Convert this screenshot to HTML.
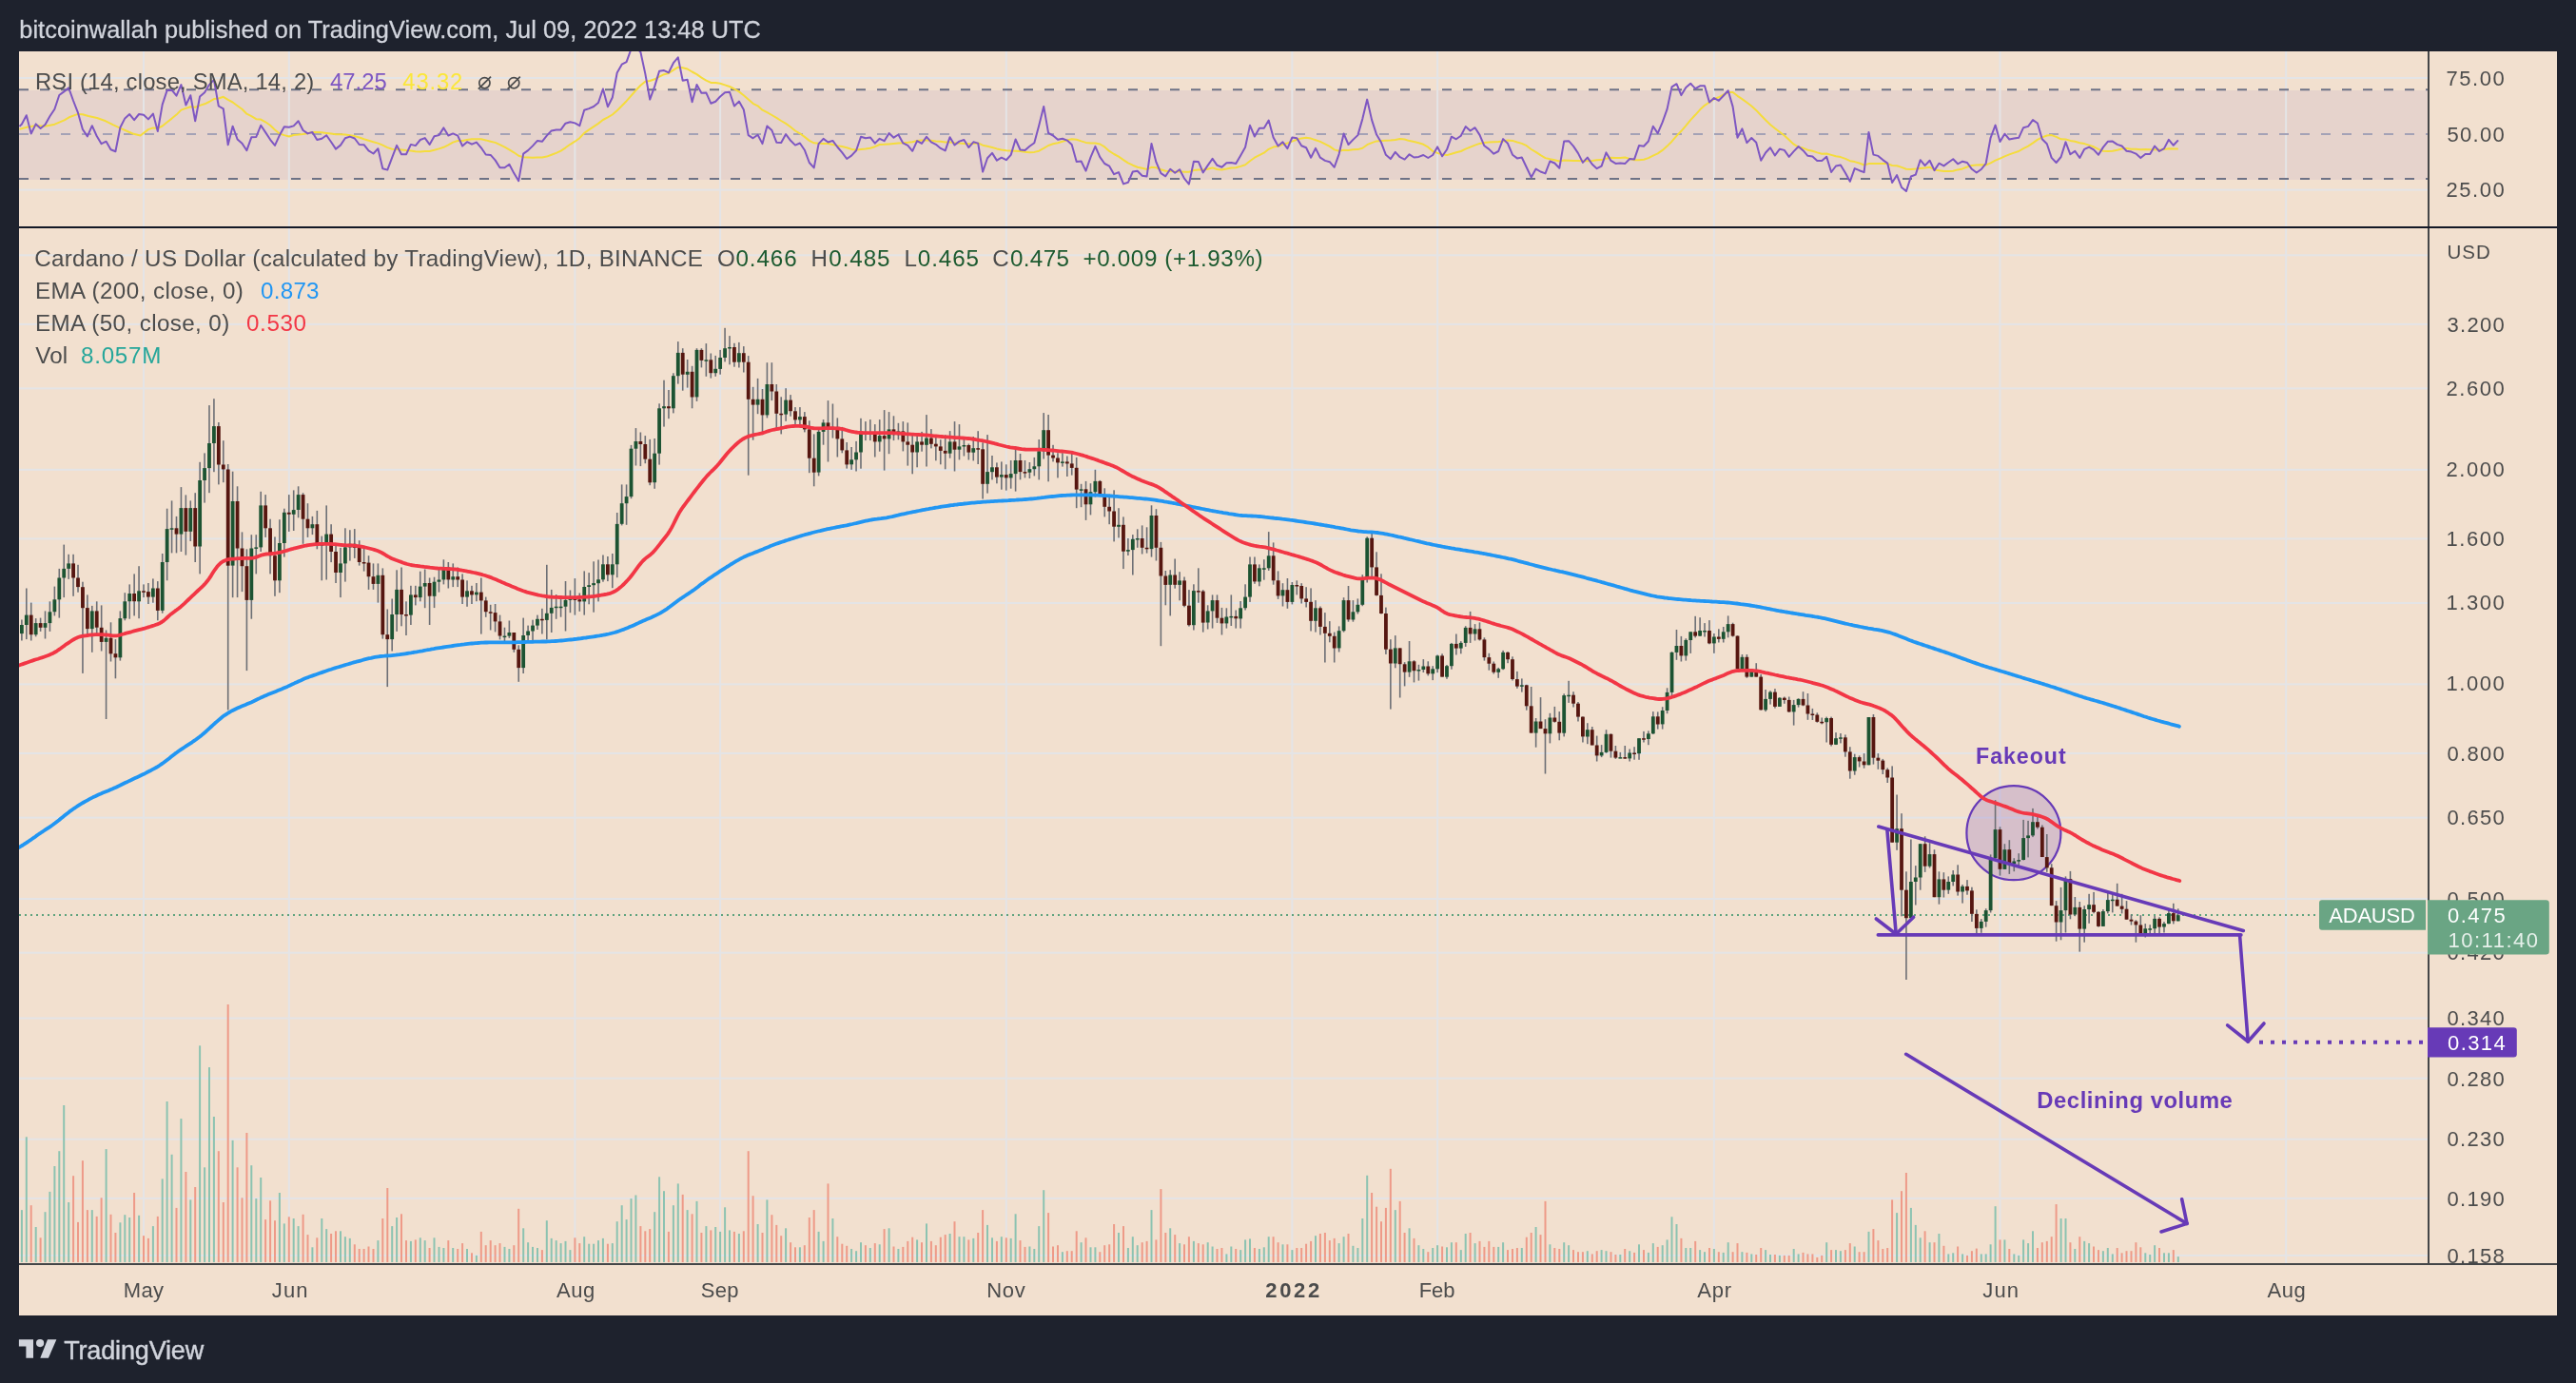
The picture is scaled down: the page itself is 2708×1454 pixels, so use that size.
<!DOCTYPE html>
<html><head><meta charset="utf-8"><style>
html,body{margin:0;padding:0;}
body{width:2708px;height:1454px;background:#1e222d;overflow:hidden;position:relative;}
</style></head><body>
<svg width="2708" height="1454" style="position:absolute;left:0;top:0;will-change:transform"><defs><clipPath id="cm"><rect x="20" y="240" width="2532" height="1087.5"/></clipPath><clipPath id="cr"><rect x="20" y="54" width="2532" height="183.5"/></clipPath></defs><rect x="20" y="54" width="2668" height="1329" fill="#f2e0cf"/><rect x="20" y="95" width="2533" height="94" fill="#e6d3cc"/><rect x="150.0" y="54" width="2" height="1274.5" fill="#e4e4e6"/><rect x="302.8" y="54" width="2" height="1274.5" fill="#e4e4e6"/><rect x="603.4" y="54" width="2" height="1274.5" fill="#e4e4e6"/><rect x="756.1" y="54" width="2" height="1274.5" fill="#e4e4e6"/><rect x="1056.8" y="54" width="2" height="1274.5" fill="#e4e4e6"/><rect x="1357.4" y="54" width="2" height="1274.5" fill="#e4e4e6"/><rect x="1510.1" y="54" width="2" height="1274.5" fill="#e4e4e6"/><rect x="1800.9" y="54" width="2" height="1274.5" fill="#e4e4e6"/><rect x="2101.5" y="54" width="2" height="1274.5" fill="#e4e4e6"/><rect x="2402.1" y="54" width="2" height="1274.5" fill="#e4e4e6"/><rect x="20" y="267.3" width="2533" height="2" fill="#e4e4e6"/><rect x="20" y="339.9" width="2533" height="2" fill="#e4e4e6"/><rect x="20" y="407.4" width="2533" height="2" fill="#e4e4e6"/><rect x="20" y="492.8" width="2533" height="2" fill="#e4e4e6"/><rect x="20" y="565.4" width="2533" height="2" fill="#e4e4e6"/><rect x="20" y="633.0" width="2533" height="2" fill="#e4e4e6"/><rect x="20" y="718.4" width="2533" height="2" fill="#e4e4e6"/><rect x="20" y="791.0" width="2533" height="2" fill="#e4e4e6"/><rect x="20" y="858.6" width="2533" height="2" fill="#e4e4e6"/><rect x="20" y="944.0" width="2533" height="2" fill="#e4e4e6"/><rect x="20" y="1000.7" width="2533" height="2" fill="#e4e4e6"/><rect x="20" y="1069.5" width="2533" height="2" fill="#e4e4e6"/><rect x="20" y="1132.7" width="2533" height="2" fill="#e4e4e6"/><rect x="20" y="1196.7" width="2533" height="2" fill="#e4e4e6"/><rect x="20" y="1258.9" width="2533" height="2" fill="#e4e4e6"/><rect x="20" y="1318.9" width="2533" height="2" fill="#e4e4e6"/><rect x="20" y="81" width="2533" height="2" fill="#e4e4e6"/><rect x="20" y="198.6" width="2533" height="2" fill="#e4e4e6"/><line x1="20" y1="94.2" x2="2553" y2="94.2" stroke="#6e7286" stroke-width="2" stroke-dasharray="10 12"/><line x1="20" y1="141" x2="2553" y2="141" stroke="#a4a2b6" stroke-width="2" stroke-dasharray="10 12"/><line x1="20" y1="188" x2="2553" y2="188" stroke="#6e7286" stroke-width="2" stroke-dasharray="10 12"/><polyline points="20.5,135.9 28.1,133.7 38.2,132.1 47.4,132.7 57.5,130.7 67.6,126.3 72.7,123.3 81.8,119.9 86.8,120.2 92.9,122.0 102.0,124.0 111.1,127.3 119.2,131.4 127.3,135.1 139.5,140.5 147.6,142.5 155.9,136.1 160.9,134.4 165.8,134.9 170.7,132.5 175.6,128.5 180.6,124.6 185.5,120.6 190.4,115.6 195.4,113.9 200.3,112.2 205.2,112.7 210.1,110.9 215.1,109.3 220.0,107.0 224.9,104.1 229.8,103.5 234.8,101.8 239.7,104.8 244.6,107.5 249.6,111.2 254.5,114.8 259.4,119.7 264.3,122.1 269.3,125.2 274.2,125.6 279.1,128.3 284.1,131.8 289.0,136.4 293.9,140.5 298.8,142.1 303.8,143.5 308.7,142.0 313.6,141.6 318.6,141.0 323.5,140.2 328.4,138.9 333.3,139.0 338.3,139.2 343.2,139.9 348.1,140.6 353.0,141.3 358.0,141.3 362.9,141.5 367.8,142.3 372.8,143.1 377.7,144.5 382.6,146.3 387.5,147.8 392.5,149.3 397.4,150.6 402.3,152.7 407.3,155.1 412.2,156.8 417.1,157.0 422.0,157.4 427.0,158.1 431.9,158.6 436.8,159.3 441.8,159.4 446.7,158.9 451.6,158.9 456.5,157.8 461.5,156.4 466.4,154.8 471.3,152.3 476.2,149.6 481.2,148.0 486.1,148.0 491.0,147.1 496.0,146.3 500.9,146.2 505.8,146.3 510.7,147.4 515.7,148.7 520.6,149.9 525.5,152.2 530.5,154.7 535.4,157.4 540.3,160.3 545.2,163.8 550.2,165.2 555.1,165.5 560.0,165.8 565.0,165.5 569.9,165.5 574.8,164.6 579.7,162.8 584.7,160.9 589.6,158.6 594.5,155.3 599.4,151.8 604.4,148.7 609.3,145.2 614.2,139.8 619.2,136.4 624.1,133.1 629.0,129.9 633.9,126.0 638.9,123.4 643.8,120.5 648.7,116.2 653.7,111.3 658.6,106.2 663.5,100.6 668.4,95.0 673.4,89.7 678.3,85.8 683.2,85.0 688.2,83.3 693.1,80.7 698.0,78.2 702.9,77.0 707.9,73.7 712.8,70.7 717.7,71.3 722.6,72.5 727.6,75.5 732.5,78.1 737.4,81.6 742.4,84.6 747.3,86.9 752.2,87.0 757.1,87.8 762.1,89.4 767.0,91.0 771.9,93.5 776.9,96.4 781.8,100.3 786.7,104.4 791.6,108.8 796.6,111.3 801.5,115.7 806.4,118.2 811.4,121.0 816.3,123.9 821.2,127.0 826.1,129.9 831.1,133.5 836.0,137.5 840.9,140.3 845.8,143.9 850.8,147.9 855.7,150.3 860.6,150.8 865.6,151.0 870.5,150.9 875.4,152.0 880.3,153.3 885.3,154.0 890.2,155.2 895.1,156.9 900.1,157.6 905.0,157.0 909.9,156.6 914.8,155.7 919.8,154.2 924.7,152.0 929.6,151.8 934.6,151.4 939.5,151.0 944.4,150.6 949.3,150.3 954.3,149.8 959.2,149.2 964.1,148.1 969.0,147.5 974.0,147.5 978.9,147.8 983.8,148.4 988.8,148.7 993.7,149.6 998.6,149.4 1003.5,150.2 1008.5,150.5 1013.4,150.9 1018.3,151.2 1023.3,151.0 1028.2,150.4 1033.1,152.7 1038.0,153.8 1043.0,155.0 1047.9,156.4 1052.8,157.4 1057.8,158.3 1062.7,158.6 1067.6,158.7 1072.5,159.1 1077.5,159.8 1082.4,160.3 1087.3,159.9 1092.2,158.7 1097.2,155.9 1102.1,153.0 1107.0,151.3 1112.0,150.3 1116.9,148.7 1121.8,147.4 1126.7,146.2 1131.7,146.7 1136.6,148.4 1141.5,149.9 1146.5,150.5 1151.4,150.5 1156.3,151.5 1161.2,154.4 1166.2,158.9 1171.1,162.0 1176.0,164.7 1181.0,168.1 1185.9,171.4 1190.8,173.7 1195.7,175.7 1200.7,176.8 1205.6,177.9 1210.5,175.8 1215.4,176.2 1220.4,178.2 1225.3,179.7 1230.2,180.1 1235.2,180.6 1240.1,180.2 1245.0,180.7 1249.9,180.7 1254.9,179.1 1259.8,178.4 1264.7,178.5 1269.7,177.7 1274.6,176.4 1279.5,178.0 1284.4,178.4 1289.4,177.6 1294.3,176.6 1299.2,176.2 1304.2,174.9 1309.1,173.2 1314.0,169.2 1318.9,165.7 1323.9,163.2 1328.8,160.7 1333.7,156.8 1338.6,154.6 1343.6,153.7 1348.5,151.9 1353.4,150.5 1358.4,148.6 1363.3,146.8 1368.2,145.4 1373.1,144.8 1378.1,145.6 1383.0,147.3 1387.9,148.9 1392.9,151.4 1397.8,153.9 1402.7,157.4 1407.6,158.7 1412.6,157.7 1417.5,157.9 1422.4,157.3 1427.4,157.1 1432.3,155.7 1437.2,152.2 1442.1,150.1 1447.1,148.4 1452.0,147.9 1456.9,147.7 1461.8,147.6 1466.8,146.9 1471.7,146.1 1476.6,146.5 1481.6,148.1 1486.5,149.0 1491.4,150.3 1496.3,151.8 1501.3,154.7 1506.2,158.9 1511.1,160.9 1516.1,162.6 1521.0,163.1 1525.9,161.7 1530.8,160.2 1535.8,159.0 1540.7,156.7 1545.6,154.6 1550.6,152.6 1555.5,150.9 1560.4,150.1 1565.3,149.6 1570.3,149.3 1575.2,149.0 1580.1,148.4 1585.0,147.5 1590.0,147.9 1594.9,149.5 1599.8,150.9 1604.8,153.2 1609.7,157.0 1614.6,159.9 1619.5,163.2 1624.5,166.1 1629.4,167.3 1634.3,168.3 1639.3,169.4 1644.2,168.6 1649.1,168.8 1654.0,169.0 1659.0,168.9 1663.9,169.2 1668.8,169.2 1673.8,169.0 1678.7,168.3 1683.6,168.1 1688.5,166.7 1693.5,165.7 1698.4,165.9 1703.3,165.9 1708.2,165.5 1713.2,166.9 1718.1,168.2 1723.0,168.2 1728.0,167.7 1732.9,166.1 1737.8,163.7 1742.7,161.4 1747.7,157.9 1752.6,153.6 1757.5,148.7 1762.5,142.9 1767.4,137.8 1772.3,132.1 1777.2,126.1 1782.2,120.8 1787.1,115.3 1792.0,110.8 1797.0,107.5 1801.9,104.2 1806.8,102.3 1811.7,99.5 1816.7,97.1 1821.6,97.0 1826.5,100.8 1831.4,104.1 1836.4,107.7 1841.3,111.5 1846.2,115.9 1851.2,121.3 1856.1,126.3 1861.0,131.0 1865.9,135.0 1870.9,138.8 1875.8,142.5 1880.7,147.1 1885.7,151.7 1890.6,154.7 1895.5,155.6 1900.4,157.7 1905.4,158.7 1910.3,160.4 1915.2,161.8 1920.2,161.5 1925.1,162.9 1930.0,164.3 1934.9,165.1 1939.9,166.9 1944.8,169.2 1949.7,170.1 1954.6,171.5 1959.6,173.5 1964.5,172.1 1969.4,172.0 1974.4,172.0 1979.3,171.9 1984.2,172.1 1989.1,174.0 1994.1,174.3 1999.0,175.9 2003.9,177.8 2008.9,178.1 2013.8,177.6 2018.7,176.9 2023.6,176.6 2028.6,175.7 2033.5,178.6 2038.4,179.2 2043.4,179.9 2048.3,180.1 2053.2,179.8 2058.1,178.4 2063.1,177.4 2068.0,175.5 2072.9,173.9 2077.8,173.6 2082.8,173.2 2087.7,173.5 2092.6,171.4 2097.6,168.7 2102.5,166.6 2107.4,164.4 2112.3,162.4 2117.3,160.6 2122.2,159.0 2127.1,156.2 2132.1,153.6 2137.0,150.4 2141.9,146.9 2146.8,144.4 2151.8,142.5 2156.7,142.1 2161.6,143.9 2166.6,146.3 2171.5,146.4 2176.4,147.9 2181.3,148.8 2186.3,150.2 2191.2,151.1 2196.1,152.6 2201.0,154.3 2206.0,156.9 2210.9,158.7 2215.8,158.9 2220.8,158.7 2225.7,157.7 2230.6,156.5 2235.5,156.0 2240.5,156.8 2245.4,156.7 2250.3,157.2 2255.3,157.0 2260.2,157.3 2265.1,157.2 2270.0,157.4 2275.0,156.9 2279.9,156.3 2284.8,156.6 2289.8,156.5" fill="none" stroke="#f5dc3c" stroke-width="2" stroke-linejoin="round" clip-path="url(#cr)"/><polyline points="20.5,132.9 22.9,130.5 27.8,121.2 32.7,140.5 37.7,130.4 42.6,134.9 47.5,130.9 52.4,122.3 57.4,114.7 62.3,100.0 67.2,96.4 72.2,92.4 77.1,106.0 82.0,118.7 86.9,136.0 91.9,143.4 96.8,132.2 101.7,143.0 106.6,151.2 111.6,148.7 116.5,157.3 121.4,159.3 126.4,134.0 131.3,124.4 136.2,120.1 141.1,126.2 146.1,120.0 151.0,120.7 155.9,125.4 160.9,119.6 165.8,138.1 170.7,109.9 175.6,95.1 180.6,94.7 185.5,100.7 190.4,89.1 195.4,110.6 200.3,100.2 205.2,127.3 210.1,101.4 215.1,97.2 220.0,89.1 224.9,83.9 229.8,111.5 234.8,114.3 239.7,152.3 244.6,132.7 249.6,146.5 254.5,150.8 259.4,158.2 264.3,144.3 269.3,144.0 274.2,131.8 279.1,139.1 284.1,146.8 289.0,152.9 293.9,142.2 298.8,133.2 303.8,133.8 308.7,132.4 313.6,127.2 318.6,137.0 323.5,140.4 328.4,138.9 333.3,147.0 338.3,145.7 343.2,142.2 348.1,149.2 353.0,156.6 358.0,152.6 362.9,145.2 367.8,143.6 372.8,145.5 377.7,152.0 382.6,152.2 387.5,158.4 392.5,161.5 397.4,156.3 402.3,177.3 407.3,178.6 412.2,165.6 417.1,152.9 422.0,162.2 427.0,162.3 431.9,151.9 436.8,153.1 441.8,147.0 446.7,145.1 451.6,151.9 456.5,143.3 461.5,142.1 466.4,134.4 471.3,142.5 476.2,140.4 481.2,142.6 486.1,153.5 491.0,149.2 496.0,151.7 500.9,149.6 505.8,155.3 510.7,162.5 515.7,162.9 520.6,168.4 525.5,176.3 530.5,176.3 535.4,172.8 540.3,182.1 545.2,190.2 550.2,161.6 555.1,158.1 560.0,153.4 565.0,147.9 569.9,148.8 574.8,142.6 579.7,137.4 584.7,136.4 589.6,136.4 594.5,129.7 599.4,128.2 604.4,129.4 609.3,132.2 614.2,115.8 619.2,114.1 624.1,112.0 629.0,108.0 633.9,93.5 638.9,112.2 643.8,102.5 648.7,76.5 653.7,67.7 658.6,65.1 663.5,51.5 668.4,50.0 673.4,54.7 678.3,77.4 683.2,104.6 688.2,90.9 693.1,74.7 698.0,74.1 702.9,76.4 707.9,66.2 712.8,60.3 717.7,84.8 722.6,83.8 727.6,107.2 732.5,89.0 737.4,97.8 742.4,97.6 747.3,108.7 752.2,106.7 757.1,101.5 762.1,97.3 767.0,96.7 771.9,111.5 776.9,106.6 781.8,115.2 786.7,142.1 791.6,145.3 796.6,141.8 801.5,151.1 806.4,132.4 811.4,137.0 816.3,149.7 821.2,150.1 826.1,141.1 831.1,147.8 836.0,152.6 840.9,150.5 845.8,157.7 850.8,171.0 855.7,176.4 860.6,151.1 865.6,145.9 870.5,149.5 875.4,147.9 880.3,154.5 885.3,160.4 890.2,167.0 895.1,163.6 900.1,158.2 905.0,143.8 909.9,145.3 914.8,144.4 919.8,150.6 924.7,145.8 929.6,148.2 934.6,140.1 939.5,144.7 944.4,141.5 949.3,150.4 954.3,152.9 959.2,158.8 964.1,148.1 969.0,150.9 974.0,143.8 978.9,149.4 983.8,151.8 988.8,155.9 993.7,158.4 998.6,144.2 1003.5,152.4 1008.5,148.6 1013.4,147.0 1018.3,155.0 1023.3,149.3 1028.2,150.6 1033.1,180.6 1038.0,166.3 1043.0,160.9 1047.9,168.6 1052.8,165.7 1057.8,168.2 1062.7,162.9 1067.6,146.5 1072.5,157.5 1077.5,158.1 1082.4,153.8 1087.3,150.2 1092.2,132.0 1097.2,111.9 1102.1,139.9 1107.0,142.5 1112.0,146.7 1116.9,145.7 1121.8,147.6 1126.7,151.9 1131.7,169.9 1136.6,169.5 1141.5,179.6 1146.5,165.4 1151.4,153.9 1156.3,165.1 1161.2,172.0 1166.2,174.7 1171.1,183.2 1176.0,181.1 1181.0,193.4 1185.9,191.8 1190.8,180.5 1195.7,179.7 1200.7,184.7 1205.6,185.4 1210.5,151.0 1215.4,170.4 1220.4,182.2 1225.3,185.3 1230.2,177.8 1235.2,181.7 1240.1,178.2 1245.0,187.6 1249.9,193.6 1254.9,169.8 1259.8,169.9 1264.7,181.4 1269.7,173.9 1274.6,166.9 1279.5,173.8 1284.4,175.8 1289.4,171.3 1294.3,170.9 1299.2,172.0 1304.2,163.5 1309.1,154.8 1314.0,131.8 1318.9,143.5 1323.9,134.8 1328.8,134.8 1333.7,126.6 1338.6,144.4 1343.6,153.4 1348.5,149.3 1353.4,156.2 1358.4,144.5 1363.3,145.2 1368.2,153.2 1373.1,155.2 1378.1,165.7 1383.0,155.9 1387.9,165.7 1392.9,168.9 1397.8,170.2 1402.7,175.8 1407.6,162.1 1412.6,140.5 1417.5,152.0 1422.4,146.9 1427.4,142.1 1432.3,125.1 1437.2,104.6 1442.1,126.1 1447.1,141.6 1452.0,149.8 1456.9,162.8 1461.8,167.1 1466.8,159.9 1471.7,165.2 1476.6,167.6 1481.6,162.3 1486.5,165.5 1491.4,164.9 1496.3,163.0 1501.3,166.0 1506.2,163.0 1511.1,154.4 1516.1,164.3 1521.0,157.3 1525.9,143.7 1530.8,146.3 1535.8,142.8 1540.7,133.1 1545.6,137.5 1550.6,134.2 1555.5,141.9 1560.4,153.3 1565.3,156.9 1570.3,161.7 1575.2,159.0 1580.1,146.1 1585.0,150.8 1590.0,162.7 1594.9,166.4 1599.8,165.5 1604.8,176.0 1609.7,186.4 1614.6,177.6 1619.5,180.5 1624.5,182.4 1629.4,169.5 1634.3,171.5 1639.3,176.8 1644.2,148.4 1649.1,148.2 1654.0,153.6 1659.0,161.1 1663.9,170.9 1668.8,165.6 1673.8,172.8 1678.7,177.2 1683.6,174.6 1688.5,160.4 1693.5,168.9 1698.4,171.9 1703.3,171.5 1708.2,172.1 1713.2,167.0 1718.1,167.4 1723.0,153.1 1728.0,153.7 1732.9,148.5 1737.8,132.8 1742.7,140.1 1747.7,128.4 1752.6,114.6 1757.5,91.4 1762.5,88.2 1767.4,100.1 1772.3,91.9 1777.2,87.8 1782.2,93.1 1787.1,90.3 1792.0,90.3 1797.0,107.5 1801.9,103.0 1806.8,105.8 1811.7,100.7 1816.7,95.3 1821.6,112.1 1826.5,144.7 1831.4,135.4 1836.4,150.1 1841.3,145.0 1846.2,149.7 1851.2,168.7 1856.1,160.5 1861.0,155.3 1865.9,163.4 1870.9,156.7 1875.8,157.9 1880.7,164.9 1885.7,159.1 1890.6,154.0 1895.5,158.2 1900.4,163.8 1905.4,164.4 1910.3,168.9 1915.2,169.1 1920.2,164.7 1925.1,181.0 1930.0,174.5 1934.9,173.6 1939.9,181.8 1944.8,190.8 1949.7,177.1 1954.6,179.2 1959.6,181.1 1964.5,138.9 1969.4,162.6 1974.4,163.9 1979.3,168.1 1984.2,171.6 1989.1,192.0 1994.1,184.1 1999.0,196.9 2003.9,201.1 2008.9,185.5 2013.8,183.6 2018.7,168.2 2023.6,174.1 2028.6,168.7 2033.5,179.1 2038.4,171.7 2043.4,174.4 2048.3,170.7 2053.2,167.3 2058.1,172.3 2063.1,169.7 2068.0,171.0 2072.9,177.8 2077.8,181.5 2082.8,178.0 2087.7,171.8 2092.6,144.8 2097.6,131.6 2102.5,149.1 2107.4,140.7 2112.3,146.5 2117.3,145.5 2122.2,144.8 2127.1,134.2 2132.1,132.9 2137.0,126.1 2141.9,129.5 2146.8,146.2 2151.8,151.2 2156.7,165.9 2161.6,171.0 2166.6,165.0 2171.5,149.4 2176.4,162.3 2181.3,158.9 2186.3,166.0 2191.2,156.8 2196.1,154.6 2201.0,157.4 2206.0,162.8 2210.9,154.9 2215.8,148.8 2220.8,148.6 2225.7,151.9 2230.6,153.5 2235.5,158.7 2240.5,159.6 2245.4,161.6 2250.3,166.1 2255.3,162.0 2260.2,161.9 2265.1,153.6 2270.0,159.0 2275.0,156.1 2279.9,146.8 2284.8,152.8 2289.8,147.4" fill="none" stroke="#7e57c2" stroke-width="2" stroke-linejoin="round" clip-path="url(#cr)"/><circle cx="2116.9" cy="875.7" r="49.5" fill="#673ab7" fill-opacity="0.2" stroke="#673ab7" stroke-width="2.2"/><g clip-path="url(#cm)"><rect x="21.9" y="1272.1" width="2" height="54.9" fill="#8cc3b1"/><rect x="26.8" y="1195.3" width="2" height="131.7" fill="#8cc3b1"/><rect x="31.7" y="1267.2" width="2" height="59.8" fill="#ee9a88"/><rect x="36.7" y="1290.0" width="2" height="37.0" fill="#8cc3b1"/><rect x="41.6" y="1301.3" width="2" height="25.7" fill="#ee9a88"/><rect x="46.5" y="1274.2" width="2" height="52.8" fill="#8cc3b1"/><rect x="51.4" y="1252.9" width="2" height="74.1" fill="#8cc3b1"/><rect x="56.4" y="1226.0" width="2" height="101.0" fill="#8cc3b1"/><rect x="61.3" y="1210.2" width="2" height="116.8" fill="#8cc3b1"/><rect x="66.2" y="1162.0" width="2" height="165.0" fill="#8cc3b1"/><rect x="71.2" y="1264.0" width="2" height="63.0" fill="#8cc3b1"/><rect x="76.1" y="1236.2" width="2" height="90.8" fill="#ee9a88"/><rect x="81.0" y="1284.9" width="2" height="42.1" fill="#ee9a88"/><rect x="85.9" y="1220.2" width="2" height="106.8" fill="#ee9a88"/><rect x="90.9" y="1272.1" width="2" height="54.9" fill="#ee9a88"/><rect x="95.8" y="1272.1" width="2" height="54.9" fill="#8cc3b1"/><rect x="100.7" y="1278.9" width="2" height="48.1" fill="#ee9a88"/><rect x="105.6" y="1259.3" width="2" height="67.7" fill="#ee9a88"/><rect x="110.6" y="1208.1" width="2" height="118.9" fill="#8cc3b1"/><rect x="115.5" y="1276.8" width="2" height="50.2" fill="#ee9a88"/><rect x="120.4" y="1296.0" width="2" height="31.0" fill="#ee9a88"/><rect x="125.4" y="1285.3" width="2" height="41.7" fill="#8cc3b1"/><rect x="130.3" y="1277.2" width="2" height="49.8" fill="#8cc3b1"/><rect x="135.2" y="1280.0" width="2" height="47.0" fill="#8cc3b1"/><rect x="140.1" y="1254.0" width="2" height="73.0" fill="#ee9a88"/><rect x="145.1" y="1277.8" width="2" height="49.2" fill="#8cc3b1"/><rect x="150.0" y="1299.2" width="2" height="27.8" fill="#ee9a88"/><rect x="154.9" y="1301.9" width="2" height="25.1" fill="#ee9a88"/><rect x="159.9" y="1289.1" width="2" height="37.9" fill="#8cc3b1"/><rect x="164.8" y="1278.9" width="2" height="48.1" fill="#ee9a88"/><rect x="169.7" y="1239.4" width="2" height="87.6" fill="#8cc3b1"/><rect x="174.6" y="1158.0" width="2" height="169.0" fill="#8cc3b1"/><rect x="179.6" y="1213.8" width="2" height="113.2" fill="#8cc3b1"/><rect x="184.5" y="1269.9" width="2" height="57.1" fill="#ee9a88"/><rect x="189.4" y="1176.1" width="2" height="150.9" fill="#8cc3b1"/><rect x="194.4" y="1232.0" width="2" height="95.0" fill="#ee9a88"/><rect x="199.3" y="1261.4" width="2" height="65.6" fill="#8cc3b1"/><rect x="204.2" y="1248.0" width="2" height="79.0" fill="#ee9a88"/><rect x="209.1" y="1099.3" width="2" height="227.7" fill="#8cc3b1"/><rect x="214.1" y="1227.3" width="2" height="99.7" fill="#8cc3b1"/><rect x="219.0" y="1122.1" width="2" height="204.9" fill="#8cc3b1"/><rect x="223.9" y="1174.0" width="2" height="153.0" fill="#8cc3b1"/><rect x="228.8" y="1210.2" width="2" height="116.8" fill="#ee9a88"/><rect x="233.8" y="1264.0" width="2" height="63.0" fill="#ee9a88"/><rect x="238.7" y="1056.0" width="2" height="271.0" fill="#ee9a88"/><rect x="243.6" y="1198.9" width="2" height="128.1" fill="#8cc3b1"/><rect x="248.6" y="1227.3" width="2" height="99.7" fill="#ee9a88"/><rect x="253.5" y="1259.3" width="2" height="67.7" fill="#ee9a88"/><rect x="258.4" y="1191.0" width="2" height="136.0" fill="#ee9a88"/><rect x="263.3" y="1225.2" width="2" height="101.8" fill="#8cc3b1"/><rect x="268.3" y="1260.1" width="2" height="66.9" fill="#8cc3b1"/><rect x="273.2" y="1238.0" width="2" height="89.0" fill="#8cc3b1"/><rect x="278.1" y="1282.1" width="2" height="44.9" fill="#ee9a88"/><rect x="283.1" y="1262.3" width="2" height="64.7" fill="#ee9a88"/><rect x="288.0" y="1283.2" width="2" height="43.8" fill="#ee9a88"/><rect x="292.9" y="1254.0" width="2" height="73.0" fill="#8cc3b1"/><rect x="297.8" y="1286.4" width="2" height="40.6" fill="#8cc3b1"/><rect x="302.8" y="1279.3" width="2" height="47.7" fill="#ee9a88"/><rect x="307.7" y="1281.0" width="2" height="46.0" fill="#8cc3b1"/><rect x="312.6" y="1289.1" width="2" height="37.9" fill="#8cc3b1"/><rect x="317.6" y="1276.8" width="2" height="50.2" fill="#ee9a88"/><rect x="322.5" y="1298.1" width="2" height="28.9" fill="#ee9a88"/><rect x="327.4" y="1311.3" width="2" height="15.7" fill="#8cc3b1"/><rect x="332.3" y="1301.3" width="2" height="25.7" fill="#ee9a88"/><rect x="337.3" y="1281.0" width="2" height="46.0" fill="#8cc3b1"/><rect x="342.2" y="1292.1" width="2" height="34.9" fill="#8cc3b1"/><rect x="347.1" y="1297.0" width="2" height="30.0" fill="#ee9a88"/><rect x="352.0" y="1294.3" width="2" height="32.7" fill="#ee9a88"/><rect x="357.0" y="1294.3" width="2" height="32.7" fill="#8cc3b1"/><rect x="361.9" y="1300.2" width="2" height="26.8" fill="#8cc3b1"/><rect x="366.8" y="1301.9" width="2" height="25.1" fill="#8cc3b1"/><rect x="371.8" y="1308.3" width="2" height="18.7" fill="#ee9a88"/><rect x="376.7" y="1313.0" width="2" height="14.0" fill="#ee9a88"/><rect x="381.6" y="1313.0" width="2" height="14.0" fill="#ee9a88"/><rect x="386.5" y="1310.5" width="2" height="16.5" fill="#ee9a88"/><rect x="391.5" y="1313.0" width="2" height="14.0" fill="#ee9a88"/><rect x="396.4" y="1304.1" width="2" height="22.9" fill="#8cc3b1"/><rect x="401.3" y="1281.0" width="2" height="46.0" fill="#ee9a88"/><rect x="406.3" y="1249.0" width="2" height="78.0" fill="#ee9a88"/><rect x="411.2" y="1289.1" width="2" height="37.9" fill="#8cc3b1"/><rect x="416.1" y="1280.0" width="2" height="47.0" fill="#8cc3b1"/><rect x="421.0" y="1276.3" width="2" height="50.7" fill="#ee9a88"/><rect x="426.0" y="1304.1" width="2" height="22.9" fill="#ee9a88"/><rect x="430.9" y="1304.9" width="2" height="22.1" fill="#8cc3b1"/><rect x="435.8" y="1303.4" width="2" height="23.6" fill="#ee9a88"/><rect x="440.8" y="1301.3" width="2" height="25.7" fill="#8cc3b1"/><rect x="445.7" y="1304.1" width="2" height="22.9" fill="#8cc3b1"/><rect x="450.6" y="1312.0" width="2" height="15.0" fill="#ee9a88"/><rect x="455.5" y="1301.3" width="2" height="25.7" fill="#8cc3b1"/><rect x="460.5" y="1310.9" width="2" height="16.1" fill="#8cc3b1"/><rect x="465.4" y="1312.0" width="2" height="15.0" fill="#8cc3b1"/><rect x="470.3" y="1304.1" width="2" height="22.9" fill="#ee9a88"/><rect x="475.2" y="1312.0" width="2" height="15.0" fill="#8cc3b1"/><rect x="480.2" y="1313.0" width="2" height="14.0" fill="#ee9a88"/><rect x="485.1" y="1307.1" width="2" height="19.9" fill="#ee9a88"/><rect x="490.0" y="1313.0" width="2" height="14.0" fill="#8cc3b1"/><rect x="495.0" y="1317.3" width="2" height="9.7" fill="#ee9a88"/><rect x="499.9" y="1319.9" width="2" height="7.1" fill="#8cc3b1"/><rect x="504.8" y="1294.9" width="2" height="32.1" fill="#ee9a88"/><rect x="509.7" y="1309.2" width="2" height="17.8" fill="#ee9a88"/><rect x="514.7" y="1304.1" width="2" height="22.9" fill="#ee9a88"/><rect x="519.6" y="1309.2" width="2" height="17.8" fill="#ee9a88"/><rect x="524.5" y="1307.1" width="2" height="19.9" fill="#ee9a88"/><rect x="529.5" y="1310.9" width="2" height="16.1" fill="#8cc3b1"/><rect x="534.4" y="1313.0" width="2" height="14.0" fill="#8cc3b1"/><rect x="539.3" y="1309.2" width="2" height="17.8" fill="#ee9a88"/><rect x="544.2" y="1270.8" width="2" height="56.2" fill="#ee9a88"/><rect x="549.2" y="1291.3" width="2" height="35.7" fill="#8cc3b1"/><rect x="554.1" y="1306.2" width="2" height="20.8" fill="#8cc3b1"/><rect x="559.0" y="1310.9" width="2" height="16.1" fill="#8cc3b1"/><rect x="564.0" y="1312.0" width="2" height="15.0" fill="#8cc3b1"/><rect x="568.9" y="1314.1" width="2" height="12.9" fill="#ee9a88"/><rect x="573.8" y="1283.2" width="2" height="43.8" fill="#8cc3b1"/><rect x="578.7" y="1301.9" width="2" height="25.1" fill="#8cc3b1"/><rect x="583.7" y="1304.1" width="2" height="22.9" fill="#8cc3b1"/><rect x="588.6" y="1307.1" width="2" height="19.9" fill="#8cc3b1"/><rect x="593.5" y="1304.9" width="2" height="22.1" fill="#8cc3b1"/><rect x="598.4" y="1314.1" width="2" height="12.9" fill="#8cc3b1"/><rect x="603.4" y="1301.3" width="2" height="25.7" fill="#ee9a88"/><rect x="608.3" y="1307.1" width="2" height="19.9" fill="#ee9a88"/><rect x="613.2" y="1300.2" width="2" height="26.8" fill="#8cc3b1"/><rect x="618.2" y="1307.7" width="2" height="19.3" fill="#8cc3b1"/><rect x="623.1" y="1307.7" width="2" height="19.3" fill="#8cc3b1"/><rect x="628.0" y="1304.1" width="2" height="22.9" fill="#8cc3b1"/><rect x="632.9" y="1301.9" width="2" height="25.1" fill="#8cc3b1"/><rect x="637.9" y="1307.7" width="2" height="19.3" fill="#ee9a88"/><rect x="642.8" y="1307.1" width="2" height="19.9" fill="#8cc3b1"/><rect x="647.7" y="1284.2" width="2" height="42.8" fill="#8cc3b1"/><rect x="652.7" y="1267.2" width="2" height="59.8" fill="#8cc3b1"/><rect x="657.6" y="1282.1" width="2" height="44.9" fill="#8cc3b1"/><rect x="662.5" y="1260.1" width="2" height="66.9" fill="#8cc3b1"/><rect x="667.4" y="1256.5" width="2" height="70.5" fill="#8cc3b1"/><rect x="672.4" y="1289.1" width="2" height="37.9" fill="#ee9a88"/><rect x="677.3" y="1294.3" width="2" height="32.7" fill="#ee9a88"/><rect x="682.2" y="1292.1" width="2" height="34.9" fill="#ee9a88"/><rect x="687.2" y="1274.2" width="2" height="52.8" fill="#8cc3b1"/><rect x="692.1" y="1237.3" width="2" height="89.7" fill="#8cc3b1"/><rect x="697.0" y="1252.2" width="2" height="74.8" fill="#8cc3b1"/><rect x="701.9" y="1294.9" width="2" height="32.1" fill="#ee9a88"/><rect x="706.9" y="1267.2" width="2" height="59.8" fill="#8cc3b1"/><rect x="711.8" y="1244.4" width="2" height="82.6" fill="#8cc3b1"/><rect x="716.7" y="1255.9" width="2" height="71.1" fill="#ee9a88"/><rect x="721.6" y="1272.1" width="2" height="54.9" fill="#8cc3b1"/><rect x="726.6" y="1276.3" width="2" height="50.7" fill="#ee9a88"/><rect x="731.5" y="1262.9" width="2" height="64.1" fill="#8cc3b1"/><rect x="736.4" y="1296.0" width="2" height="31.0" fill="#ee9a88"/><rect x="741.4" y="1289.1" width="2" height="37.9" fill="#8cc3b1"/><rect x="746.3" y="1293.4" width="2" height="33.6" fill="#ee9a88"/><rect x="751.2" y="1290.0" width="2" height="37.0" fill="#8cc3b1"/><rect x="756.1" y="1294.9" width="2" height="32.1" fill="#8cc3b1"/><rect x="761.1" y="1269.3" width="2" height="57.7" fill="#8cc3b1"/><rect x="766.0" y="1293.4" width="2" height="33.6" fill="#8cc3b1"/><rect x="770.9" y="1294.9" width="2" height="32.1" fill="#ee9a88"/><rect x="775.9" y="1297.0" width="2" height="30.0" fill="#8cc3b1"/><rect x="780.8" y="1294.3" width="2" height="32.7" fill="#ee9a88"/><rect x="785.7" y="1210.2" width="2" height="116.8" fill="#ee9a88"/><rect x="790.6" y="1257.2" width="2" height="69.8" fill="#ee9a88"/><rect x="795.6" y="1287.0" width="2" height="40.0" fill="#8cc3b1"/><rect x="800.5" y="1296.0" width="2" height="31.0" fill="#ee9a88"/><rect x="805.4" y="1261.4" width="2" height="65.6" fill="#8cc3b1"/><rect x="810.4" y="1277.2" width="2" height="49.8" fill="#ee9a88"/><rect x="815.3" y="1287.9" width="2" height="39.1" fill="#ee9a88"/><rect x="820.2" y="1299.2" width="2" height="27.8" fill="#ee9a88"/><rect x="825.1" y="1291.3" width="2" height="35.7" fill="#8cc3b1"/><rect x="830.1" y="1306.2" width="2" height="20.8" fill="#ee9a88"/><rect x="835.0" y="1311.3" width="2" height="15.7" fill="#ee9a88"/><rect x="839.9" y="1311.3" width="2" height="15.7" fill="#8cc3b1"/><rect x="844.8" y="1309.2" width="2" height="17.8" fill="#ee9a88"/><rect x="849.8" y="1280.0" width="2" height="47.0" fill="#ee9a88"/><rect x="854.7" y="1272.1" width="2" height="54.9" fill="#ee9a88"/><rect x="859.6" y="1294.9" width="2" height="32.1" fill="#8cc3b1"/><rect x="864.6" y="1304.9" width="2" height="22.1" fill="#8cc3b1"/><rect x="869.5" y="1244.4" width="2" height="82.6" fill="#ee9a88"/><rect x="874.4" y="1281.0" width="2" height="46.0" fill="#8cc3b1"/><rect x="879.3" y="1300.2" width="2" height="26.8" fill="#ee9a88"/><rect x="884.3" y="1307.7" width="2" height="19.3" fill="#ee9a88"/><rect x="889.2" y="1309.8" width="2" height="17.2" fill="#ee9a88"/><rect x="894.1" y="1313.0" width="2" height="14.0" fill="#8cc3b1"/><rect x="899.1" y="1315.2" width="2" height="11.8" fill="#8cc3b1"/><rect x="904.0" y="1306.2" width="2" height="20.8" fill="#8cc3b1"/><rect x="908.9" y="1309.2" width="2" height="17.8" fill="#ee9a88"/><rect x="913.8" y="1312.0" width="2" height="15.0" fill="#8cc3b1"/><rect x="918.8" y="1307.1" width="2" height="19.9" fill="#ee9a88"/><rect x="923.7" y="1308.3" width="2" height="18.7" fill="#8cc3b1"/><rect x="928.6" y="1292.1" width="2" height="34.9" fill="#ee9a88"/><rect x="933.6" y="1291.3" width="2" height="35.7" fill="#8cc3b1"/><rect x="938.5" y="1310.5" width="2" height="16.5" fill="#ee9a88"/><rect x="943.4" y="1313.0" width="2" height="14.0" fill="#8cc3b1"/><rect x="948.3" y="1310.9" width="2" height="16.1" fill="#ee9a88"/><rect x="953.3" y="1304.9" width="2" height="22.1" fill="#ee9a88"/><rect x="958.2" y="1300.7" width="2" height="26.3" fill="#ee9a88"/><rect x="963.1" y="1303.4" width="2" height="23.6" fill="#8cc3b1"/><rect x="968.0" y="1306.2" width="2" height="20.8" fill="#ee9a88"/><rect x="973.0" y="1286.4" width="2" height="40.6" fill="#8cc3b1"/><rect x="977.9" y="1304.9" width="2" height="22.1" fill="#ee9a88"/><rect x="982.8" y="1309.2" width="2" height="17.8" fill="#ee9a88"/><rect x="987.8" y="1300.7" width="2" height="26.3" fill="#ee9a88"/><rect x="992.7" y="1298.1" width="2" height="28.9" fill="#ee9a88"/><rect x="997.6" y="1297.0" width="2" height="30.0" fill="#8cc3b1"/><rect x="1002.5" y="1284.2" width="2" height="42.8" fill="#ee9a88"/><rect x="1007.5" y="1300.2" width="2" height="26.8" fill="#8cc3b1"/><rect x="1012.4" y="1300.2" width="2" height="26.8" fill="#8cc3b1"/><rect x="1017.3" y="1303.4" width="2" height="23.6" fill="#ee9a88"/><rect x="1022.3" y="1301.9" width="2" height="25.1" fill="#8cc3b1"/><rect x="1027.2" y="1296.0" width="2" height="31.0" fill="#ee9a88"/><rect x="1032.1" y="1272.1" width="2" height="54.9" fill="#ee9a88"/><rect x="1037.0" y="1287.9" width="2" height="39.1" fill="#8cc3b1"/><rect x="1042.0" y="1301.3" width="2" height="25.7" fill="#8cc3b1"/><rect x="1046.9" y="1304.9" width="2" height="22.1" fill="#ee9a88"/><rect x="1051.8" y="1300.2" width="2" height="26.8" fill="#8cc3b1"/><rect x="1056.8" y="1301.3" width="2" height="25.7" fill="#ee9a88"/><rect x="1061.7" y="1301.9" width="2" height="25.1" fill="#8cc3b1"/><rect x="1066.6" y="1276.3" width="2" height="50.7" fill="#8cc3b1"/><rect x="1071.5" y="1304.1" width="2" height="22.9" fill="#ee9a88"/><rect x="1076.5" y="1310.9" width="2" height="16.1" fill="#ee9a88"/><rect x="1081.4" y="1310.5" width="2" height="16.5" fill="#8cc3b1"/><rect x="1086.3" y="1313.0" width="2" height="14.0" fill="#8cc3b1"/><rect x="1091.2" y="1289.1" width="2" height="37.9" fill="#8cc3b1"/><rect x="1096.2" y="1251.2" width="2" height="75.8" fill="#8cc3b1"/><rect x="1101.1" y="1275.1" width="2" height="51.9" fill="#ee9a88"/><rect x="1106.0" y="1310.5" width="2" height="16.5" fill="#ee9a88"/><rect x="1111.0" y="1309.2" width="2" height="17.8" fill="#ee9a88"/><rect x="1115.9" y="1316.2" width="2" height="10.8" fill="#8cc3b1"/><rect x="1120.8" y="1315.2" width="2" height="11.8" fill="#ee9a88"/><rect x="1125.7" y="1315.2" width="2" height="11.8" fill="#ee9a88"/><rect x="1130.7" y="1294.3" width="2" height="32.7" fill="#ee9a88"/><rect x="1135.6" y="1306.2" width="2" height="20.8" fill="#8cc3b1"/><rect x="1140.5" y="1301.3" width="2" height="25.7" fill="#ee9a88"/><rect x="1145.5" y="1311.3" width="2" height="15.7" fill="#8cc3b1"/><rect x="1150.4" y="1311.3" width="2" height="15.7" fill="#8cc3b1"/><rect x="1155.3" y="1316.2" width="2" height="10.8" fill="#ee9a88"/><rect x="1160.2" y="1309.2" width="2" height="17.8" fill="#ee9a88"/><rect x="1165.2" y="1308.3" width="2" height="18.7" fill="#ee9a88"/><rect x="1170.1" y="1287.0" width="2" height="40.0" fill="#ee9a88"/><rect x="1175.0" y="1296.0" width="2" height="31.0" fill="#8cc3b1"/><rect x="1180.0" y="1289.1" width="2" height="37.9" fill="#ee9a88"/><rect x="1184.9" y="1312.0" width="2" height="15.0" fill="#8cc3b1"/><rect x="1189.8" y="1300.2" width="2" height="26.8" fill="#8cc3b1"/><rect x="1194.7" y="1309.2" width="2" height="17.8" fill="#8cc3b1"/><rect x="1199.7" y="1306.2" width="2" height="20.8" fill="#ee9a88"/><rect x="1204.6" y="1304.9" width="2" height="22.1" fill="#ee9a88"/><rect x="1209.5" y="1272.1" width="2" height="54.9" fill="#8cc3b1"/><rect x="1214.4" y="1303.4" width="2" height="23.6" fill="#ee9a88"/><rect x="1219.4" y="1250.1" width="2" height="76.9" fill="#ee9a88"/><rect x="1224.3" y="1296.0" width="2" height="31.0" fill="#ee9a88"/><rect x="1229.2" y="1291.3" width="2" height="35.7" fill="#8cc3b1"/><rect x="1234.2" y="1298.1" width="2" height="28.9" fill="#ee9a88"/><rect x="1239.1" y="1307.1" width="2" height="19.9" fill="#8cc3b1"/><rect x="1244.0" y="1308.3" width="2" height="18.7" fill="#ee9a88"/><rect x="1248.9" y="1300.2" width="2" height="26.8" fill="#ee9a88"/><rect x="1253.9" y="1304.9" width="2" height="22.1" fill="#8cc3b1"/><rect x="1258.8" y="1307.1" width="2" height="19.9" fill="#ee9a88"/><rect x="1263.7" y="1308.3" width="2" height="18.7" fill="#ee9a88"/><rect x="1268.7" y="1306.2" width="2" height="20.8" fill="#8cc3b1"/><rect x="1273.6" y="1310.5" width="2" height="16.5" fill="#8cc3b1"/><rect x="1278.5" y="1313.0" width="2" height="14.0" fill="#ee9a88"/><rect x="1283.4" y="1312.0" width="2" height="15.0" fill="#ee9a88"/><rect x="1288.4" y="1318.4" width="2" height="8.6" fill="#8cc3b1"/><rect x="1293.3" y="1310.5" width="2" height="16.5" fill="#8cc3b1"/><rect x="1298.2" y="1313.0" width="2" height="14.0" fill="#ee9a88"/><rect x="1303.2" y="1314.1" width="2" height="12.9" fill="#8cc3b1"/><rect x="1308.1" y="1303.4" width="2" height="23.6" fill="#8cc3b1"/><rect x="1313.0" y="1302.4" width="2" height="24.6" fill="#8cc3b1"/><rect x="1317.9" y="1312.0" width="2" height="15.0" fill="#ee9a88"/><rect x="1322.9" y="1313.0" width="2" height="14.0" fill="#8cc3b1"/><rect x="1327.8" y="1311.3" width="2" height="15.7" fill="#8cc3b1"/><rect x="1332.7" y="1300.2" width="2" height="26.8" fill="#8cc3b1"/><rect x="1337.6" y="1300.2" width="2" height="26.8" fill="#ee9a88"/><rect x="1342.6" y="1306.2" width="2" height="20.8" fill="#ee9a88"/><rect x="1347.5" y="1308.3" width="2" height="18.7" fill="#8cc3b1"/><rect x="1352.4" y="1308.3" width="2" height="18.7" fill="#ee9a88"/><rect x="1357.4" y="1314.1" width="2" height="12.9" fill="#8cc3b1"/><rect x="1362.3" y="1312.0" width="2" height="15.0" fill="#ee9a88"/><rect x="1367.2" y="1312.0" width="2" height="15.0" fill="#ee9a88"/><rect x="1372.1" y="1307.7" width="2" height="19.3" fill="#ee9a88"/><rect x="1377.1" y="1304.9" width="2" height="22.1" fill="#ee9a88"/><rect x="1382.0" y="1299.2" width="2" height="27.8" fill="#8cc3b1"/><rect x="1386.9" y="1297.0" width="2" height="30.0" fill="#ee9a88"/><rect x="1391.9" y="1296.0" width="2" height="31.0" fill="#ee9a88"/><rect x="1396.8" y="1304.1" width="2" height="22.9" fill="#ee9a88"/><rect x="1401.7" y="1301.9" width="2" height="25.1" fill="#ee9a88"/><rect x="1406.6" y="1307.1" width="2" height="19.9" fill="#8cc3b1"/><rect x="1411.6" y="1300.2" width="2" height="26.8" fill="#8cc3b1"/><rect x="1416.5" y="1297.0" width="2" height="30.0" fill="#ee9a88"/><rect x="1421.4" y="1309.8" width="2" height="17.2" fill="#8cc3b1"/><rect x="1426.4" y="1312.0" width="2" height="15.0" fill="#8cc3b1"/><rect x="1431.3" y="1281.0" width="2" height="46.0" fill="#8cc3b1"/><rect x="1436.2" y="1235.8" width="2" height="91.2" fill="#8cc3b1"/><rect x="1441.1" y="1254.0" width="2" height="73.0" fill="#ee9a88"/><rect x="1446.1" y="1268.7" width="2" height="58.3" fill="#ee9a88"/><rect x="1451.0" y="1284.2" width="2" height="42.8" fill="#ee9a88"/><rect x="1455.9" y="1269.9" width="2" height="57.1" fill="#ee9a88"/><rect x="1460.8" y="1228.8" width="2" height="98.2" fill="#ee9a88"/><rect x="1465.8" y="1272.1" width="2" height="54.9" fill="#8cc3b1"/><rect x="1470.7" y="1262.9" width="2" height="64.1" fill="#ee9a88"/><rect x="1475.6" y="1296.0" width="2" height="31.0" fill="#ee9a88"/><rect x="1480.6" y="1291.3" width="2" height="35.7" fill="#8cc3b1"/><rect x="1485.5" y="1301.9" width="2" height="25.1" fill="#ee9a88"/><rect x="1490.4" y="1309.2" width="2" height="17.8" fill="#8cc3b1"/><rect x="1495.3" y="1313.0" width="2" height="14.0" fill="#8cc3b1"/><rect x="1500.3" y="1316.2" width="2" height="10.8" fill="#ee9a88"/><rect x="1505.2" y="1312.0" width="2" height="15.0" fill="#8cc3b1"/><rect x="1510.1" y="1309.2" width="2" height="17.8" fill="#8cc3b1"/><rect x="1515.1" y="1310.5" width="2" height="16.5" fill="#ee9a88"/><rect x="1520.0" y="1311.3" width="2" height="15.7" fill="#8cc3b1"/><rect x="1524.9" y="1306.2" width="2" height="20.8" fill="#8cc3b1"/><rect x="1529.8" y="1306.2" width="2" height="20.8" fill="#ee9a88"/><rect x="1534.8" y="1314.1" width="2" height="12.9" fill="#8cc3b1"/><rect x="1539.7" y="1297.0" width="2" height="30.0" fill="#8cc3b1"/><rect x="1544.6" y="1296.0" width="2" height="31.0" fill="#ee9a88"/><rect x="1549.6" y="1307.1" width="2" height="19.9" fill="#8cc3b1"/><rect x="1554.5" y="1304.9" width="2" height="22.1" fill="#ee9a88"/><rect x="1559.4" y="1310.9" width="2" height="16.1" fill="#ee9a88"/><rect x="1564.3" y="1304.9" width="2" height="22.1" fill="#ee9a88"/><rect x="1569.3" y="1310.9" width="2" height="16.1" fill="#ee9a88"/><rect x="1574.2" y="1310.9" width="2" height="16.1" fill="#8cc3b1"/><rect x="1579.1" y="1306.2" width="2" height="20.8" fill="#8cc3b1"/><rect x="1584.0" y="1314.1" width="2" height="12.9" fill="#ee9a88"/><rect x="1589.0" y="1313.0" width="2" height="14.0" fill="#ee9a88"/><rect x="1593.9" y="1312.0" width="2" height="15.0" fill="#ee9a88"/><rect x="1598.8" y="1312.0" width="2" height="15.0" fill="#8cc3b1"/><rect x="1603.8" y="1300.7" width="2" height="26.3" fill="#ee9a88"/><rect x="1608.7" y="1296.0" width="2" height="31.0" fill="#ee9a88"/><rect x="1613.6" y="1290.0" width="2" height="37.0" fill="#8cc3b1"/><rect x="1618.5" y="1298.1" width="2" height="28.9" fill="#ee9a88"/><rect x="1623.5" y="1262.9" width="2" height="64.1" fill="#ee9a88"/><rect x="1628.4" y="1308.3" width="2" height="18.7" fill="#8cc3b1"/><rect x="1633.3" y="1312.0" width="2" height="15.0" fill="#ee9a88"/><rect x="1638.3" y="1313.0" width="2" height="14.0" fill="#ee9a88"/><rect x="1643.2" y="1306.2" width="2" height="20.8" fill="#8cc3b1"/><rect x="1648.1" y="1309.2" width="2" height="17.8" fill="#8cc3b1"/><rect x="1653.0" y="1314.1" width="2" height="12.9" fill="#ee9a88"/><rect x="1658.0" y="1316.2" width="2" height="10.8" fill="#ee9a88"/><rect x="1662.9" y="1316.2" width="2" height="10.8" fill="#ee9a88"/><rect x="1667.8" y="1315.2" width="2" height="11.8" fill="#8cc3b1"/><rect x="1672.8" y="1318.4" width="2" height="8.6" fill="#ee9a88"/><rect x="1677.7" y="1315.2" width="2" height="11.8" fill="#ee9a88"/><rect x="1682.6" y="1314.1" width="2" height="12.9" fill="#8cc3b1"/><rect x="1687.5" y="1315.2" width="2" height="11.8" fill="#8cc3b1"/><rect x="1692.5" y="1316.2" width="2" height="10.8" fill="#ee9a88"/><rect x="1697.4" y="1319.0" width="2" height="8.0" fill="#ee9a88"/><rect x="1702.3" y="1319.0" width="2" height="8.0" fill="#8cc3b1"/><rect x="1707.2" y="1313.0" width="2" height="14.0" fill="#ee9a88"/><rect x="1712.2" y="1315.2" width="2" height="11.8" fill="#8cc3b1"/><rect x="1717.1" y="1316.9" width="2" height="10.1" fill="#ee9a88"/><rect x="1722.0" y="1308.3" width="2" height="18.7" fill="#8cc3b1"/><rect x="1727.0" y="1314.1" width="2" height="12.9" fill="#ee9a88"/><rect x="1731.9" y="1316.9" width="2" height="10.1" fill="#8cc3b1"/><rect x="1736.8" y="1307.1" width="2" height="19.9" fill="#8cc3b1"/><rect x="1741.7" y="1310.9" width="2" height="16.1" fill="#ee9a88"/><rect x="1746.7" y="1309.2" width="2" height="17.8" fill="#8cc3b1"/><rect x="1751.6" y="1303.4" width="2" height="23.6" fill="#8cc3b1"/><rect x="1756.5" y="1279.3" width="2" height="47.7" fill="#8cc3b1"/><rect x="1761.5" y="1287.0" width="2" height="40.0" fill="#8cc3b1"/><rect x="1766.4" y="1301.9" width="2" height="25.1" fill="#ee9a88"/><rect x="1771.3" y="1312.0" width="2" height="15.0" fill="#8cc3b1"/><rect x="1776.2" y="1312.0" width="2" height="15.0" fill="#8cc3b1"/><rect x="1781.2" y="1304.9" width="2" height="22.1" fill="#ee9a88"/><rect x="1786.1" y="1314.1" width="2" height="12.9" fill="#8cc3b1"/><rect x="1791.0" y="1316.2" width="2" height="10.8" fill="#8cc3b1"/><rect x="1796.0" y="1312.0" width="2" height="15.0" fill="#ee9a88"/><rect x="1800.9" y="1313.0" width="2" height="14.0" fill="#8cc3b1"/><rect x="1805.8" y="1316.2" width="2" height="10.8" fill="#ee9a88"/><rect x="1810.7" y="1316.9" width="2" height="10.1" fill="#8cc3b1"/><rect x="1815.7" y="1306.2" width="2" height="20.8" fill="#8cc3b1"/><rect x="1820.6" y="1316.2" width="2" height="10.8" fill="#ee9a88"/><rect x="1825.5" y="1307.1" width="2" height="19.9" fill="#ee9a88"/><rect x="1830.4" y="1316.2" width="2" height="10.8" fill="#8cc3b1"/><rect x="1835.4" y="1316.9" width="2" height="10.1" fill="#ee9a88"/><rect x="1840.3" y="1318.4" width="2" height="8.6" fill="#8cc3b1"/><rect x="1845.2" y="1319.0" width="2" height="8.0" fill="#ee9a88"/><rect x="1850.2" y="1312.0" width="2" height="15.0" fill="#ee9a88"/><rect x="1855.1" y="1314.1" width="2" height="12.9" fill="#8cc3b1"/><rect x="1860.0" y="1319.0" width="2" height="8.0" fill="#8cc3b1"/><rect x="1864.9" y="1319.0" width="2" height="8.0" fill="#ee9a88"/><rect x="1869.9" y="1319.9" width="2" height="7.1" fill="#8cc3b1"/><rect x="1874.8" y="1319.9" width="2" height="7.1" fill="#ee9a88"/><rect x="1879.7" y="1319.9" width="2" height="7.1" fill="#ee9a88"/><rect x="1884.7" y="1313.0" width="2" height="14.0" fill="#8cc3b1"/><rect x="1889.6" y="1318.4" width="2" height="8.6" fill="#8cc3b1"/><rect x="1894.5" y="1316.9" width="2" height="10.1" fill="#ee9a88"/><rect x="1899.4" y="1318.4" width="2" height="8.6" fill="#ee9a88"/><rect x="1904.4" y="1318.4" width="2" height="8.6" fill="#ee9a88"/><rect x="1909.3" y="1322.0" width="2" height="5.0" fill="#ee9a88"/><rect x="1914.2" y="1319.9" width="2" height="7.1" fill="#ee9a88"/><rect x="1919.2" y="1306.2" width="2" height="20.8" fill="#8cc3b1"/><rect x="1924.1" y="1314.1" width="2" height="12.9" fill="#ee9a88"/><rect x="1929.0" y="1314.1" width="2" height="12.9" fill="#8cc3b1"/><rect x="1933.9" y="1315.2" width="2" height="11.8" fill="#8cc3b1"/><rect x="1938.9" y="1314.1" width="2" height="12.9" fill="#ee9a88"/><rect x="1943.8" y="1307.1" width="2" height="19.9" fill="#ee9a88"/><rect x="1948.7" y="1310.5" width="2" height="16.5" fill="#8cc3b1"/><rect x="1953.6" y="1316.2" width="2" height="10.8" fill="#ee9a88"/><rect x="1958.6" y="1316.2" width="2" height="10.8" fill="#ee9a88"/><rect x="1963.5" y="1294.9" width="2" height="32.1" fill="#8cc3b1"/><rect x="1968.4" y="1292.1" width="2" height="34.9" fill="#ee9a88"/><rect x="1973.4" y="1304.1" width="2" height="22.9" fill="#ee9a88"/><rect x="1978.3" y="1313.0" width="2" height="14.0" fill="#ee9a88"/><rect x="1983.2" y="1312.0" width="2" height="15.0" fill="#ee9a88"/><rect x="1988.1" y="1261.4" width="2" height="65.6" fill="#ee9a88"/><rect x="1993.1" y="1275.1" width="2" height="51.9" fill="#8cc3b1"/><rect x="1998.0" y="1252.2" width="2" height="74.8" fill="#ee9a88"/><rect x="2002.9" y="1233.0" width="2" height="94.0" fill="#ee9a88"/><rect x="2007.9" y="1269.9" width="2" height="57.1" fill="#8cc3b1"/><rect x="2012.8" y="1287.9" width="2" height="39.1" fill="#8cc3b1"/><rect x="2017.7" y="1301.3" width="2" height="25.7" fill="#8cc3b1"/><rect x="2022.6" y="1294.3" width="2" height="32.7" fill="#ee9a88"/><rect x="2027.6" y="1306.2" width="2" height="20.8" fill="#8cc3b1"/><rect x="2032.5" y="1306.2" width="2" height="20.8" fill="#ee9a88"/><rect x="2037.4" y="1297.0" width="2" height="30.0" fill="#8cc3b1"/><rect x="2042.4" y="1309.8" width="2" height="17.2" fill="#ee9a88"/><rect x="2047.3" y="1318.4" width="2" height="8.6" fill="#8cc3b1"/><rect x="2052.2" y="1317.3" width="2" height="9.7" fill="#8cc3b1"/><rect x="2057.1" y="1310.5" width="2" height="16.5" fill="#ee9a88"/><rect x="2062.1" y="1318.4" width="2" height="8.6" fill="#8cc3b1"/><rect x="2067.0" y="1319.9" width="2" height="7.1" fill="#ee9a88"/><rect x="2071.9" y="1315.2" width="2" height="11.8" fill="#ee9a88"/><rect x="2076.8" y="1312.6" width="2" height="14.4" fill="#ee9a88"/><rect x="2081.8" y="1318.4" width="2" height="8.6" fill="#8cc3b1"/><rect x="2086.7" y="1318.4" width="2" height="8.6" fill="#8cc3b1"/><rect x="2091.6" y="1308.3" width="2" height="18.7" fill="#8cc3b1"/><rect x="2096.6" y="1268.2" width="2" height="58.8" fill="#8cc3b1"/><rect x="2101.5" y="1303.4" width="2" height="23.6" fill="#ee9a88"/><rect x="2106.4" y="1303.4" width="2" height="23.6" fill="#8cc3b1"/><rect x="2111.3" y="1313.0" width="2" height="14.0" fill="#ee9a88"/><rect x="2116.3" y="1318.4" width="2" height="8.6" fill="#8cc3b1"/><rect x="2121.2" y="1319.9" width="2" height="7.1" fill="#8cc3b1"/><rect x="2126.1" y="1303.4" width="2" height="23.6" fill="#8cc3b1"/><rect x="2131.1" y="1307.1" width="2" height="19.9" fill="#8cc3b1"/><rect x="2136.0" y="1294.3" width="2" height="32.7" fill="#8cc3b1"/><rect x="2140.9" y="1312.0" width="2" height="15.0" fill="#ee9a88"/><rect x="2145.8" y="1306.2" width="2" height="20.8" fill="#ee9a88"/><rect x="2150.8" y="1304.9" width="2" height="22.1" fill="#ee9a88"/><rect x="2155.7" y="1300.2" width="2" height="26.8" fill="#ee9a88"/><rect x="2160.6" y="1266.1" width="2" height="60.9" fill="#ee9a88"/><rect x="2165.6" y="1281.0" width="2" height="46.0" fill="#8cc3b1"/><rect x="2170.5" y="1281.0" width="2" height="46.0" fill="#8cc3b1"/><rect x="2175.4" y="1306.2" width="2" height="20.8" fill="#ee9a88"/><rect x="2180.3" y="1313.0" width="2" height="14.0" fill="#8cc3b1"/><rect x="2185.3" y="1300.2" width="2" height="26.8" fill="#ee9a88"/><rect x="2190.2" y="1304.9" width="2" height="22.1" fill="#8cc3b1"/><rect x="2195.1" y="1307.1" width="2" height="19.9" fill="#8cc3b1"/><rect x="2200.0" y="1310.5" width="2" height="16.5" fill="#ee9a88"/><rect x="2205.0" y="1314.1" width="2" height="12.9" fill="#ee9a88"/><rect x="2209.9" y="1315.2" width="2" height="11.8" fill="#8cc3b1"/><rect x="2214.8" y="1312.0" width="2" height="15.0" fill="#8cc3b1"/><rect x="2219.8" y="1318.4" width="2" height="8.6" fill="#8cc3b1"/><rect x="2224.7" y="1312.0" width="2" height="15.0" fill="#ee9a88"/><rect x="2229.6" y="1317.3" width="2" height="9.7" fill="#ee9a88"/><rect x="2234.5" y="1315.2" width="2" height="11.8" fill="#ee9a88"/><rect x="2239.5" y="1315.2" width="2" height="11.8" fill="#ee9a88"/><rect x="2244.4" y="1306.2" width="2" height="20.8" fill="#ee9a88"/><rect x="2249.3" y="1311.3" width="2" height="15.7" fill="#ee9a88"/><rect x="2254.3" y="1317.3" width="2" height="9.7" fill="#8cc3b1"/><rect x="2259.2" y="1319.0" width="2" height="8.0" fill="#8cc3b1"/><rect x="2264.1" y="1309.2" width="2" height="17.8" fill="#8cc3b1"/><rect x="2269.0" y="1312.0" width="2" height="15.0" fill="#ee9a88"/><rect x="2274.0" y="1317.3" width="2" height="9.7" fill="#8cc3b1"/><rect x="2278.9" y="1317.3" width="2" height="9.7" fill="#8cc3b1"/><rect x="2283.8" y="1314.1" width="2" height="12.9" fill="#ee9a88"/><rect x="2288.8" y="1321.1" width="2" height="5.9" fill="#8cc3b1"/></g><line x1="20" y1="961.9" x2="2437" y2="961.9" stroke="#5fa37e" stroke-width="2" stroke-dasharray="2 4"/><g clip-path="url(#cm)"><rect x="22.07" y="651.5" width="1.6" height="22.0" fill="#6d6f75"/><rect x="27.00" y="618.5" width="1.6" height="53.6" fill="#6d6f75"/><rect x="31.93" y="633.6" width="1.6" height="39.9" fill="#6d6f75"/><rect x="36.86" y="650.1" width="1.6" height="19.2" fill="#6d6f75"/><rect x="41.78" y="649.6" width="1.6" height="14.3" fill="#6d6f75"/><rect x="46.71" y="642.4" width="1.6" height="29.1" fill="#6d6f75"/><rect x="51.64" y="632.3" width="1.6" height="31.6" fill="#6d6f75"/><rect x="56.57" y="616.6" width="1.6" height="30.8" fill="#6d6f75"/><rect x="61.50" y="597.9" width="1.6" height="51.7" fill="#6d6f75"/><rect x="66.42" y="572.6" width="1.6" height="55.5" fill="#6d6f75"/><rect x="71.35" y="582.8" width="1.6" height="26.1" fill="#6d6f75"/><rect x="76.28" y="582.8" width="1.6" height="44.0" fill="#6d6f75"/><rect x="81.21" y="593.8" width="1.6" height="28.9" fill="#6d6f75"/><rect x="86.14" y="611.7" width="1.6" height="96.2" fill="#6d6f75"/><rect x="91.06" y="625.4" width="1.6" height="42.6" fill="#6d6f75"/><rect x="95.99" y="636.9" width="1.6" height="48.9" fill="#6d6f75"/><rect x="100.92" y="632.3" width="1.6" height="34.4" fill="#6d6f75"/><rect x="105.85" y="636.4" width="1.6" height="48.1" fill="#6d6f75"/><rect x="110.78" y="662.5" width="1.6" height="93.5" fill="#6d6f75"/><rect x="115.70" y="654.3" width="1.6" height="41.2" fill="#6d6f75"/><rect x="120.63" y="672.1" width="1.6" height="41.2" fill="#6d6f75"/><rect x="125.56" y="642.4" width="1.6" height="52.2" fill="#6d6f75"/><rect x="130.49" y="623.2" width="1.6" height="29.1" fill="#6d6f75"/><rect x="135.42" y="614.4" width="1.6" height="36.3" fill="#6d6f75"/><rect x="140.34" y="603.4" width="1.6" height="44.0" fill="#6d6f75"/><rect x="145.27" y="595.2" width="1.6" height="55.0" fill="#6d6f75"/><rect x="150.20" y="614.4" width="1.6" height="13.7" fill="#6d6f75"/><rect x="155.13" y="613.0" width="1.6" height="22.0" fill="#6d6f75"/><rect x="160.06" y="608.4" width="1.6" height="25.3" fill="#6d6f75"/><rect x="164.98" y="611.1" width="1.6" height="41.2" fill="#6d6f75"/><rect x="169.91" y="582.0" width="1.6" height="62.7" fill="#6d6f75"/><rect x="174.84" y="534.7" width="1.6" height="75.6" fill="#6d6f75"/><rect x="179.77" y="526.4" width="1.6" height="55.0" fill="#6d6f75"/><rect x="184.70" y="542.9" width="1.6" height="38.5" fill="#6d6f75"/><rect x="189.62" y="512.1" width="1.6" height="67.9" fill="#6d6f75"/><rect x="194.55" y="520.4" width="1.6" height="63.2" fill="#6d6f75"/><rect x="199.48" y="526.4" width="1.6" height="42.6" fill="#6d6f75"/><rect x="204.41" y="518.2" width="1.6" height="72.8" fill="#6d6f75"/><rect x="209.34" y="485.8" width="1.6" height="117.6" fill="#6d6f75"/><rect x="214.26" y="476.4" width="1.6" height="52.2" fill="#6d6f75"/><rect x="219.19" y="426.1" width="1.6" height="92.1" fill="#6d6f75"/><rect x="224.12" y="419.2" width="1.6" height="77.0" fill="#6d6f75"/><rect x="229.05" y="444.0" width="1.6" height="65.4" fill="#6d6f75"/><rect x="233.98" y="463.2" width="1.6" height="44.0" fill="#6d6f75"/><rect x="238.90" y="488.0" width="1.6" height="258.4" fill="#6d6f75"/><rect x="243.83" y="495.7" width="1.6" height="132.5" fill="#6d6f75"/><rect x="248.76" y="511.3" width="1.6" height="116.8" fill="#6d6f75"/><rect x="253.69" y="559.4" width="1.6" height="62.7" fill="#6d6f75"/><rect x="258.62" y="577.3" width="1.6" height="127.8" fill="#6d6f75"/><rect x="263.54" y="562.2" width="1.6" height="88.5" fill="#6d6f75"/><rect x="268.47" y="562.2" width="1.6" height="41.2" fill="#6d6f75"/><rect x="273.40" y="516.8" width="1.6" height="63.2" fill="#6d6f75"/><rect x="278.33" y="520.1" width="1.6" height="44.8" fill="#6d6f75"/><rect x="283.26" y="545.7" width="1.6" height="57.7" fill="#6d6f75"/><rect x="288.18" y="564.4" width="1.6" height="62.4" fill="#6d6f75"/><rect x="293.11" y="546.2" width="1.6" height="77.0" fill="#6d6f75"/><rect x="298.04" y="534.7" width="1.6" height="50.9" fill="#6d6f75"/><rect x="302.97" y="520.1" width="1.6" height="38.8" fill="#6d6f75"/><rect x="307.90" y="515.4" width="1.6" height="42.6" fill="#6d6f75"/><rect x="312.82" y="511.3" width="1.6" height="33.0" fill="#6d6f75"/><rect x="317.75" y="518.2" width="1.6" height="53.6" fill="#6d6f75"/><rect x="322.68" y="529.2" width="1.6" height="35.7" fill="#6d6f75"/><rect x="327.61" y="542.9" width="1.6" height="19.2" fill="#6d6f75"/><rect x="332.54" y="536.9" width="1.6" height="40.4" fill="#6d6f75"/><rect x="337.46" y="563.6" width="1.6" height="46.7" fill="#6d6f75"/><rect x="342.39" y="531.4" width="1.6" height="78.1" fill="#6d6f75"/><rect x="347.32" y="551.2" width="1.6" height="39.9" fill="#6d6f75"/><rect x="352.25" y="571.8" width="1.6" height="41.2" fill="#6d6f75"/><rect x="357.18" y="575.9" width="1.6" height="52.2" fill="#6d6f75"/><rect x="362.10" y="555.3" width="1.6" height="56.3" fill="#6d6f75"/><rect x="367.03" y="557.2" width="1.6" height="32.4" fill="#6d6f75"/><rect x="371.96" y="556.1" width="1.6" height="30.8" fill="#6d6f75"/><rect x="376.89" y="568.2" width="1.6" height="26.4" fill="#6d6f75"/><rect x="381.82" y="573.7" width="1.6" height="26.9" fill="#6d6f75"/><rect x="386.74" y="584.2" width="1.6" height="35.7" fill="#6d6f75"/><rect x="391.67" y="592.4" width="1.6" height="27.5" fill="#6d6f75"/><rect x="396.60" y="592.4" width="1.6" height="41.2" fill="#6d6f75"/><rect x="401.53" y="597.4" width="1.6" height="74.2" fill="#6d6f75"/><rect x="406.46" y="640.5" width="1.6" height="81.6" fill="#6d6f75"/><rect x="411.38" y="629.5" width="1.6" height="55.0" fill="#6d6f75"/><rect x="416.31" y="599.3" width="1.6" height="64.6" fill="#6d6f75"/><rect x="421.24" y="596.5" width="1.6" height="61.8" fill="#6d6f75"/><rect x="426.17" y="632.3" width="1.6" height="35.7" fill="#6d6f75"/><rect x="431.10" y="615.8" width="1.6" height="41.2" fill="#6d6f75"/><rect x="436.02" y="615.8" width="1.6" height="20.6" fill="#6d6f75"/><rect x="440.95" y="600.7" width="1.6" height="31.6" fill="#6d6f75"/><rect x="445.88" y="598.5" width="1.6" height="40.7" fill="#6d6f75"/><rect x="450.81" y="607.5" width="1.6" height="49.5" fill="#6d6f75"/><rect x="455.74" y="606.7" width="1.6" height="32.4" fill="#6d6f75"/><rect x="460.66" y="596.5" width="1.6" height="26.1" fill="#6d6f75"/><rect x="465.59" y="588.3" width="1.6" height="26.1" fill="#6d6f75"/><rect x="470.52" y="591.0" width="1.6" height="27.5" fill="#6d6f75"/><rect x="475.45" y="592.4" width="1.6" height="24.7" fill="#6d6f75"/><rect x="480.38" y="596.5" width="1.6" height="20.6" fill="#6d6f75"/><rect x="485.30" y="603.4" width="1.6" height="31.6" fill="#6d6f75"/><rect x="490.23" y="610.3" width="1.6" height="27.5" fill="#6d6f75"/><rect x="495.16" y="615.8" width="1.6" height="19.2" fill="#6d6f75"/><rect x="500.09" y="613.0" width="1.6" height="19.2" fill="#6d6f75"/><rect x="505.02" y="607.5" width="1.6" height="59.1" fill="#6d6f75"/><rect x="509.94" y="627.6" width="1.6" height="21.2" fill="#6d6f75"/><rect x="514.87" y="635.8" width="1.6" height="26.7" fill="#6d6f75"/><rect x="519.80" y="635.0" width="1.6" height="29.4" fill="#6d6f75"/><rect x="524.73" y="646.6" width="1.6" height="25.8" fill="#6d6f75"/><rect x="529.66" y="659.7" width="1.6" height="14.8" fill="#6d6f75"/><rect x="534.58" y="652.5" width="1.6" height="18.4" fill="#6d6f75"/><rect x="539.51" y="665.0" width="1.6" height="20.8" fill="#6d6f75"/><rect x="544.44" y="678.3" width="1.6" height="38.5" fill="#6d6f75"/><rect x="549.37" y="649.6" width="1.6" height="58.4" fill="#6d6f75"/><rect x="554.30" y="657.6" width="1.6" height="17.8" fill="#6d6f75"/><rect x="559.22" y="651.7" width="1.6" height="23.7" fill="#6d6f75"/><rect x="564.15" y="646.6" width="1.6" height="15.4" fill="#6d6f75"/><rect x="569.08" y="639.8" width="1.6" height="26.7" fill="#6d6f75"/><rect x="574.01" y="593.8" width="1.6" height="78.6" fill="#6d6f75"/><rect x="578.94" y="619.9" width="1.6" height="45.1" fill="#6d6f75"/><rect x="583.86" y="625.0" width="1.6" height="25.8" fill="#6d6f75"/><rect x="588.79" y="628.8" width="1.6" height="19.9" fill="#6d6f75"/><rect x="593.72" y="611.0" width="1.6" height="52.5" fill="#6d6f75"/><rect x="598.65" y="620.5" width="1.6" height="23.7" fill="#6d6f75"/><rect x="603.58" y="608.1" width="1.6" height="38.5" fill="#6d6f75"/><rect x="608.50" y="623.5" width="1.6" height="19.3" fill="#6d6f75"/><rect x="613.43" y="600.4" width="1.6" height="46.2" fill="#6d6f75"/><rect x="618.36" y="602.1" width="1.6" height="33.2" fill="#6d6f75"/><rect x="623.29" y="590.3" width="1.6" height="53.4" fill="#6d6f75"/><rect x="628.22" y="588.5" width="1.6" height="43.9" fill="#6d6f75"/><rect x="633.14" y="583.5" width="1.6" height="28.2" fill="#6d6f75"/><rect x="638.07" y="585.0" width="1.6" height="26.1" fill="#6d6f75"/><rect x="643.00" y="582.0" width="1.6" height="36.2" fill="#6d6f75"/><rect x="647.93" y="539.0" width="1.6" height="68.2" fill="#6d6f75"/><rect x="652.86" y="509.4" width="1.6" height="43.0" fill="#6d6f75"/><rect x="657.78" y="509.4" width="1.6" height="42.4" fill="#6d6f75"/><rect x="662.71" y="467.9" width="1.6" height="56.3" fill="#6d6f75"/><rect x="667.64" y="450.1" width="1.6" height="39.4" fill="#6d6f75"/><rect x="672.57" y="454.5" width="1.6" height="35.6" fill="#6d6f75"/><rect x="677.50" y="458.1" width="1.6" height="29.1" fill="#6d6f75"/><rect x="682.42" y="461.9" width="1.6" height="48.3" fill="#6d6f75"/><rect x="687.35" y="461.0" width="1.6" height="52.8" fill="#6d6f75"/><rect x="692.28" y="424.3" width="1.6" height="64.3" fill="#6d6f75"/><rect x="697.21" y="399.7" width="1.6" height="48.9" fill="#6d6f75"/><rect x="702.14" y="410.0" width="1.6" height="30.2" fill="#6d6f75"/><rect x="707.06" y="392.3" width="1.6" height="42.1" fill="#6d6f75"/><rect x="711.99" y="359.1" width="1.6" height="44.5" fill="#6d6f75"/><rect x="716.92" y="366.2" width="1.6" height="44.5" fill="#6d6f75"/><rect x="721.85" y="378.0" width="1.6" height="29.6" fill="#6d6f75"/><rect x="726.78" y="384.8" width="1.6" height="44.5" fill="#6d6f75"/><rect x="731.70" y="366.2" width="1.6" height="55.7" fill="#6d6f75"/><rect x="736.63" y="366.2" width="1.6" height="20.2" fill="#6d6f75"/><rect x="741.56" y="361.1" width="1.6" height="34.7" fill="#6d6f75"/><rect x="746.49" y="371.5" width="1.6" height="26.1" fill="#6d6f75"/><rect x="751.42" y="373.9" width="1.6" height="21.9" fill="#6d6f75"/><rect x="756.34" y="367.9" width="1.6" height="25.8" fill="#6d6f75"/><rect x="761.27" y="344.8" width="1.6" height="35.6" fill="#6d6f75"/><rect x="766.20" y="353.1" width="1.6" height="30.2" fill="#6d6f75"/><rect x="771.13" y="360.8" width="1.6" height="24.9" fill="#6d6f75"/><rect x="776.06" y="359.9" width="1.6" height="26.6" fill="#6d6f75"/><rect x="780.98" y="364.1" width="1.6" height="27.4" fill="#6d6f75"/><rect x="785.91" y="374.1" width="1.6" height="125.6" fill="#6d6f75"/><rect x="790.84" y="406.8" width="1.6" height="55.9" fill="#6d6f75"/><rect x="795.77" y="397.9" width="1.6" height="37.3" fill="#6d6f75"/><rect x="800.70" y="409.0" width="1.6" height="48.2" fill="#6d6f75"/><rect x="805.62" y="381.2" width="1.6" height="58.2" fill="#6d6f75"/><rect x="810.55" y="381.2" width="1.6" height="39.9" fill="#6d6f75"/><rect x="815.48" y="404.0" width="1.6" height="48.7" fill="#6d6f75"/><rect x="820.41" y="417.3" width="1.6" height="39.1" fill="#6d6f75"/><rect x="825.34" y="408.2" width="1.6" height="34.6" fill="#6d6f75"/><rect x="830.26" y="415.1" width="1.6" height="22.6" fill="#6d6f75"/><rect x="835.19" y="428.1" width="1.6" height="19.6" fill="#6d6f75"/><rect x="840.12" y="428.1" width="1.6" height="18.3" fill="#6d6f75"/><rect x="845.05" y="433.1" width="1.6" height="21.3" fill="#6d6f75"/><rect x="849.98" y="442.3" width="1.6" height="54.9" fill="#6d6f75"/><rect x="854.90" y="456.4" width="1.6" height="54.9" fill="#6d6f75"/><rect x="859.83" y="449.7" width="1.6" height="50.7" fill="#6d6f75"/><rect x="864.76" y="441.1" width="1.6" height="26.6" fill="#6d6f75"/><rect x="869.69" y="421.1" width="1.6" height="64.4" fill="#6d6f75"/><rect x="874.62" y="424.5" width="1.6" height="36.1" fill="#6d6f75"/><rect x="879.54" y="439.4" width="1.6" height="41.1" fill="#6d6f75"/><rect x="884.47" y="448.9" width="1.6" height="27.4" fill="#6d6f75"/><rect x="889.40" y="465.0" width="1.6" height="27.6" fill="#6d6f75"/><rect x="894.33" y="470.0" width="1.6" height="23.8" fill="#6d6f75"/><rect x="899.26" y="463.9" width="1.6" height="31.6" fill="#6d6f75"/><rect x="904.18" y="439.8" width="1.6" height="52.9" fill="#6d6f75"/><rect x="909.11" y="443.1" width="1.6" height="20.0" fill="#6d6f75"/><rect x="914.04" y="441.1" width="1.6" height="22.0" fill="#6d6f75"/><rect x="918.97" y="446.1" width="1.6" height="34.4" fill="#6d6f75"/><rect x="923.90" y="441.1" width="1.6" height="33.6" fill="#6d6f75"/><rect x="928.82" y="431.1" width="1.6" height="63.5" fill="#6d6f75"/><rect x="933.75" y="433.1" width="1.6" height="44.1" fill="#6d6f75"/><rect x="938.68" y="437.3" width="1.6" height="25.8" fill="#6d6f75"/><rect x="943.61" y="444.8" width="1.6" height="17.5" fill="#6d6f75"/><rect x="948.54" y="443.1" width="1.6" height="31.3" fill="#6d6f75"/><rect x="953.46" y="444.4" width="1.6" height="45.2" fill="#6d6f75"/><rect x="958.39" y="455.6" width="1.6" height="42.7" fill="#6d6f75"/><rect x="963.32" y="457.2" width="1.6" height="34.1" fill="#6d6f75"/><rect x="968.25" y="453.9" width="1.6" height="20.8" fill="#6d6f75"/><rect x="973.18" y="436.1" width="1.6" height="54.4" fill="#6d6f75"/><rect x="978.10" y="451.1" width="1.6" height="20.3" fill="#6d6f75"/><rect x="983.03" y="458.9" width="1.6" height="25.4" fill="#6d6f75"/><rect x="987.96" y="462.2" width="1.6" height="26.1" fill="#6d6f75"/><rect x="992.89" y="457.2" width="1.6" height="36.1" fill="#6d6f75"/><rect x="997.82" y="453.1" width="1.6" height="28.6" fill="#6d6f75"/><rect x="1002.74" y="443.1" width="1.6" height="52.4" fill="#6d6f75"/><rect x="1007.67" y="446.1" width="1.6" height="37.3" fill="#6d6f75"/><rect x="1012.60" y="460.0" width="1.6" height="19.5" fill="#6d6f75"/><rect x="1017.53" y="466.5" width="1.6" height="17.0" fill="#6d6f75"/><rect x="1022.46" y="459.0" width="1.6" height="25.4" fill="#6d6f75"/><rect x="1027.38" y="453.2" width="1.6" height="34.8" fill="#6d6f75"/><rect x="1032.31" y="465.3" width="1.6" height="59.2" fill="#6d6f75"/><rect x="1037.24" y="457.1" width="1.6" height="61.5" fill="#6d6f75"/><rect x="1042.17" y="479.0" width="1.6" height="25.4" fill="#6d6f75"/><rect x="1047.10" y="486.4" width="1.6" height="21.9" fill="#6d6f75"/><rect x="1052.02" y="485.4" width="1.6" height="29.3" fill="#6d6f75"/><rect x="1056.95" y="488.3" width="1.6" height="27.3" fill="#6d6f75"/><rect x="1061.88" y="484.0" width="1.6" height="29.7" fill="#6d6f75"/><rect x="1066.81" y="469.2" width="1.6" height="47.4" fill="#6d6f75"/><rect x="1071.74" y="477.0" width="1.6" height="27.3" fill="#6d6f75"/><rect x="1076.66" y="484.0" width="1.6" height="18.4" fill="#6d6f75"/><rect x="1081.59" y="486.0" width="1.6" height="17.0" fill="#6d6f75"/><rect x="1086.52" y="480.9" width="1.6" height="19.5" fill="#6d6f75"/><rect x="1091.45" y="462.0" width="1.6" height="42.4" fill="#6d6f75"/><rect x="1096.38" y="434.1" width="1.6" height="48.4" fill="#6d6f75"/><rect x="1101.30" y="436.0" width="1.6" height="70.3" fill="#6d6f75"/><rect x="1106.23" y="467.8" width="1.6" height="17.6" fill="#6d6f75"/><rect x="1111.16" y="476.2" width="1.6" height="26.2" fill="#6d6f75"/><rect x="1116.09" y="476.2" width="1.6" height="14.4" fill="#6d6f75"/><rect x="1121.02" y="479.5" width="1.6" height="21.5" fill="#6d6f75"/><rect x="1125.94" y="476.2" width="1.6" height="23.4" fill="#6d6f75"/><rect x="1130.87" y="480.9" width="1.6" height="53.3" fill="#6d6f75"/><rect x="1135.80" y="508.8" width="1.6" height="24.4" fill="#6d6f75"/><rect x="1140.73" y="505.9" width="1.6" height="41.0" fill="#6d6f75"/><rect x="1145.66" y="508.2" width="1.6" height="33.2" fill="#6d6f75"/><rect x="1150.58" y="493.8" width="1.6" height="28.7" fill="#6d6f75"/><rect x="1155.51" y="504.9" width="1.6" height="16.6" fill="#6d6f75"/><rect x="1160.44" y="513.3" width="1.6" height="30.1" fill="#6d6f75"/><rect x="1165.37" y="519.6" width="1.6" height="31.6" fill="#6d6f75"/><rect x="1170.30" y="515.3" width="1.6" height="54.1" fill="#6d6f75"/><rect x="1175.22" y="534.2" width="1.6" height="31.2" fill="#6d6f75"/><rect x="1180.15" y="543.4" width="1.6" height="54.7" fill="#6d6f75"/><rect x="1185.08" y="566.0" width="1.6" height="18.0" fill="#6d6f75"/><rect x="1190.01" y="562.1" width="1.6" height="42.4" fill="#6d6f75"/><rect x="1194.94" y="556.3" width="1.6" height="19.5" fill="#6d6f75"/><rect x="1199.86" y="552.4" width="1.6" height="30.1" fill="#6d6f75"/><rect x="1204.79" y="554.3" width="1.6" height="27.3" fill="#6d6f75"/><rect x="1209.72" y="531.3" width="1.6" height="54.3" fill="#6d6f75"/><rect x="1214.65" y="535.2" width="1.6" height="54.3" fill="#6d6f75"/><rect x="1219.58" y="569.9" width="1.6" height="109.3" fill="#6d6f75"/><rect x="1224.50" y="600.0" width="1.6" height="36.3" fill="#6d6f75"/><rect x="1229.43" y="599.2" width="1.6" height="48.2" fill="#6d6f75"/><rect x="1234.36" y="587.5" width="1.6" height="31.2" fill="#6d6f75"/><rect x="1239.29" y="601.2" width="1.6" height="30.1" fill="#6d6f75"/><rect x="1244.22" y="606.5" width="1.6" height="31.8" fill="#6d6f75"/><rect x="1249.14" y="620.1" width="1.6" height="38.5" fill="#6d6f75"/><rect x="1254.07" y="614.3" width="1.6" height="48.2" fill="#6d6f75"/><rect x="1259.00" y="597.3" width="1.6" height="36.4" fill="#6d6f75"/><rect x="1263.93" y="620.2" width="1.6" height="44.4" fill="#6d6f75"/><rect x="1268.86" y="636.3" width="1.6" height="25.2" fill="#6d6f75"/><rect x="1273.78" y="625.4" width="1.6" height="35.2" fill="#6d6f75"/><rect x="1278.71" y="625.4" width="1.6" height="29.5" fill="#6d6f75"/><rect x="1283.64" y="638.9" width="1.6" height="28.6" fill="#6d6f75"/><rect x="1288.57" y="639.3" width="1.6" height="21.3" fill="#6d6f75"/><rect x="1293.50" y="625.4" width="1.6" height="32.6" fill="#6d6f75"/><rect x="1298.42" y="641.5" width="1.6" height="19.1" fill="#6d6f75"/><rect x="1303.35" y="632.0" width="1.6" height="28.6" fill="#6d6f75"/><rect x="1308.28" y="614.3" width="1.6" height="27.2" fill="#6d6f75"/><rect x="1313.21" y="585.5" width="1.6" height="47.4" fill="#6d6f75"/><rect x="1318.14" y="585.5" width="1.6" height="28.3" fill="#6d6f75"/><rect x="1323.06" y="593.4" width="1.6" height="22.9" fill="#6d6f75"/><rect x="1327.99" y="588.2" width="1.6" height="21.5" fill="#6d6f75"/><rect x="1332.92" y="559.1" width="1.6" height="40.8" fill="#6d6f75"/><rect x="1337.85" y="570.4" width="1.6" height="44.3" fill="#6d6f75"/><rect x="1342.78" y="600.4" width="1.6" height="29.5" fill="#6d6f75"/><rect x="1347.70" y="613.2" width="1.6" height="24.3" fill="#6d6f75"/><rect x="1352.63" y="608.0" width="1.6" height="31.8" fill="#6d6f75"/><rect x="1357.56" y="612.0" width="1.6" height="23.4" fill="#6d6f75"/><rect x="1362.49" y="610.3" width="1.6" height="15.1" fill="#6d6f75"/><rect x="1367.42" y="613.2" width="1.6" height="21.3" fill="#6d6f75"/><rect x="1372.34" y="617.2" width="1.6" height="21.3" fill="#6d6f75"/><rect x="1377.27" y="618.4" width="1.6" height="45.1" fill="#6d6f75"/><rect x="1382.20" y="631.1" width="1.6" height="33.5" fill="#6d6f75"/><rect x="1387.13" y="637.5" width="1.6" height="30.0" fill="#6d6f75"/><rect x="1392.06" y="644.1" width="1.6" height="52.4" fill="#6d6f75"/><rect x="1396.98" y="653.1" width="1.6" height="22.2" fill="#6d6f75"/><rect x="1401.91" y="664.6" width="1.6" height="31.9" fill="#6d6f75"/><rect x="1406.84" y="658.4" width="1.6" height="27.1" fill="#6d6f75"/><rect x="1411.77" y="628.2" width="1.6" height="36.4" fill="#6d6f75"/><rect x="1416.70" y="616.0" width="1.6" height="37.7" fill="#6d6f75"/><rect x="1421.62" y="631.1" width="1.6" height="22.6" fill="#6d6f75"/><rect x="1426.55" y="629.4" width="1.6" height="16.1" fill="#6d6f75"/><rect x="1431.48" y="604.2" width="1.6" height="33.0" fill="#6d6f75"/><rect x="1436.41" y="564.3" width="1.6" height="48.2" fill="#6d6f75"/><rect x="1441.34" y="558.2" width="1.6" height="48.1" fill="#6d6f75"/><rect x="1446.26" y="580.3" width="1.6" height="46.2" fill="#6d6f75"/><rect x="1451.19" y="603.3" width="1.6" height="42.2" fill="#6d6f75"/><rect x="1456.12" y="638.6" width="1.6" height="49.3" fill="#6d6f75"/><rect x="1461.05" y="672.2" width="1.6" height="73.4" fill="#6d6f75"/><rect x="1465.98" y="668.1" width="1.6" height="34.2" fill="#6d6f75"/><rect x="1470.90" y="681.4" width="1.6" height="52.1" fill="#6d6f75"/><rect x="1475.83" y="696.2" width="1.6" height="25.2" fill="#6d6f75"/><rect x="1480.76" y="674.0" width="1.6" height="37.8" fill="#6d6f75"/><rect x="1485.69" y="694.1" width="1.6" height="23.3" fill="#6d6f75"/><rect x="1490.62" y="698.8" width="1.6" height="16.8" fill="#6d6f75"/><rect x="1495.54" y="693.1" width="1.6" height="13.9" fill="#6d6f75"/><rect x="1500.47" y="695.3" width="1.6" height="15.1" fill="#6d6f75"/><rect x="1505.40" y="700.2" width="1.6" height="14.9" fill="#6d6f75"/><rect x="1510.33" y="688.5" width="1.6" height="18.6" fill="#6d6f75"/><rect x="1515.26" y="687.3" width="1.6" height="24.3" fill="#6d6f75"/><rect x="1520.18" y="699.0" width="1.6" height="14.8" fill="#6d6f75"/><rect x="1525.11" y="675.9" width="1.6" height="27.8" fill="#6d6f75"/><rect x="1530.04" y="666.5" width="1.6" height="22.0" fill="#6d6f75"/><rect x="1534.97" y="674.1" width="1.6" height="13.2" fill="#6d6f75"/><rect x="1539.90" y="658.2" width="1.6" height="21.7" fill="#6d6f75"/><rect x="1544.82" y="642.9" width="1.6" height="33.0" fill="#6d6f75"/><rect x="1549.75" y="656.1" width="1.6" height="17.4" fill="#6d6f75"/><rect x="1554.68" y="654.4" width="1.6" height="19.1" fill="#6d6f75"/><rect x="1559.61" y="670.3" width="1.6" height="24.3" fill="#6d6f75"/><rect x="1564.54" y="686.8" width="1.6" height="17.9" fill="#6d6f75"/><rect x="1569.46" y="695.5" width="1.6" height="13.0" fill="#6d6f75"/><rect x="1574.39" y="701.9" width="1.6" height="10.9" fill="#6d6f75"/><rect x="1579.32" y="683.9" width="1.6" height="20.3" fill="#6d6f75"/><rect x="1584.25" y="685.1" width="1.6" height="12.1" fill="#6d6f75"/><rect x="1589.18" y="690.3" width="1.6" height="25.2" fill="#6d6f75"/><rect x="1594.10" y="705.9" width="1.6" height="17.9" fill="#6d6f75"/><rect x="1599.03" y="713.4" width="1.6" height="14.2" fill="#6d6f75"/><rect x="1603.96" y="719.8" width="1.6" height="26.9" fill="#6d6f75"/><rect x="1608.89" y="722.0" width="1.6" height="48.6" fill="#6d6f75"/><rect x="1613.82" y="755.0" width="1.6" height="30.7" fill="#6d6f75"/><rect x="1618.74" y="733.1" width="1.6" height="33.0" fill="#6d6f75"/><rect x="1623.67" y="756.2" width="1.6" height="57.3" fill="#6d6f75"/><rect x="1628.60" y="749.8" width="1.6" height="31.6" fill="#6d6f75"/><rect x="1633.53" y="742.9" width="1.6" height="16.8" fill="#6d6f75"/><rect x="1638.46" y="748.1" width="1.6" height="30.2" fill="#6d6f75"/><rect x="1643.38" y="729.3" width="1.6" height="45.1" fill="#6d6f75"/><rect x="1648.31" y="715.8" width="1.6" height="23.1" fill="#6d6f75"/><rect x="1653.24" y="727.2" width="1.6" height="16.3" fill="#6d6f75"/><rect x="1658.17" y="738.0" width="1.6" height="20.5" fill="#6d6f75"/><rect x="1663.10" y="753.3" width="1.6" height="27.2" fill="#6d6f75"/><rect x="1668.02" y="760.2" width="1.6" height="22.0" fill="#6d6f75"/><rect x="1672.95" y="764.0" width="1.6" height="19.4" fill="#6d6f75"/><rect x="1677.88" y="773.6" width="1.6" height="26.9" fill="#6d6f75"/><rect x="1682.81" y="783.1" width="1.6" height="13.0" fill="#6d6f75"/><rect x="1687.74" y="767.2" width="1.6" height="24.6" fill="#6d6f75"/><rect x="1692.66" y="771.3" width="1.6" height="25.3" fill="#6d6f75"/><rect x="1697.59" y="784.0" width="1.6" height="13.9" fill="#6d6f75"/><rect x="1702.52" y="790.9" width="1.6" height="6.4" fill="#6d6f75"/><rect x="1707.45" y="784.0" width="1.6" height="13.9" fill="#6d6f75"/><rect x="1712.38" y="787.5" width="1.6" height="13.0" fill="#6d6f75"/><rect x="1717.30" y="785.2" width="1.6" height="13.5" fill="#6d6f75"/><rect x="1722.23" y="776.2" width="1.6" height="22.6" fill="#6d6f75"/><rect x="1727.16" y="768.9" width="1.6" height="11.6" fill="#6d6f75"/><rect x="1732.09" y="768.4" width="1.6" height="14.8" fill="#6d6f75"/><rect x="1737.02" y="748.1" width="1.6" height="23.8" fill="#6d6f75"/><rect x="1741.94" y="748.4" width="1.6" height="18.2" fill="#6d6f75"/><rect x="1746.87" y="743.2" width="1.6" height="23.4" fill="#6d6f75"/><rect x="1751.80" y="723.3" width="1.6" height="26.9" fill="#6d6f75"/><rect x="1756.73" y="685.1" width="1.6" height="47.7" fill="#6d6f75"/><rect x="1761.66" y="662.0" width="1.6" height="31.8" fill="#6d6f75"/><rect x="1766.58" y="668.9" width="1.6" height="26.6" fill="#6d6f75"/><rect x="1771.51" y="671.2" width="1.6" height="23.4" fill="#6d6f75"/><rect x="1776.44" y="664.3" width="1.6" height="22.6" fill="#6d6f75"/><rect x="1781.37" y="647.8" width="1.6" height="22.6" fill="#6d6f75"/><rect x="1786.30" y="649.2" width="1.6" height="19.8" fill="#6d6f75"/><rect x="1791.22" y="655.1" width="1.6" height="14.4" fill="#6d6f75"/><rect x="1796.15" y="652.1" width="1.6" height="25.2" fill="#6d6f75"/><rect x="1801.08" y="666.0" width="1.6" height="20.8" fill="#6d6f75"/><rect x="1806.01" y="661.3" width="1.6" height="14.2" fill="#6d6f75"/><rect x="1810.94" y="659.0" width="1.6" height="16.5" fill="#6d6f75"/><rect x="1815.86" y="647.4" width="1.6" height="22.9" fill="#6d6f75"/><rect x="1820.79" y="654.7" width="1.6" height="14.8" fill="#6d6f75"/><rect x="1825.72" y="668.2" width="1.6" height="35.4" fill="#6d6f75"/><rect x="1830.65" y="688.0" width="1.6" height="17.9" fill="#6d6f75"/><rect x="1835.58" y="688.0" width="1.6" height="24.8" fill="#6d6f75"/><rect x="1840.50" y="704.2" width="1.6" height="7.5" fill="#6d6f75"/><rect x="1845.43" y="697.2" width="1.6" height="14.4" fill="#6d6f75"/><rect x="1850.36" y="708.9" width="1.6" height="37.8" fill="#6d6f75"/><rect x="1855.29" y="725.0" width="1.6" height="23.1" fill="#6d6f75"/><rect x="1860.22" y="726.2" width="1.6" height="14.4" fill="#6d6f75"/><rect x="1865.14" y="724.1" width="1.6" height="20.5" fill="#6d6f75"/><rect x="1870.07" y="733.1" width="1.6" height="9.7" fill="#6d6f75"/><rect x="1875.00" y="732.5" width="1.6" height="7.3" fill="#6d6f75"/><rect x="1879.93" y="732.5" width="1.6" height="16.3" fill="#6d6f75"/><rect x="1884.86" y="735.9" width="1.6" height="26.7" fill="#6d6f75"/><rect x="1889.78" y="734.2" width="1.6" height="9.4" fill="#6d6f75"/><rect x="1894.71" y="727.2" width="1.6" height="15.1" fill="#6d6f75"/><rect x="1899.64" y="729.0" width="1.6" height="27.8" fill="#6d6f75"/><rect x="1904.57" y="744.9" width="1.6" height="12.1" fill="#6d6f75"/><rect x="1909.50" y="749.3" width="1.6" height="10.4" fill="#6d6f75"/><rect x="1914.42" y="754.5" width="1.6" height="6.9" fill="#6d6f75"/><rect x="1919.35" y="753.6" width="1.6" height="26.9" fill="#6d6f75"/><rect x="1924.28" y="753.6" width="1.6" height="30.9" fill="#6d6f75"/><rect x="1929.21" y="770.1" width="1.6" height="13.0" fill="#6d6f75"/><rect x="1934.14" y="771.0" width="1.6" height="10.4" fill="#6d6f75"/><rect x="1939.06" y="772.4" width="1.6" height="23.3" fill="#6d6f75"/><rect x="1943.99" y="785.2" width="1.6" height="33.5" fill="#6d6f75"/><rect x="1948.92" y="792.7" width="1.6" height="22.0" fill="#6d6f75"/><rect x="1953.85" y="794.4" width="1.6" height="12.1" fill="#6d6f75"/><rect x="1958.78" y="792.1" width="1.6" height="15.6" fill="#6d6f75"/><rect x="1963.70" y="754.0" width="1.6" height="50.3" fill="#6d6f75"/><rect x="1968.63" y="751.0" width="1.6" height="52.6" fill="#6d6f75"/><rect x="1973.56" y="792.1" width="1.6" height="16.7" fill="#6d6f75"/><rect x="1978.49" y="797.9" width="1.6" height="16.1" fill="#6d6f75"/><rect x="1983.42" y="807.4" width="1.6" height="15.6" fill="#6d6f75"/><rect x="1988.34" y="805.4" width="1.6" height="80.3" fill="#6d6f75"/><rect x="1993.27" y="835.5" width="1.6" height="58.3" fill="#6d6f75"/><rect x="1998.20" y="855.2" width="1.6" height="108.1" fill="#6d6f75"/><rect x="2003.13" y="916.3" width="1.6" height="113.7" fill="#6d6f75"/><rect x="2008.06" y="882.5" width="1.6" height="82.7" fill="#6d6f75"/><rect x="2012.98" y="910.1" width="1.6" height="41.4" fill="#6d6f75"/><rect x="2017.91" y="887.2" width="1.6" height="48.5" fill="#6d6f75"/><rect x="2022.84" y="879.3" width="1.6" height="37.6" fill="#6d6f75"/><rect x="2027.77" y="886.2" width="1.6" height="26.3" fill="#6d6f75"/><rect x="2032.70" y="893.2" width="1.6" height="50.0" fill="#6d6f75"/><rect x="2037.62" y="916.3" width="1.6" height="34.4" fill="#6d6f75"/><rect x="2042.55" y="917.2" width="1.6" height="26.3" fill="#6d6f75"/><rect x="2047.48" y="921.4" width="1.6" height="18.4" fill="#6d6f75"/><rect x="2052.41" y="915.0" width="1.6" height="16.4" fill="#6d6f75"/><rect x="2057.34" y="909.3" width="1.6" height="32.3" fill="#6d6f75"/><rect x="2062.26" y="930.0" width="1.6" height="19.6" fill="#6d6f75"/><rect x="2067.19" y="925.1" width="1.6" height="15.6" fill="#6d6f75"/><rect x="2072.12" y="932.7" width="1.6" height="36.3" fill="#6d6f75"/><rect x="2077.05" y="956.3" width="1.6" height="26.3" fill="#6d6f75"/><rect x="2081.98" y="966.1" width="1.6" height="14.7" fill="#6d6f75"/><rect x="2086.90" y="955.2" width="1.6" height="19.4" fill="#6d6f75"/><rect x="2091.83" y="898.4" width="1.6" height="61.1" fill="#6d6f75"/><rect x="2096.76" y="841.1" width="1.6" height="62.0" fill="#6d6f75"/><rect x="2101.69" y="869.3" width="1.6" height="51.3" fill="#6d6f75"/><rect x="2106.62" y="887.2" width="1.6" height="26.7" fill="#6d6f75"/><rect x="2111.54" y="883.2" width="1.6" height="35.7" fill="#6d6f75"/><rect x="2116.47" y="902.2" width="1.6" height="14.0" fill="#6d6f75"/><rect x="2121.40" y="897.2" width="1.6" height="14.2" fill="#6d6f75"/><rect x="2126.33" y="861.9" width="1.6" height="42.6" fill="#6d6f75"/><rect x="2131.26" y="862.9" width="1.6" height="38.5" fill="#6d6f75"/><rect x="2136.18" y="849.9" width="1.6" height="30.2" fill="#6d6f75"/><rect x="2141.11" y="856.0" width="1.6" height="15.5" fill="#6d6f75"/><rect x="2146.04" y="867.4" width="1.6" height="33.7" fill="#6d6f75"/><rect x="2150.97" y="877.0" width="1.6" height="39.8" fill="#6d6f75"/><rect x="2155.90" y="908.2" width="1.6" height="44.0" fill="#6d6f75"/><rect x="2160.82" y="947.1" width="1.6" height="42.6" fill="#6d6f75"/><rect x="2165.75" y="932.9" width="1.6" height="55.4" fill="#6d6f75"/><rect x="2170.68" y="921.4" width="1.6" height="59.1" fill="#6d6f75"/><rect x="2175.61" y="915.9" width="1.6" height="50.4" fill="#6d6f75"/><rect x="2180.54" y="943.0" width="1.6" height="20.2" fill="#6d6f75"/><rect x="2185.46" y="948.0" width="1.6" height="52.6" fill="#6d6f75"/><rect x="2190.39" y="952.2" width="1.6" height="38.5" fill="#6d6f75"/><rect x="2195.32" y="939.8" width="1.6" height="31.0" fill="#6d6f75"/><rect x="2200.25" y="937.9" width="1.6" height="22.3" fill="#6d6f75"/><rect x="2205.18" y="958.1" width="1.6" height="16.5" fill="#6d6f75"/><rect x="2210.10" y="956.0" width="1.6" height="17.9" fill="#6d6f75"/><rect x="2215.03" y="938.8" width="1.6" height="21.6" fill="#6d6f75"/><rect x="2219.96" y="939.5" width="1.6" height="19.9" fill="#6d6f75"/><rect x="2224.89" y="928.8" width="1.6" height="23.8" fill="#6d6f75"/><rect x="2229.82" y="939.8" width="1.6" height="20.6" fill="#6d6f75"/><rect x="2234.74" y="947.1" width="1.6" height="19.6" fill="#6d6f75"/><rect x="2239.67" y="961.5" width="1.6" height="11.0" fill="#6d6f75"/><rect x="2244.60" y="967.3" width="1.6" height="23.4" fill="#6d6f75"/><rect x="2249.53" y="962.2" width="1.6" height="21.3" fill="#6d6f75"/><rect x="2254.46" y="971.1" width="1.6" height="14.4" fill="#6d6f75"/><rect x="2259.38" y="972.2" width="1.6" height="11.3" fill="#6d6f75"/><rect x="2264.31" y="962.9" width="1.6" height="20.9" fill="#6d6f75"/><rect x="2269.24" y="964.3" width="1.6" height="19.5" fill="#6d6f75"/><rect x="2274.17" y="969.1" width="1.6" height="11.4" fill="#6d6f75"/><rect x="2279.10" y="956.3" width="1.6" height="15.1" fill="#6d6f75"/><rect x="2284.02" y="949.8" width="1.6" height="21.6" fill="#6d6f75"/><rect x="2288.95" y="955.3" width="1.6" height="13.1" fill="#6d6f75"/><rect x="20.97" y="657.0" width="3.8" height="9.1" fill="#1c5332"/><rect x="25.90" y="646.6" width="3.8" height="10.4" fill="#1c5332"/><rect x="30.83" y="646.6" width="3.8" height="20.6" fill="#561610"/><rect x="35.76" y="655.1" width="3.8" height="12.1" fill="#1c5332"/><rect x="40.68" y="655.1" width="3.8" height="4.7" fill="#561610"/><rect x="45.61" y="655.1" width="3.8" height="4.7" fill="#1c5332"/><rect x="50.54" y="643.3" width="3.8" height="11.8" fill="#1c5332"/><rect x="55.47" y="630.3" width="3.8" height="12.9" fill="#1c5332"/><rect x="60.40" y="607.5" width="3.8" height="22.8" fill="#1c5332"/><rect x="65.32" y="597.9" width="3.8" height="9.6" fill="#1c5332"/><rect x="70.25" y="592.4" width="3.8" height="5.5" fill="#1c5332"/><rect x="75.18" y="592.4" width="3.8" height="15.1" fill="#561610"/><rect x="80.11" y="607.5" width="3.8" height="9.6" fill="#561610"/><rect x="85.04" y="617.2" width="3.8" height="22.0" fill="#561610"/><rect x="89.96" y="639.1" width="3.8" height="22.0" fill="#561610"/><rect x="94.89" y="642.4" width="3.8" height="18.7" fill="#1c5332"/><rect x="99.82" y="642.4" width="3.8" height="17.3" fill="#561610"/><rect x="104.75" y="659.8" width="3.8" height="15.1" fill="#561610"/><rect x="109.68" y="670.8" width="3.8" height="4.1" fill="#1c5332"/><rect x="114.60" y="670.8" width="3.8" height="16.5" fill="#561610"/><rect x="119.53" y="687.2" width="3.8" height="4.1" fill="#561610"/><rect x="124.46" y="650.1" width="3.8" height="41.2" fill="#1c5332"/><rect x="129.39" y="632.3" width="3.8" height="17.9" fill="#1c5332"/><rect x="134.32" y="624.0" width="3.8" height="8.2" fill="#1c5332"/><rect x="139.24" y="624.0" width="3.8" height="8.2" fill="#561610"/><rect x="144.17" y="621.3" width="3.8" height="11.0" fill="#1c5332"/><rect x="149.10" y="621.3" width="3.8" height="1.5" fill="#561610"/><rect x="154.03" y="622.1" width="3.8" height="5.5" fill="#561610"/><rect x="158.96" y="618.5" width="3.8" height="9.1" fill="#1c5332"/><rect x="163.88" y="618.5" width="3.8" height="23.4" fill="#561610"/><rect x="168.81" y="591.0" width="3.8" height="50.9" fill="#1c5332"/><rect x="173.74" y="556.1" width="3.8" height="34.9" fill="#1c5332"/><rect x="178.67" y="555.3" width="3.8" height="1.5" fill="#1c5332"/><rect x="183.60" y="555.3" width="3.8" height="6.3" fill="#561610"/><rect x="188.52" y="534.1" width="3.8" height="27.5" fill="#1c5332"/><rect x="193.45" y="534.1" width="3.8" height="24.7" fill="#561610"/><rect x="198.38" y="534.1" width="3.8" height="24.7" fill="#1c5332"/><rect x="203.31" y="534.1" width="3.8" height="40.4" fill="#561610"/><rect x="208.24" y="505.0" width="3.8" height="69.5" fill="#1c5332"/><rect x="213.16" y="492.1" width="3.8" height="12.9" fill="#1c5332"/><rect x="218.09" y="466.0" width="3.8" height="26.1" fill="#1c5332"/><rect x="223.02" y="448.1" width="3.8" height="17.9" fill="#1c5332"/><rect x="227.95" y="448.1" width="3.8" height="40.4" fill="#561610"/><rect x="232.88" y="488.5" width="3.8" height="4.9" fill="#561610"/><rect x="237.80" y="493.5" width="3.8" height="101.2" fill="#561610"/><rect x="242.73" y="527.0" width="3.8" height="67.6" fill="#1c5332"/><rect x="247.66" y="527.0" width="3.8" height="49.5" fill="#561610"/><rect x="252.59" y="576.5" width="3.8" height="18.7" fill="#561610"/><rect x="257.52" y="595.2" width="3.8" height="35.7" fill="#561610"/><rect x="262.44" y="576.5" width="3.8" height="54.4" fill="#1c5332"/><rect x="267.37" y="575.4" width="3.8" height="1.5" fill="#1c5332"/><rect x="272.30" y="531.4" width="3.8" height="44.0" fill="#1c5332"/><rect x="277.23" y="531.4" width="3.8" height="23.9" fill="#561610"/><rect x="282.16" y="555.3" width="3.8" height="28.9" fill="#561610"/><rect x="287.08" y="584.2" width="3.8" height="26.1" fill="#561610"/><rect x="292.01" y="571.0" width="3.8" height="39.3" fill="#1c5332"/><rect x="296.94" y="538.8" width="3.8" height="32.2" fill="#1c5332"/><rect x="301.87" y="538.8" width="3.8" height="1.9" fill="#561610"/><rect x="306.80" y="536.1" width="3.8" height="4.7" fill="#1c5332"/><rect x="311.72" y="520.1" width="3.8" height="15.9" fill="#1c5332"/><rect x="316.65" y="520.1" width="3.8" height="25.6" fill="#561610"/><rect x="321.58" y="545.7" width="3.8" height="9.6" fill="#561610"/><rect x="326.51" y="551.2" width="3.8" height="4.1" fill="#1c5332"/><rect x="331.44" y="551.2" width="3.8" height="22.5" fill="#561610"/><rect x="336.36" y="570.4" width="3.8" height="3.3" fill="#1c5332"/><rect x="341.29" y="561.6" width="3.8" height="8.8" fill="#1c5332"/><rect x="346.22" y="561.6" width="3.8" height="18.4" fill="#561610"/><rect x="351.15" y="580.0" width="3.8" height="22.0" fill="#561610"/><rect x="356.08" y="592.4" width="3.8" height="9.6" fill="#1c5332"/><rect x="361.00" y="575.4" width="3.8" height="17.0" fill="#1c5332"/><rect x="365.93" y="571.8" width="3.8" height="3.6" fill="#1c5332"/><rect x="370.86" y="571.8" width="3.8" height="4.1" fill="#561610"/><rect x="375.79" y="575.9" width="3.8" height="15.1" fill="#561610"/><rect x="380.72" y="591.0" width="3.8" height="1.5" fill="#561610"/><rect x="385.64" y="591.6" width="3.8" height="14.6" fill="#561610"/><rect x="390.57" y="606.2" width="3.8" height="7.7" fill="#561610"/><rect x="395.50" y="604.8" width="3.8" height="9.1" fill="#1c5332"/><rect x="400.43" y="604.8" width="3.8" height="62.4" fill="#561610"/><rect x="405.36" y="667.2" width="3.8" height="4.9" fill="#561610"/><rect x="410.28" y="646.0" width="3.8" height="26.1" fill="#1c5332"/><rect x="415.21" y="619.9" width="3.8" height="26.1" fill="#1c5332"/><rect x="420.14" y="619.9" width="3.8" height="26.1" fill="#561610"/><rect x="425.07" y="646.0" width="3.8" height="1.5" fill="#561610"/><rect x="430.00" y="625.4" width="3.8" height="21.2" fill="#1c5332"/><rect x="434.92" y="625.4" width="3.8" height="2.7" fill="#561610"/><rect x="439.85" y="616.6" width="3.8" height="11.5" fill="#1c5332"/><rect x="444.78" y="613.0" width="3.8" height="3.6" fill="#1c5332"/><rect x="449.71" y="613.0" width="3.8" height="13.7" fill="#561610"/><rect x="454.64" y="611.7" width="3.8" height="15.1" fill="#1c5332"/><rect x="459.56" y="609.5" width="3.8" height="2.2" fill="#1c5332"/><rect x="464.49" y="596.5" width="3.8" height="12.9" fill="#1c5332"/><rect x="469.42" y="596.5" width="3.8" height="12.9" fill="#561610"/><rect x="474.35" y="606.2" width="3.8" height="3.3" fill="#1c5332"/><rect x="479.28" y="606.2" width="3.8" height="3.3" fill="#561610"/><rect x="484.20" y="609.5" width="3.8" height="18.1" fill="#561610"/><rect x="489.13" y="621.3" width="3.8" height="6.3" fill="#1c5332"/><rect x="494.06" y="621.3" width="3.8" height="4.1" fill="#561610"/><rect x="498.99" y="622.6" width="3.8" height="2.7" fill="#1c5332"/><rect x="503.92" y="622.6" width="3.8" height="8.8" fill="#561610"/><rect x="508.84" y="631.4" width="3.8" height="11.8" fill="#561610"/><rect x="513.77" y="643.3" width="3.8" height="1.5" fill="#561610"/><rect x="518.70" y="644.1" width="3.8" height="9.3" fill="#561610"/><rect x="523.63" y="653.4" width="3.8" height="15.1" fill="#561610"/><rect x="528.56" y="668.6" width="3.8" height="1.5" fill="#1c5332"/><rect x="533.48" y="665.0" width="3.8" height="3.6" fill="#1c5332"/><rect x="538.41" y="665.0" width="3.8" height="17.8" fill="#561610"/><rect x="543.34" y="682.8" width="3.8" height="19.3" fill="#561610"/><rect x="548.27" y="668.0" width="3.8" height="34.1" fill="#1c5332"/><rect x="553.20" y="663.5" width="3.8" height="4.4" fill="#1c5332"/><rect x="558.12" y="657.6" width="3.8" height="5.9" fill="#1c5332"/><rect x="563.05" y="650.8" width="3.8" height="6.8" fill="#1c5332"/><rect x="567.98" y="650.8" width="3.8" height="1.5" fill="#561610"/><rect x="572.91" y="644.8" width="3.8" height="7.1" fill="#1c5332"/><rect x="577.84" y="638.9" width="3.8" height="5.9" fill="#1c5332"/><rect x="582.76" y="637.7" width="3.8" height="1.5" fill="#1c5332"/><rect x="587.69" y="637.7" width="3.8" height="1.5" fill="#1c5332"/><rect x="592.62" y="630.9" width="3.8" height="6.8" fill="#1c5332"/><rect x="597.55" y="629.4" width="3.8" height="1.5" fill="#1c5332"/><rect x="602.48" y="629.4" width="3.8" height="1.5" fill="#561610"/><rect x="607.40" y="630.3" width="3.8" height="2.1" fill="#561610"/><rect x="612.33" y="617.0" width="3.8" height="15.4" fill="#1c5332"/><rect x="617.26" y="615.2" width="3.8" height="1.8" fill="#1c5332"/><rect x="622.19" y="613.1" width="3.8" height="2.1" fill="#1c5332"/><rect x="627.12" y="609.3" width="3.8" height="3.9" fill="#1c5332"/><rect x="632.04" y="593.3" width="3.8" height="16.0" fill="#1c5332"/><rect x="636.97" y="593.3" width="3.8" height="11.0" fill="#561610"/><rect x="641.90" y="593.3" width="3.8" height="11.0" fill="#1c5332"/><rect x="646.83" y="550.9" width="3.8" height="42.4" fill="#1c5332"/><rect x="651.76" y="529.2" width="3.8" height="21.6" fill="#1c5332"/><rect x="656.68" y="522.1" width="3.8" height="7.1" fill="#1c5332"/><rect x="661.61" y="471.7" width="3.8" height="50.4" fill="#1c5332"/><rect x="666.54" y="464.0" width="3.8" height="7.7" fill="#1c5332"/><rect x="671.47" y="464.0" width="3.8" height="3.0" fill="#561610"/><rect x="676.40" y="467.0" width="3.8" height="15.7" fill="#561610"/><rect x="681.32" y="482.7" width="3.8" height="24.6" fill="#561610"/><rect x="686.25" y="476.7" width="3.8" height="30.5" fill="#1c5332"/><rect x="691.18" y="429.3" width="3.8" height="47.4" fill="#1c5332"/><rect x="696.11" y="427.2" width="3.8" height="2.1" fill="#1c5332"/><rect x="701.04" y="427.2" width="3.8" height="2.1" fill="#561610"/><rect x="705.96" y="395.2" width="3.8" height="34.1" fill="#1c5332"/><rect x="710.89" y="370.9" width="3.8" height="24.3" fill="#1c5332"/><rect x="715.82" y="370.9" width="3.8" height="22.8" fill="#561610"/><rect x="720.75" y="390.8" width="3.8" height="3.0" fill="#1c5332"/><rect x="725.68" y="390.8" width="3.8" height="26.7" fill="#561610"/><rect x="730.60" y="367.9" width="3.8" height="49.5" fill="#1c5332"/><rect x="735.53" y="367.9" width="3.8" height="11.0" fill="#561610"/><rect x="740.46" y="378.3" width="3.8" height="1.5" fill="#1c5332"/><rect x="745.39" y="378.3" width="3.8" height="13.9" fill="#561610"/><rect x="750.32" y="387.8" width="3.8" height="4.4" fill="#1c5332"/><rect x="755.24" y="376.0" width="3.8" height="11.9" fill="#1c5332"/><rect x="760.17" y="366.2" width="3.8" height="9.8" fill="#1c5332"/><rect x="765.10" y="365.0" width="3.8" height="1.5" fill="#1c5332"/><rect x="770.03" y="365.0" width="3.8" height="15.7" fill="#561610"/><rect x="774.96" y="371.2" width="3.8" height="9.5" fill="#1c5332"/><rect x="779.88" y="371.2" width="3.8" height="9.5" fill="#561610"/><rect x="784.81" y="380.7" width="3.8" height="39.1" fill="#561610"/><rect x="789.74" y="419.8" width="3.8" height="5.8" fill="#561610"/><rect x="794.67" y="419.8" width="3.8" height="5.8" fill="#1c5332"/><rect x="799.60" y="419.8" width="3.8" height="16.6" fill="#561610"/><rect x="804.52" y="404.0" width="3.8" height="32.4" fill="#1c5332"/><rect x="809.45" y="404.0" width="3.8" height="7.5" fill="#561610"/><rect x="814.38" y="411.5" width="3.8" height="23.3" fill="#561610"/><rect x="819.31" y="434.8" width="3.8" height="1.5" fill="#561610"/><rect x="824.24" y="420.6" width="3.8" height="15.0" fill="#1c5332"/><rect x="829.16" y="420.6" width="3.8" height="11.6" fill="#561610"/><rect x="834.09" y="432.3" width="3.8" height="9.1" fill="#561610"/><rect x="839.02" y="438.1" width="3.8" height="3.3" fill="#1c5332"/><rect x="843.95" y="438.1" width="3.8" height="13.3" fill="#561610"/><rect x="848.88" y="451.4" width="3.8" height="30.3" fill="#561610"/><rect x="853.80" y="481.7" width="3.8" height="15.0" fill="#561610"/><rect x="858.73" y="453.9" width="3.8" height="42.7" fill="#1c5332"/><rect x="863.66" y="444.4" width="3.8" height="9.5" fill="#1c5332"/><rect x="868.59" y="444.4" width="3.8" height="7.0" fill="#561610"/><rect x="873.52" y="448.9" width="3.8" height="2.5" fill="#1c5332"/><rect x="878.44" y="448.9" width="3.8" height="12.5" fill="#561610"/><rect x="883.37" y="461.4" width="3.8" height="12.0" fill="#561610"/><rect x="888.30" y="473.4" width="3.8" height="15.0" fill="#561610"/><rect x="893.23" y="483.3" width="3.8" height="5.0" fill="#1c5332"/><rect x="898.16" y="475.5" width="3.8" height="7.8" fill="#1c5332"/><rect x="903.08" y="453.9" width="3.8" height="21.6" fill="#1c5332"/><rect x="908.01" y="453.9" width="3.8" height="2.5" fill="#561610"/><rect x="912.94" y="455.1" width="3.8" height="1.5" fill="#1c5332"/><rect x="917.87" y="455.1" width="3.8" height="9.3" fill="#561610"/><rect x="922.80" y="458.1" width="3.8" height="6.3" fill="#1c5332"/><rect x="927.72" y="458.1" width="3.8" height="3.3" fill="#561610"/><rect x="932.65" y="451.4" width="3.8" height="10.0" fill="#1c5332"/><rect x="937.58" y="451.4" width="3.8" height="5.8" fill="#561610"/><rect x="942.51" y="453.4" width="3.8" height="3.8" fill="#1c5332"/><rect x="947.44" y="453.4" width="3.8" height="11.0" fill="#561610"/><rect x="952.36" y="464.4" width="3.8" height="3.3" fill="#561610"/><rect x="957.29" y="467.7" width="3.8" height="7.8" fill="#561610"/><rect x="962.22" y="464.4" width="3.8" height="11.1" fill="#1c5332"/><rect x="967.15" y="464.4" width="3.8" height="3.3" fill="#561610"/><rect x="972.08" y="460.6" width="3.8" height="7.2" fill="#1c5332"/><rect x="977.00" y="460.6" width="3.8" height="6.2" fill="#561610"/><rect x="981.93" y="466.7" width="3.8" height="2.7" fill="#561610"/><rect x="986.86" y="469.4" width="3.8" height="4.5" fill="#561610"/><rect x="991.79" y="473.9" width="3.8" height="2.8" fill="#561610"/><rect x="996.72" y="464.4" width="3.8" height="12.3" fill="#1c5332"/><rect x="1001.64" y="464.4" width="3.8" height="8.3" fill="#561610"/><rect x="1006.57" y="469.4" width="3.8" height="3.3" fill="#1c5332"/><rect x="1011.50" y="468.0" width="3.8" height="1.5" fill="#1c5332"/><rect x="1016.43" y="468.0" width="3.8" height="7.6" fill="#561610"/><rect x="1021.36" y="471.2" width="3.8" height="4.5" fill="#1c5332"/><rect x="1026.28" y="471.2" width="3.8" height="1.5" fill="#561610"/><rect x="1031.21" y="472.3" width="3.8" height="36.5" fill="#561610"/><rect x="1036.14" y="496.1" width="3.8" height="12.7" fill="#1c5332"/><rect x="1041.07" y="491.3" width="3.8" height="4.9" fill="#1c5332"/><rect x="1046.00" y="491.3" width="3.8" height="10.3" fill="#561610"/><rect x="1050.92" y="499.1" width="3.8" height="2.5" fill="#1c5332"/><rect x="1055.85" y="499.1" width="3.8" height="3.3" fill="#561610"/><rect x="1060.78" y="498.1" width="3.8" height="4.3" fill="#1c5332"/><rect x="1065.71" y="484.0" width="3.8" height="14.1" fill="#1c5332"/><rect x="1070.64" y="484.0" width="3.8" height="12.1" fill="#561610"/><rect x="1075.56" y="496.1" width="3.8" height="1.5" fill="#561610"/><rect x="1080.49" y="493.2" width="3.8" height="3.5" fill="#1c5332"/><rect x="1085.42" y="490.3" width="3.8" height="2.9" fill="#1c5332"/><rect x="1090.35" y="474.3" width="3.8" height="16.0" fill="#1c5332"/><rect x="1095.28" y="452.2" width="3.8" height="22.1" fill="#1c5332"/><rect x="1100.20" y="452.2" width="3.8" height="26.4" fill="#561610"/><rect x="1105.13" y="478.6" width="3.8" height="2.9" fill="#561610"/><rect x="1110.06" y="481.5" width="3.8" height="4.9" fill="#561610"/><rect x="1114.99" y="485.4" width="3.8" height="1.5" fill="#1c5332"/><rect x="1119.92" y="485.4" width="3.8" height="2.0" fill="#561610"/><rect x="1124.84" y="487.4" width="3.8" height="4.5" fill="#561610"/><rect x="1129.77" y="491.8" width="3.8" height="22.8" fill="#561610"/><rect x="1134.70" y="514.3" width="3.8" height="1.5" fill="#1c5332"/><rect x="1139.63" y="514.3" width="3.8" height="16.0" fill="#561610"/><rect x="1144.56" y="517.2" width="3.8" height="13.1" fill="#1c5332"/><rect x="1149.48" y="505.9" width="3.8" height="11.3" fill="#1c5332"/><rect x="1154.41" y="505.9" width="3.8" height="15.6" fill="#561610"/><rect x="1159.34" y="521.5" width="3.8" height="11.3" fill="#561610"/><rect x="1164.27" y="532.8" width="3.8" height="4.7" fill="#561610"/><rect x="1169.20" y="537.5" width="3.8" height="16.2" fill="#561610"/><rect x="1174.12" y="551.8" width="3.8" height="2.0" fill="#1c5332"/><rect x="1179.05" y="551.8" width="3.8" height="27.9" fill="#561610"/><rect x="1183.98" y="578.1" width="3.8" height="1.6" fill="#1c5332"/><rect x="1188.91" y="566.8" width="3.8" height="11.3" fill="#1c5332"/><rect x="1193.84" y="566.0" width="3.8" height="1.5" fill="#1c5332"/><rect x="1198.76" y="566.0" width="3.8" height="9.8" fill="#561610"/><rect x="1203.69" y="575.8" width="3.8" height="1.5" fill="#561610"/><rect x="1208.62" y="542.0" width="3.8" height="35.1" fill="#1c5332"/><rect x="1213.55" y="542.0" width="3.8" height="33.8" fill="#561610"/><rect x="1218.48" y="575.8" width="3.8" height="29.7" fill="#561610"/><rect x="1223.40" y="605.5" width="3.8" height="9.4" fill="#561610"/><rect x="1228.33" y="604.5" width="3.8" height="10.3" fill="#1c5332"/><rect x="1233.26" y="604.5" width="3.8" height="10.3" fill="#561610"/><rect x="1238.19" y="610.4" width="3.8" height="4.5" fill="#1c5332"/><rect x="1243.12" y="610.4" width="3.8" height="26.4" fill="#561610"/><rect x="1248.04" y="636.7" width="3.8" height="20.5" fill="#561610"/><rect x="1252.97" y="621.1" width="3.8" height="36.1" fill="#1c5332"/><rect x="1257.90" y="621.1" width="3.8" height="1.5" fill="#561610"/><rect x="1262.83" y="621.6" width="3.8" height="33.0" fill="#561610"/><rect x="1267.76" y="642.4" width="3.8" height="12.1" fill="#1c5332"/><rect x="1272.68" y="631.1" width="3.8" height="11.3" fill="#1c5332"/><rect x="1277.61" y="631.1" width="3.8" height="18.6" fill="#561610"/><rect x="1282.54" y="649.7" width="3.8" height="5.7" fill="#561610"/><rect x="1287.47" y="648.5" width="3.8" height="6.9" fill="#1c5332"/><rect x="1292.40" y="647.9" width="3.8" height="1.5" fill="#1c5332"/><rect x="1297.32" y="647.9" width="3.8" height="2.4" fill="#561610"/><rect x="1302.25" y="639.3" width="3.8" height="11.1" fill="#1c5332"/><rect x="1307.18" y="627.6" width="3.8" height="11.6" fill="#1c5332"/><rect x="1312.11" y="593.4" width="3.8" height="34.2" fill="#1c5332"/><rect x="1317.04" y="593.4" width="3.8" height="18.0" fill="#561610"/><rect x="1321.96" y="597.3" width="3.8" height="14.2" fill="#1c5332"/><rect x="1326.89" y="597.3" width="3.8" height="1.5" fill="#1c5332"/><rect x="1331.82" y="584.3" width="3.8" height="13.0" fill="#1c5332"/><rect x="1336.75" y="584.3" width="3.8" height="26.0" fill="#561610"/><rect x="1341.68" y="610.3" width="3.8" height="16.1" fill="#561610"/><rect x="1346.60" y="620.2" width="3.8" height="6.2" fill="#1c5332"/><rect x="1351.53" y="620.2" width="3.8" height="12.7" fill="#561610"/><rect x="1356.46" y="615.0" width="3.8" height="17.9" fill="#1c5332"/><rect x="1361.39" y="615.0" width="3.8" height="1.5" fill="#561610"/><rect x="1366.32" y="616.0" width="3.8" height="13.4" fill="#561610"/><rect x="1371.24" y="629.4" width="3.8" height="3.5" fill="#561610"/><rect x="1376.17" y="632.8" width="3.8" height="20.0" fill="#561610"/><rect x="1381.10" y="639.3" width="3.8" height="13.5" fill="#1c5332"/><rect x="1386.03" y="639.3" width="3.8" height="19.6" fill="#561610"/><rect x="1390.96" y="658.9" width="3.8" height="6.9" fill="#561610"/><rect x="1395.88" y="665.8" width="3.8" height="3.0" fill="#561610"/><rect x="1400.81" y="668.8" width="3.8" height="12.7" fill="#561610"/><rect x="1405.74" y="663.2" width="3.8" height="18.2" fill="#1c5332"/><rect x="1410.67" y="631.1" width="3.8" height="32.1" fill="#1c5332"/><rect x="1415.60" y="631.1" width="3.8" height="20.3" fill="#561610"/><rect x="1420.52" y="643.3" width="3.8" height="8.2" fill="#1c5332"/><rect x="1425.45" y="635.8" width="3.8" height="7.5" fill="#1c5332"/><rect x="1430.38" y="607.3" width="3.8" height="28.5" fill="#1c5332"/><rect x="1435.31" y="565.7" width="3.8" height="41.6" fill="#1c5332"/><rect x="1440.24" y="565.7" width="3.8" height="30.7" fill="#561610"/><rect x="1445.16" y="596.4" width="3.8" height="29.5" fill="#561610"/><rect x="1450.09" y="625.9" width="3.8" height="19.1" fill="#561610"/><rect x="1455.02" y="645.0" width="3.8" height="37.7" fill="#561610"/><rect x="1459.95" y="682.6" width="3.8" height="14.9" fill="#561610"/><rect x="1464.88" y="681.4" width="3.8" height="16.1" fill="#1c5332"/><rect x="1469.80" y="681.4" width="3.8" height="16.8" fill="#561610"/><rect x="1474.73" y="698.3" width="3.8" height="8.3" fill="#561610"/><rect x="1479.66" y="695.3" width="3.8" height="11.3" fill="#1c5332"/><rect x="1484.59" y="695.3" width="3.8" height="9.9" fill="#561610"/><rect x="1489.52" y="704.0" width="3.8" height="1.5" fill="#1c5332"/><rect x="1494.44" y="700.5" width="3.8" height="3.5" fill="#1c5332"/><rect x="1499.37" y="700.5" width="3.8" height="7.8" fill="#561610"/><rect x="1504.30" y="703.3" width="3.8" height="5.0" fill="#1c5332"/><rect x="1509.23" y="689.4" width="3.8" height="13.9" fill="#1c5332"/><rect x="1514.16" y="689.4" width="3.8" height="22.2" fill="#561610"/><rect x="1519.08" y="700.2" width="3.8" height="11.5" fill="#1c5332"/><rect x="1524.01" y="676.9" width="3.8" height="23.3" fill="#1c5332"/><rect x="1528.94" y="676.9" width="3.8" height="4.7" fill="#561610"/><rect x="1533.87" y="675.9" width="3.8" height="5.7" fill="#1c5332"/><rect x="1538.80" y="659.9" width="3.8" height="16.0" fill="#1c5332"/><rect x="1543.72" y="659.9" width="3.8" height="6.6" fill="#561610"/><rect x="1548.65" y="661.3" width="3.8" height="5.2" fill="#1c5332"/><rect x="1553.58" y="661.3" width="3.8" height="11.1" fill="#561610"/><rect x="1558.51" y="672.4" width="3.8" height="18.7" fill="#561610"/><rect x="1563.44" y="691.1" width="3.8" height="6.6" fill="#561610"/><rect x="1568.36" y="697.7" width="3.8" height="9.0" fill="#561610"/><rect x="1573.29" y="703.3" width="3.8" height="3.5" fill="#1c5332"/><rect x="1578.22" y="685.9" width="3.8" height="17.4" fill="#1c5332"/><rect x="1583.15" y="685.9" width="3.8" height="7.3" fill="#561610"/><rect x="1588.08" y="693.2" width="3.8" height="20.8" fill="#561610"/><rect x="1593.00" y="714.1" width="3.8" height="7.5" fill="#561610"/><rect x="1597.93" y="720.3" width="3.8" height="1.5" fill="#1c5332"/><rect x="1602.86" y="720.3" width="3.8" height="22.0" fill="#561610"/><rect x="1607.79" y="742.3" width="3.8" height="28.3" fill="#561610"/><rect x="1612.72" y="758.5" width="3.8" height="12.1" fill="#1c5332"/><rect x="1617.64" y="758.5" width="3.8" height="7.6" fill="#561610"/><rect x="1622.57" y="766.1" width="3.8" height="5.2" fill="#561610"/><rect x="1627.50" y="754.5" width="3.8" height="16.8" fill="#1c5332"/><rect x="1632.43" y="754.5" width="3.8" height="4.3" fill="#561610"/><rect x="1637.36" y="758.8" width="3.8" height="11.8" fill="#561610"/><rect x="1642.28" y="731.1" width="3.8" height="39.6" fill="#1c5332"/><rect x="1647.21" y="730.7" width="3.8" height="1.5" fill="#1c5332"/><rect x="1652.14" y="730.7" width="3.8" height="9.0" fill="#561610"/><rect x="1657.07" y="739.7" width="3.8" height="13.9" fill="#561610"/><rect x="1662.00" y="753.6" width="3.8" height="20.8" fill="#561610"/><rect x="1666.92" y="767.2" width="3.8" height="7.3" fill="#1c5332"/><rect x="1671.85" y="767.2" width="3.8" height="16.3" fill="#561610"/><rect x="1676.78" y="783.5" width="3.8" height="10.9" fill="#561610"/><rect x="1681.71" y="790.9" width="3.8" height="3.5" fill="#1c5332"/><rect x="1686.64" y="771.8" width="3.8" height="19.1" fill="#1c5332"/><rect x="1691.56" y="771.8" width="3.8" height="17.9" fill="#561610"/><rect x="1696.49" y="789.7" width="3.8" height="6.9" fill="#561610"/><rect x="1701.42" y="796.1" width="3.8" height="1.5" fill="#1c5332"/><rect x="1706.35" y="796.1" width="3.8" height="1.5" fill="#561610"/><rect x="1711.28" y="791.5" width="3.8" height="5.9" fill="#1c5332"/><rect x="1716.20" y="791.5" width="3.8" height="1.5" fill="#561610"/><rect x="1721.13" y="776.2" width="3.8" height="16.0" fill="#1c5332"/><rect x="1726.06" y="776.2" width="3.8" height="1.5" fill="#561610"/><rect x="1730.99" y="771.3" width="3.8" height="5.7" fill="#1c5332"/><rect x="1735.92" y="753.3" width="3.8" height="18.0" fill="#1c5332"/><rect x="1740.84" y="753.3" width="3.8" height="8.2" fill="#561610"/><rect x="1745.77" y="747.0" width="3.8" height="14.4" fill="#1c5332"/><rect x="1750.70" y="727.9" width="3.8" height="19.1" fill="#1c5332"/><rect x="1755.63" y="685.9" width="3.8" height="42.0" fill="#1c5332"/><rect x="1760.56" y="679.0" width="3.8" height="6.9" fill="#1c5332"/><rect x="1765.48" y="679.0" width="3.8" height="10.4" fill="#561610"/><rect x="1770.41" y="672.9" width="3.8" height="16.5" fill="#1c5332"/><rect x="1775.34" y="664.3" width="3.8" height="8.7" fill="#1c5332"/><rect x="1780.27" y="664.3" width="3.8" height="4.3" fill="#561610"/><rect x="1785.20" y="663.0" width="3.8" height="5.6" fill="#1c5332"/><rect x="1790.12" y="663.0" width="3.8" height="1.5" fill="#1c5332"/><rect x="1795.05" y="663.0" width="3.8" height="13.4" fill="#561610"/><rect x="1799.98" y="669.5" width="3.8" height="6.9" fill="#1c5332"/><rect x="1804.91" y="669.5" width="3.8" height="2.3" fill="#561610"/><rect x="1809.84" y="664.3" width="3.8" height="7.5" fill="#1c5332"/><rect x="1814.76" y="656.1" width="3.8" height="8.2" fill="#1c5332"/><rect x="1819.69" y="656.1" width="3.8" height="12.5" fill="#561610"/><rect x="1824.62" y="668.6" width="3.8" height="34.7" fill="#561610"/><rect x="1829.55" y="690.8" width="3.8" height="12.5" fill="#1c5332"/><rect x="1834.48" y="690.8" width="3.8" height="20.8" fill="#561610"/><rect x="1839.40" y="704.7" width="3.8" height="6.9" fill="#1c5332"/><rect x="1844.33" y="704.7" width="3.8" height="6.9" fill="#561610"/><rect x="1849.26" y="711.6" width="3.8" height="34.7" fill="#561610"/><rect x="1854.19" y="734.9" width="3.8" height="11.5" fill="#1c5332"/><rect x="1859.12" y="727.6" width="3.8" height="7.3" fill="#1c5332"/><rect x="1864.04" y="727.6" width="3.8" height="15.3" fill="#561610"/><rect x="1868.97" y="733.7" width="3.8" height="9.2" fill="#1c5332"/><rect x="1873.90" y="733.7" width="3.8" height="2.3" fill="#561610"/><rect x="1878.83" y="735.9" width="3.8" height="12.5" fill="#561610"/><rect x="1883.76" y="741.1" width="3.8" height="7.3" fill="#1c5332"/><rect x="1888.68" y="734.9" width="3.8" height="6.2" fill="#1c5332"/><rect x="1893.61" y="734.9" width="3.8" height="6.6" fill="#561610"/><rect x="1898.54" y="741.5" width="3.8" height="9.0" fill="#561610"/><rect x="1903.47" y="750.5" width="3.8" height="1.5" fill="#561610"/><rect x="1908.40" y="751.5" width="3.8" height="7.3" fill="#561610"/><rect x="1913.32" y="758.8" width="3.8" height="1.5" fill="#561610"/><rect x="1918.25" y="755.0" width="3.8" height="4.2" fill="#1c5332"/><rect x="1923.18" y="755.0" width="3.8" height="27.8" fill="#561610"/><rect x="1928.11" y="776.2" width="3.8" height="6.6" fill="#1c5332"/><rect x="1933.04" y="775.3" width="3.8" height="1.5" fill="#1c5332"/><rect x="1937.96" y="775.3" width="3.8" height="15.1" fill="#561610"/><rect x="1942.89" y="790.4" width="3.8" height="20.1" fill="#561610"/><rect x="1947.82" y="796.1" width="3.8" height="14.4" fill="#1c5332"/><rect x="1952.75" y="796.1" width="3.8" height="4.3" fill="#561610"/><rect x="1957.68" y="800.5" width="3.8" height="3.8" fill="#561610"/><rect x="1962.60" y="754.0" width="3.8" height="50.3" fill="#1c5332"/><rect x="1967.53" y="754.0" width="3.8" height="42.7" fill="#561610"/><rect x="1972.46" y="796.7" width="3.8" height="3.0" fill="#561610"/><rect x="1977.39" y="799.6" width="3.8" height="9.5" fill="#561610"/><rect x="1982.32" y="809.2" width="3.8" height="8.3" fill="#561610"/><rect x="1987.24" y="817.5" width="3.8" height="68.2" fill="#561610"/><rect x="1992.17" y="871.2" width="3.8" height="14.5" fill="#1c5332"/><rect x="1997.10" y="871.2" width="3.8" height="64.5" fill="#561610"/><rect x="2002.03" y="935.7" width="3.8" height="29.5" fill="#561610"/><rect x="2006.96" y="927.0" width="3.8" height="38.2" fill="#1c5332"/><rect x="2011.88" y="922.5" width="3.8" height="4.5" fill="#1c5332"/><rect x="2016.81" y="887.2" width="3.8" height="35.3" fill="#1c5332"/><rect x="2021.74" y="887.2" width="3.8" height="23.5" fill="#561610"/><rect x="2026.67" y="898.1" width="3.8" height="12.6" fill="#1c5332"/><rect x="2031.60" y="898.1" width="3.8" height="45.1" fill="#561610"/><rect x="2036.52" y="924.4" width="3.8" height="18.8" fill="#1c5332"/><rect x="2041.45" y="924.4" width="3.8" height="11.3" fill="#561610"/><rect x="2046.38" y="927.0" width="3.8" height="8.6" fill="#1c5332"/><rect x="2051.31" y="919.5" width="3.8" height="7.5" fill="#1c5332"/><rect x="2056.24" y="919.5" width="3.8" height="18.0" fill="#561610"/><rect x="2061.16" y="931.9" width="3.8" height="5.6" fill="#1c5332"/><rect x="2066.09" y="931.9" width="3.8" height="4.5" fill="#561610"/><rect x="2071.02" y="936.4" width="3.8" height="24.4" fill="#561610"/><rect x="2075.95" y="960.9" width="3.8" height="15.0" fill="#561610"/><rect x="2080.88" y="968.9" width="3.8" height="7.0" fill="#1c5332"/><rect x="2085.80" y="957.1" width="3.8" height="11.8" fill="#1c5332"/><rect x="2090.73" y="902.2" width="3.8" height="54.9" fill="#1c5332"/><rect x="2095.66" y="872.1" width="3.8" height="30.1" fill="#1c5332"/><rect x="2100.59" y="872.1" width="3.8" height="41.7" fill="#561610"/><rect x="2105.52" y="893.2" width="3.8" height="20.7" fill="#1c5332"/><rect x="2110.44" y="893.2" width="3.8" height="14.7" fill="#561610"/><rect x="2115.37" y="905.5" width="3.8" height="2.5" fill="#1c5332"/><rect x="2120.30" y="904.1" width="3.8" height="1.5" fill="#1c5332"/><rect x="2125.23" y="881.1" width="3.8" height="22.9" fill="#1c5332"/><rect x="2130.16" y="878.4" width="3.8" height="2.7" fill="#1c5332"/><rect x="2135.08" y="864.2" width="3.8" height="14.2" fill="#1c5332"/><rect x="2140.01" y="864.2" width="3.8" height="5.5" fill="#561610"/><rect x="2144.94" y="869.7" width="3.8" height="31.3" fill="#561610"/><rect x="2149.87" y="901.1" width="3.8" height="11.3" fill="#561610"/><rect x="2154.80" y="912.3" width="3.8" height="39.8" fill="#561610"/><rect x="2159.72" y="952.2" width="3.8" height="17.3" fill="#561610"/><rect x="2164.65" y="957.1" width="3.8" height="12.4" fill="#1c5332"/><rect x="2169.58" y="924.1" width="3.8" height="33.0" fill="#1c5332"/><rect x="2174.51" y="924.1" width="3.8" height="37.4" fill="#561610"/><rect x="2179.44" y="953.9" width="3.8" height="7.6" fill="#1c5332"/><rect x="2184.36" y="953.9" width="3.8" height="22.7" fill="#561610"/><rect x="2189.29" y="956.0" width="3.8" height="20.6" fill="#1c5332"/><rect x="2194.22" y="951.2" width="3.8" height="4.8" fill="#1c5332"/><rect x="2199.15" y="951.2" width="3.8" height="7.6" fill="#561610"/><rect x="2204.08" y="958.8" width="3.8" height="15.1" fill="#561610"/><rect x="2209.00" y="958.1" width="3.8" height="15.8" fill="#1c5332"/><rect x="2213.93" y="946.1" width="3.8" height="12.0" fill="#1c5332"/><rect x="2218.86" y="945.7" width="3.8" height="1.5" fill="#1c5332"/><rect x="2223.79" y="945.7" width="3.8" height="6.9" fill="#561610"/><rect x="2228.72" y="952.6" width="3.8" height="3.2" fill="#561610"/><rect x="2233.64" y="955.7" width="3.8" height="11.0" fill="#561610"/><rect x="2238.57" y="966.7" width="3.8" height="1.9" fill="#561610"/><rect x="2243.50" y="968.6" width="3.8" height="3.8" fill="#561610"/><rect x="2248.43" y="972.5" width="3.8" height="9.3" fill="#561610"/><rect x="2253.36" y="976.3" width="3.8" height="5.5" fill="#1c5332"/><rect x="2258.28" y="976.2" width="3.8" height="1.5" fill="#1c5332"/><rect x="2263.21" y="965.9" width="3.8" height="10.3" fill="#1c5332"/><rect x="2268.14" y="965.9" width="3.8" height="8.7" fill="#561610"/><rect x="2273.07" y="971.1" width="3.8" height="3.4" fill="#1c5332"/><rect x="2278.00" y="960.1" width="3.8" height="11.0" fill="#1c5332"/><rect x="2282.92" y="960.1" width="3.8" height="8.2" fill="#561610"/><rect x="2287.85" y="962.2" width="3.8" height="6.2" fill="#1c5332"/></g><polyline points="20.0,890.9 22.0,889.7 24.0,888.5 26.0,887.2 28.0,885.9 30.0,884.5 32.0,883.2 34.0,881.8 36.0,880.4 38.0,878.9 40.0,877.5 42.0,876.2 44.0,874.8 46.0,873.5 48.0,872.2 50.0,870.9 52.0,869.6 54.0,868.2 56.0,866.8 58.0,865.3 60.0,863.7 62.0,862.2 64.0,860.5 66.0,858.9 68.0,857.3 70.0,855.7 72.0,854.2 74.0,852.6 76.0,851.2 78.0,849.8 80.0,848.5 82.0,847.2 84.0,845.9 86.0,844.7 88.0,843.5 90.0,842.4 92.0,841.3 94.0,840.2 96.0,839.1 98.0,838.1 100.0,837.2 102.0,836.2 104.0,835.3 106.0,834.5 108.0,833.6 110.0,832.8 112.0,832.0 114.0,831.2 116.0,830.3 118.0,829.5 120.0,828.6 122.0,827.7 124.0,826.7 126.0,825.8 128.0,824.8 130.0,823.8 132.0,822.8 134.0,821.9 136.0,820.9 138.0,820.0 140.0,819.0 142.0,818.1 144.0,817.2 146.0,816.3 148.0,815.3 150.0,814.3 152.0,813.4 154.0,812.3 156.0,811.3 158.0,810.3 160.0,809.2 162.0,808.1 164.0,807.0 166.0,805.8 168.0,804.5 170.0,803.1 172.0,801.7 174.0,800.2 176.0,798.7 178.0,797.2 180.0,795.6 182.0,794.0 184.0,792.4 186.0,791.0 188.0,789.5 190.0,788.1 192.0,786.8 194.0,785.5 196.0,784.2 198.0,782.9 200.0,781.6 202.0,780.3 204.0,778.9 206.0,777.5 208.0,776.0 210.0,774.5 212.0,772.9 214.0,771.2 216.0,769.5 218.0,767.7 220.0,765.8 222.0,764.0 224.0,762.2 226.0,760.3 228.0,758.6 230.0,756.9 232.0,755.2 234.0,753.6 236.0,752.1 238.0,750.8 240.0,749.5 242.0,748.3 244.0,747.2 246.0,746.2 248.0,745.2 250.0,744.3 252.0,743.4 254.0,742.6 256.0,741.8 258.0,741.0 260.0,740.1 262.0,739.2 264.0,738.4 266.0,737.5 268.0,736.5 270.0,735.5 272.0,734.6 274.0,733.6 276.0,732.7 278.0,731.8 280.0,730.9 282.0,730.1 284.0,729.3 286.0,728.5 288.0,727.7 290.0,726.9 292.0,726.1 294.0,725.3 296.0,724.5 298.0,723.6 300.0,722.7 302.0,721.9 304.0,720.9 306.0,720.0 308.0,719.1 310.0,718.1 312.0,717.2 314.0,716.2 316.0,715.4 318.0,714.5 320.0,713.6 322.0,712.8 324.0,712.1 326.0,711.3 328.0,710.6 330.0,709.9 332.0,709.2 334.0,708.5 336.0,707.8 338.0,707.1 340.0,706.4 342.0,705.7 344.0,705.0 346.0,704.3 348.0,703.7 350.0,703.0 352.0,702.4 354.0,701.8 356.0,701.2 358.0,700.6 360.0,700.0 362.0,699.4 364.0,698.8 366.0,698.2 368.0,697.6 370.0,697.0 372.0,696.4 374.0,695.9 376.0,695.3 378.0,694.8 380.0,694.3 382.0,693.7 384.0,693.2 386.0,692.7 388.0,692.2 390.0,691.8 392.0,691.3 394.0,690.9 396.0,690.6 398.0,690.3 400.0,690.0 402.0,689.8 404.0,689.7 406.0,689.5 408.0,689.4 410.0,689.3 412.0,689.1 414.0,688.9 416.0,688.7 418.0,688.4 420.0,688.2 422.0,687.9 424.0,687.6 426.0,687.3 428.0,687.0 430.0,686.7 432.0,686.4 434.0,686.0 436.0,685.7 438.0,685.4 440.0,685.0 442.0,684.6 444.0,684.3 446.0,683.9 448.0,683.5 450.0,683.1 452.0,682.8 454.0,682.4 456.0,682.1 458.0,681.7 460.0,681.4 462.0,681.1 464.0,680.8 466.0,680.5 468.0,680.2 470.0,679.9 472.0,679.6 474.0,679.3 476.0,679.0 478.0,678.7 480.0,678.4 482.0,678.1 484.0,677.9 486.0,677.6 488.0,677.4 490.0,677.1 492.0,676.9 494.0,676.7 496.0,676.5 498.0,676.3 500.0,676.1 502.0,676.0 504.0,675.8 506.0,675.7 508.0,675.6 510.0,675.5 512.0,675.5 514.0,675.4 516.0,675.4 518.0,675.4 520.0,675.4 522.0,675.4 524.0,675.4 526.0,675.4 528.0,675.4 530.0,675.4 532.0,675.4 534.0,675.4 536.0,675.4 538.0,675.3 540.0,675.3 542.0,675.3 544.0,675.2 546.0,675.2 548.0,675.1 550.0,675.1 552.0,675.0 554.0,674.9 556.0,674.9 558.0,674.8 560.0,674.8 562.0,674.7 564.0,674.6 566.0,674.6 568.0,674.6 570.0,674.5 572.0,674.5 574.0,674.5 576.0,674.4 578.0,674.3 580.0,674.2 582.0,674.1 584.0,674.0 586.0,673.9 588.0,673.7 590.0,673.5 592.0,673.3 594.0,673.1 596.0,672.9 598.0,672.7 600.0,672.5 602.0,672.3 604.0,672.0 606.0,671.8 608.0,671.5 610.0,671.3 612.0,671.0 614.0,670.7 616.0,670.5 618.0,670.2 620.0,669.9 622.0,669.6 624.0,669.3 626.0,669.0 628.0,668.7 630.0,668.4 632.0,668.0 634.0,667.7 636.0,667.3 638.0,666.9 640.0,666.5 642.0,666.0 644.0,665.5 646.0,665.0 648.0,664.4 650.0,663.7 652.0,663.0 654.0,662.3 656.0,661.6 658.0,660.8 660.0,660.0 662.0,659.1 664.0,658.3 666.0,657.4 668.0,656.5 670.0,655.6 672.0,654.6 674.0,653.7 676.0,652.8 678.0,651.9 680.0,651.0 682.0,650.2 684.0,649.4 686.0,648.5 688.0,647.6 690.0,646.6 692.0,645.6 694.0,644.6 696.0,643.4 698.0,642.2 700.0,640.9 702.0,639.4 704.0,638.0 706.0,636.5 708.0,635.0 710.0,633.5 712.0,632.0 714.0,630.5 716.0,629.2 718.0,627.8 720.0,626.5 722.0,625.2 724.0,623.9 726.0,622.5 728.0,621.1 730.0,619.7 732.0,618.2 734.0,616.7 736.0,615.1 738.0,613.6 740.0,612.2 742.0,610.7 744.0,609.3 746.0,607.9 748.0,606.6 750.0,605.2 752.0,603.9 754.0,602.6 756.0,601.2 758.0,599.9 760.0,598.6 762.0,597.3 764.0,596.0 766.0,594.8 768.0,593.5 770.0,592.3 772.0,591.1 774.0,589.9 776.0,588.8 778.0,587.7 780.0,586.6 782.0,585.6 784.0,584.7 786.0,583.8 788.0,582.9 790.0,582.2 792.0,581.4 794.0,580.6 796.0,579.9 798.0,579.1 800.0,578.2 802.0,577.4 804.0,576.5 806.0,575.7 808.0,574.9 810.0,574.0 812.0,573.3 814.0,572.5 816.0,571.8 818.0,571.1 820.0,570.4 822.0,569.7 824.0,569.1 826.0,568.4 828.0,567.8 830.0,567.1 832.0,566.5 834.0,565.9 836.0,565.2 838.0,564.6 840.0,564.0 842.0,563.4 844.0,562.8 846.0,562.2 848.0,561.7 850.0,561.1 852.0,560.6 854.0,560.0 856.0,559.5 858.0,559.0 860.0,558.5 862.0,558.1 864.0,557.6 866.0,557.1 868.0,556.7 870.0,556.2 872.0,555.8 874.0,555.4 876.0,555.0 878.0,554.6 880.0,554.2 882.0,553.8 884.0,553.4 886.0,553.0 888.0,552.7 890.0,552.3 892.0,551.8 894.0,551.4 896.0,551.0 898.0,550.5 900.0,550.1 902.0,549.6 904.0,549.1 906.0,548.6 908.0,548.1 910.0,547.7 912.0,547.3 914.0,546.9 916.0,546.5 918.0,546.2 920.0,545.9 922.0,545.7 924.0,545.4 926.0,545.2 928.0,544.9 930.0,544.6 932.0,544.3 934.0,543.9 936.0,543.5 938.0,543.1 940.0,542.6 942.0,542.1 944.0,541.7 946.0,541.2 948.0,540.7 950.0,540.3 952.0,539.9 954.0,539.4 956.0,539.0 958.0,538.6 960.0,538.2 962.0,537.8 964.0,537.4 966.0,537.0 968.0,536.6 970.0,536.2 972.0,535.8 974.0,535.4 976.0,535.1 978.0,534.7 980.0,534.4 982.0,534.0 984.0,533.7 986.0,533.4 988.0,533.0 990.0,532.7 992.0,532.4 994.0,532.1 996.0,531.8 998.0,531.5 1000.0,531.2 1002.0,531.0 1004.0,530.7 1006.0,530.5 1008.0,530.2 1010.0,530.0 1012.0,529.8 1014.0,529.5 1016.0,529.3 1018.0,529.1 1020.0,528.9 1022.0,528.7 1024.0,528.6 1026.0,528.4 1028.0,528.2 1030.0,528.1 1032.0,527.9 1034.0,527.7 1036.0,527.6 1038.0,527.4 1040.0,527.3 1042.0,527.2 1044.0,527.1 1046.0,526.9 1048.0,526.8 1050.0,526.7 1052.0,526.6 1054.0,526.5 1056.0,526.4 1058.0,526.3 1060.0,526.2 1062.0,526.0 1064.0,525.9 1066.0,525.8 1068.0,525.7 1070.0,525.5 1072.0,525.4 1074.0,525.3 1076.0,525.1 1078.0,525.0 1080.0,524.9 1082.0,524.7 1084.0,524.5 1086.0,524.3 1088.0,524.1 1090.0,523.9 1092.0,523.6 1094.0,523.4 1096.0,523.1 1098.0,522.9 1100.0,522.6 1102.0,522.4 1104.0,522.2 1106.0,522.0 1108.0,521.8 1110.0,521.6 1112.0,521.4 1114.0,521.2 1116.0,521.0 1118.0,520.9 1120.0,520.8 1122.0,520.7 1124.0,520.6 1126.0,520.5 1128.0,520.4 1130.0,520.3 1132.0,520.3 1134.0,520.3 1136.0,520.3 1138.0,520.3 1140.0,520.3 1142.0,520.3 1144.0,520.4 1146.0,520.4 1148.0,520.5 1150.0,520.6 1152.0,520.6 1154.0,520.7 1156.0,520.8 1158.0,520.9 1160.0,521.0 1162.0,521.1 1164.0,521.2 1166.0,521.4 1168.0,521.5 1170.0,521.6 1172.0,521.8 1174.0,521.9 1176.0,522.1 1178.0,522.3 1180.0,522.4 1182.0,522.6 1184.0,522.7 1186.0,522.9 1188.0,523.1 1190.0,523.2 1192.0,523.4 1194.0,523.6 1196.0,523.8 1198.0,523.9 1200.0,524.1 1202.0,524.3 1204.0,524.5 1206.0,524.7 1208.0,524.9 1210.0,525.1 1212.0,525.4 1214.0,525.7 1216.0,526.0 1218.0,526.3 1220.0,526.6 1222.0,526.9 1224.0,527.3 1226.0,527.6 1228.0,528.0 1230.0,528.3 1232.0,528.7 1234.0,529.0 1236.0,529.4 1238.0,529.8 1240.0,530.2 1242.0,530.6 1244.0,531.0 1246.0,531.4 1248.0,531.8 1250.0,532.2 1252.0,532.6 1254.0,533.0 1256.0,533.4 1258.0,533.8 1260.0,534.2 1262.0,534.6 1264.0,535.0 1266.0,535.4 1268.0,535.8 1270.0,536.2 1272.0,536.6 1274.0,537.0 1276.0,537.3 1278.0,537.7 1280.0,538.0 1282.0,538.4 1284.0,538.7 1286.0,539.1 1288.0,539.4 1290.0,539.7 1292.0,540.1 1294.0,540.4 1296.0,540.7 1298.0,541.0 1300.0,541.3 1302.0,541.6 1304.0,541.8 1306.0,542.0 1308.0,542.1 1310.0,542.2 1312.0,542.3 1314.0,542.4 1316.0,542.5 1318.0,542.6 1320.0,542.7 1322.0,542.8 1324.0,543.0 1326.0,543.2 1328.0,543.4 1330.0,543.7 1332.0,543.9 1334.0,544.1 1336.0,544.3 1338.0,544.5 1340.0,544.8 1342.0,545.0 1344.0,545.2 1346.0,545.4 1348.0,545.7 1350.0,545.9 1352.0,546.1 1354.0,546.4 1356.0,546.7 1358.0,546.9 1360.0,547.2 1362.0,547.5 1364.0,547.8 1366.0,548.1 1368.0,548.4 1370.0,548.7 1372.0,549.0 1374.0,549.3 1376.0,549.6 1378.0,549.9 1380.0,550.2 1382.0,550.5 1384.0,550.8 1386.0,551.2 1388.0,551.5 1390.0,551.8 1392.0,552.2 1394.0,552.5 1396.0,552.8 1398.0,553.2 1400.0,553.5 1402.0,553.9 1404.0,554.3 1406.0,554.6 1408.0,555.0 1410.0,555.3 1412.0,555.7 1414.0,556.1 1416.0,556.5 1418.0,556.9 1420.0,557.3 1422.0,557.6 1424.0,557.9 1426.0,558.2 1428.0,558.5 1430.0,558.7 1432.0,558.9 1434.0,559.1 1436.0,559.2 1438.0,559.3 1440.0,559.4 1442.0,559.5 1444.0,559.6 1446.0,559.8 1448.0,560.0 1450.0,560.3 1452.0,560.6 1454.0,560.9 1456.0,561.3 1458.0,561.7 1460.0,562.1 1462.0,562.5 1464.0,562.9 1466.0,563.4 1468.0,563.8 1470.0,564.3 1472.0,564.7 1474.0,565.2 1476.0,565.7 1478.0,566.1 1480.0,566.6 1482.0,567.1 1484.0,567.5 1486.0,568.0 1488.0,568.5 1490.0,568.9 1492.0,569.4 1494.0,569.9 1496.0,570.3 1498.0,570.8 1500.0,571.3 1502.0,571.7 1504.0,572.1 1506.0,572.6 1508.0,573.0 1510.0,573.4 1512.0,573.8 1514.0,574.2 1516.0,574.6 1518.0,575.0 1520.0,575.3 1522.0,575.7 1524.0,576.0 1526.0,576.4 1528.0,576.7 1530.0,577.1 1532.0,577.4 1534.0,577.7 1536.0,578.0 1538.0,578.4 1540.0,578.7 1542.0,579.0 1544.0,579.3 1546.0,579.6 1548.0,579.9 1550.0,580.3 1552.0,580.6 1554.0,580.9 1556.0,581.3 1558.0,581.7 1560.0,582.0 1562.0,582.4 1564.0,582.8 1566.0,583.2 1568.0,583.6 1570.0,584.0 1572.0,584.4 1574.0,584.8 1576.0,585.2 1578.0,585.6 1580.0,586.0 1582.0,586.4 1584.0,586.8 1586.0,587.3 1588.0,587.7 1590.0,588.2 1592.0,588.7 1594.0,589.2 1596.0,589.8 1598.0,590.3 1600.0,590.8 1602.0,591.4 1604.0,591.9 1606.0,592.4 1608.0,593.0 1610.0,593.5 1612.0,594.0 1614.0,594.6 1616.0,595.1 1618.0,595.6 1620.0,596.1 1622.0,596.6 1624.0,597.1 1626.0,597.6 1628.0,598.1 1630.0,598.5 1632.0,599.0 1634.0,599.4 1636.0,599.9 1638.0,600.3 1640.0,600.8 1642.0,601.2 1644.0,601.7 1646.0,602.1 1648.0,602.6 1650.0,603.1 1652.0,603.6 1654.0,604.1 1656.0,604.6 1658.0,605.1 1660.0,605.7 1662.0,606.2 1664.0,606.7 1666.0,607.2 1668.0,607.8 1670.0,608.3 1672.0,608.8 1674.0,609.4 1676.0,609.9 1678.0,610.4 1680.0,611.0 1682.0,611.5 1684.0,612.1 1686.0,612.6 1688.0,613.2 1690.0,613.8 1692.0,614.3 1694.0,614.9 1696.0,615.4 1698.0,616.0 1700.0,616.6 1702.0,617.1 1704.0,617.7 1706.0,618.3 1708.0,618.9 1710.0,619.4 1712.0,620.0 1714.0,620.6 1716.0,621.1 1718.0,621.7 1720.0,622.2 1722.0,622.7 1724.0,623.2 1726.0,623.7 1728.0,624.2 1730.0,624.7 1732.0,625.2 1734.0,625.6 1736.0,626.1 1738.0,626.5 1740.0,626.9 1742.0,627.3 1744.0,627.6 1746.0,627.9 1748.0,628.2 1750.0,628.5 1752.0,628.7 1754.0,629.0 1756.0,629.2 1758.0,629.4 1760.0,629.6 1762.0,629.8 1764.0,630.0 1766.0,630.2 1768.0,630.4 1770.0,630.6 1772.0,630.7 1774.0,630.9 1776.0,631.0 1778.0,631.2 1780.0,631.3 1782.0,631.4 1784.0,631.6 1786.0,631.7 1788.0,631.8 1790.0,631.9 1792.0,632.0 1794.0,632.1 1796.0,632.2 1798.0,632.3 1800.0,632.5 1802.0,632.6 1804.0,632.7 1806.0,632.8 1808.0,633.0 1810.0,633.1 1812.0,633.2 1814.0,633.4 1816.0,633.5 1818.0,633.7 1820.0,633.9 1822.0,634.1 1824.0,634.3 1826.0,634.5 1828.0,634.8 1830.0,635.1 1832.0,635.3 1834.0,635.6 1836.0,635.9 1838.0,636.2 1840.0,636.5 1842.0,636.8 1844.0,637.1 1846.0,637.5 1848.0,637.8 1850.0,638.2 1852.0,638.6 1854.0,639.0 1856.0,639.4 1858.0,639.8 1860.0,640.2 1862.0,640.6 1864.0,641.0 1866.0,641.4 1868.0,641.8 1870.0,642.2 1872.0,642.5 1874.0,642.8 1876.0,643.2 1878.0,643.5 1880.0,643.8 1882.0,644.2 1884.0,644.5 1886.0,644.8 1888.0,645.1 1890.0,645.5 1892.0,645.8 1894.0,646.1 1896.0,646.4 1898.0,646.8 1900.0,647.1 1902.0,647.4 1904.0,647.7 1906.0,648.0 1908.0,648.4 1910.0,648.7 1912.0,649.0 1914.0,649.4 1916.0,649.8 1918.0,650.2 1920.0,650.6 1922.0,651.1 1924.0,651.6 1926.0,652.1 1928.0,652.6 1930.0,653.1 1932.0,653.6 1934.0,654.1 1936.0,654.6 1938.0,655.1 1940.0,655.6 1942.0,656.0 1944.0,656.5 1946.0,656.9 1948.0,657.4 1950.0,657.8 1952.0,658.2 1954.0,658.6 1956.0,659.0 1958.0,659.4 1960.0,659.8 1962.0,660.2 1964.0,660.6 1966.0,660.9 1968.0,661.2 1970.0,661.6 1972.0,661.9 1974.0,662.2 1976.0,662.5 1978.0,662.9 1980.0,663.3 1982.0,663.8 1984.0,664.3 1986.0,664.8 1988.0,665.5 1990.0,666.2 1992.0,666.9 1994.0,667.6 1996.0,668.4 1998.0,669.2 2000.0,670.0 2002.0,670.8 2004.0,671.6 2006.0,672.4 2008.0,673.2 2010.0,673.9 2012.0,674.7 2014.0,675.4 2016.0,676.1 2018.0,676.8 2020.0,677.4 2022.0,678.1 2024.0,678.8 2026.0,679.4 2028.0,680.1 2030.0,680.8 2032.0,681.4 2034.0,682.1 2036.0,682.8 2038.0,683.4 2040.0,684.1 2042.0,684.8 2044.0,685.4 2046.0,686.1 2048.0,686.8 2050.0,687.5 2052.0,688.2 2054.0,688.9 2056.0,689.6 2058.0,690.4 2060.0,691.1 2062.0,691.9 2064.0,692.6 2066.0,693.3 2068.0,694.1 2070.0,694.8 2072.0,695.5 2074.0,696.2 2076.0,696.9 2078.0,697.6 2080.0,698.3 2082.0,699.0 2084.0,699.6 2086.0,700.3 2088.0,700.9 2090.0,701.5 2092.0,702.2 2094.0,702.7 2096.0,703.3 2098.0,703.9 2100.0,704.5 2102.0,705.1 2104.0,705.7 2106.0,706.3 2108.0,706.9 2110.0,707.5 2112.0,708.1 2114.0,708.7 2116.0,709.4 2118.0,710.0 2120.0,710.6 2122.0,711.2 2124.0,711.8 2126.0,712.5 2128.0,713.1 2130.0,713.7 2132.0,714.3 2134.0,714.9 2136.0,715.5 2138.0,716.1 2140.0,716.7 2142.0,717.3 2144.0,717.9 2146.0,718.5 2148.0,719.1 2150.0,719.8 2152.0,720.4 2154.0,721.0 2156.0,721.7 2158.0,722.3 2160.0,722.9 2162.0,723.6 2164.0,724.2 2166.0,724.9 2168.0,725.6 2170.0,726.2 2172.0,726.9 2174.0,727.6 2176.0,728.3 2178.0,729.0 2180.0,729.7 2182.0,730.4 2184.0,731.0 2186.0,731.7 2188.0,732.3 2190.0,733.0 2192.0,733.6 2194.0,734.2 2196.0,734.8 2198.0,735.4 2200.0,735.9 2202.0,736.5 2204.0,737.0 2206.0,737.6 2208.0,738.2 2210.0,738.8 2212.0,739.4 2214.0,740.0 2216.0,740.6 2218.0,741.2 2220.0,741.9 2222.0,742.5 2224.0,743.1 2226.0,743.8 2228.0,744.4 2230.0,745.1 2232.0,745.7 2234.0,746.4 2236.0,747.1 2238.0,747.7 2240.0,748.4 2242.0,749.1 2244.0,749.8 2246.0,750.4 2248.0,751.1 2250.0,751.8 2252.0,752.5 2254.0,753.2 2256.0,753.8 2258.0,754.5 2260.0,755.1 2262.0,755.7 2264.0,756.3 2266.0,756.9 2268.0,757.5 2270.0,758.0 2272.0,758.6 2274.0,759.1 2276.0,759.7 2278.0,760.2 2280.0,760.7 2282.0,761.3 2284.0,761.8 2286.0,762.3 2288.0,762.8 2290.0,763.3 2290.9,763.7" fill="none" stroke="#2196f3" stroke-width="3.8" stroke-linejoin="round" clip-path="url(#cm)" stroke-linecap="round"/><polyline points="20.0,699.5 22.0,698.8 24.0,698.1 26.0,697.4 28.0,696.7 30.0,696.0 32.0,695.3 34.0,694.6 36.0,693.9 38.0,693.3 40.0,692.7 42.0,692.0 44.0,691.4 46.0,690.7 48.0,690.0 50.0,689.3 52.0,688.5 54.0,687.6 56.0,686.7 58.0,685.5 60.0,684.3 62.0,682.9 64.0,681.5 66.0,680.0 68.0,678.6 70.0,677.1 72.0,675.8 74.0,674.5 76.0,673.2 78.0,672.0 80.0,670.9 82.0,670.0 84.0,669.4 86.0,668.9 88.0,668.5 90.0,668.3 92.0,668.0 94.0,667.7 96.0,667.5 98.0,667.3 100.0,667.1 102.0,667.1 104.0,667.1 106.0,667.1 108.0,667.2 110.0,667.3 112.0,667.5 114.0,667.7 116.0,668.0 118.0,668.3 120.0,668.4 122.0,668.3 124.0,668.1 126.0,667.6 128.0,667.0 130.0,666.5 132.0,665.9 134.0,665.3 136.0,664.8 138.0,664.3 140.0,663.7 142.0,663.2 144.0,662.7 146.0,662.2 148.0,661.7 150.0,661.1 152.0,660.6 154.0,660.0 156.0,659.4 158.0,658.8 160.0,658.1 162.0,657.5 164.0,656.8 166.0,656.1 168.0,655.2 170.0,654.0 172.0,652.6 174.0,650.9 176.0,649.0 178.0,647.1 180.0,645.4 182.0,643.9 184.0,642.4 186.0,641.0 188.0,639.5 190.0,637.9 192.0,636.1 194.0,634.3 196.0,632.4 198.0,630.5 200.0,628.6 202.0,626.7 204.0,624.8 206.0,622.9 208.0,621.0 210.0,619.2 212.0,617.3 214.0,615.4 216.0,613.2 218.0,610.8 220.0,608.1 222.0,605.1 224.0,601.8 226.0,598.8 228.0,596.1 230.0,593.8 232.0,591.9 234.0,590.5 236.0,589.5 238.0,588.7 240.0,588.2 242.0,587.9 244.0,587.7 246.0,587.6 248.0,587.4 250.0,587.2 252.0,587.1 254.0,587.0 256.0,586.9 258.0,586.9 260.0,586.9 262.0,586.9 264.0,586.9 266.0,586.6 268.0,586.2 270.0,585.6 272.0,584.7 274.0,583.9 276.0,583.3 278.0,582.8 280.0,582.5 282.0,582.3 284.0,582.1 286.0,582.0 288.0,581.8 290.0,581.6 292.0,581.2 294.0,580.8 296.0,580.4 298.0,579.8 300.0,579.2 302.0,578.6 304.0,578.0 306.0,577.4 308.0,576.9 310.0,576.3 312.0,575.8 314.0,575.3 316.0,574.8 318.0,574.3 320.0,573.9 322.0,573.5 324.0,573.2 326.0,572.9 328.0,572.6 330.0,572.3 332.0,572.1 334.0,572.0 336.0,571.8 338.0,571.8 340.0,571.8 342.0,571.8 344.0,571.8 346.0,571.9 348.0,571.9 350.0,572.1 352.0,572.2 354.0,572.4 356.0,572.6 358.0,572.8 360.0,573.0 362.0,573.1 364.0,573.3 366.0,573.4 368.0,573.4 370.0,573.5 372.0,573.6 374.0,573.8 376.0,574.1 378.0,574.4 380.0,574.7 382.0,575.1 384.0,575.5 386.0,576.0 388.0,576.5 390.0,577.0 392.0,577.5 394.0,578.1 396.0,578.7 398.0,579.5 400.0,580.4 402.0,581.5 404.0,582.7 406.0,584.0 408.0,585.1 410.0,586.2 412.0,587.2 414.0,588.0 416.0,588.8 418.0,589.5 420.0,590.2 422.0,590.9 424.0,591.7 426.0,592.4 428.0,593.0 430.0,593.5 432.0,594.0 434.0,594.3 436.0,594.6 438.0,594.8 440.0,595.1 442.0,595.4 444.0,595.6 446.0,595.9 448.0,596.1 450.0,596.4 452.0,596.7 454.0,596.9 456.0,597.1 458.0,597.3 460.0,597.5 462.0,597.6 464.0,597.7 466.0,597.8 468.0,597.9 470.0,598.0 472.0,598.1 474.0,598.2 476.0,598.3 478.0,598.5 480.0,598.7 482.0,599.0 484.0,599.3 486.0,599.7 488.0,600.0 490.0,600.4 492.0,600.8 494.0,601.2 496.0,601.6 498.0,602.0 500.0,602.4 502.0,602.9 504.0,603.4 506.0,603.9 508.0,604.5 510.0,605.0 512.0,605.7 514.0,606.4 516.0,607.1 518.0,608.0 520.0,608.8 522.0,609.6 524.0,610.5 526.0,611.3 528.0,612.2 530.0,613.0 532.0,613.9 534.0,614.7 536.0,615.5 538.0,616.4 540.0,617.2 542.0,618.0 544.0,618.9 546.0,619.7 548.0,620.5 550.0,621.3 552.0,621.9 554.0,622.6 556.0,623.1 558.0,623.6 560.0,624.1 562.0,624.6 564.0,625.1 566.0,625.6 568.0,626.0 570.0,626.4 572.0,626.7 574.0,627.0 576.0,627.3 578.0,627.5 580.0,627.6 582.0,627.8 584.0,627.9 586.0,627.9 588.0,628.0 590.0,628.0 592.0,628.1 594.0,628.1 596.0,628.2 598.0,628.2 600.0,628.2 602.0,628.2 604.0,628.2 606.0,628.1 608.0,628.0 610.0,627.9 612.0,627.8 614.0,627.7 616.0,627.6 618.0,627.5 620.0,627.4 622.0,627.2 624.0,627.0 626.0,626.7 628.0,626.3 630.0,626.0 632.0,625.7 634.0,625.3 636.0,625.0 638.0,624.7 640.0,624.2 642.0,623.6 644.0,622.8 646.0,621.8 648.0,620.6 650.0,619.2 652.0,617.6 654.0,615.9 656.0,614.0 658.0,611.9 660.0,609.8 662.0,607.5 664.0,605.0 666.0,602.4 668.0,599.7 670.0,596.9 672.0,594.2 674.0,591.7 676.0,589.5 678.0,587.6 680.0,585.9 682.0,584.4 684.0,582.9 686.0,581.1 688.0,579.0 690.0,576.6 692.0,574.1 694.0,571.6 696.0,569.0 698.0,566.5 700.0,564.0 702.0,561.4 704.0,558.3 706.0,554.9 708.0,551.0 710.0,546.9 712.0,542.8 714.0,539.1 716.0,535.9 718.0,533.0 720.0,530.3 722.0,527.7 724.0,525.0 726.0,522.3 728.0,519.7 730.0,517.0 732.0,514.4 734.0,511.8 736.0,509.3 738.0,506.8 740.0,504.3 742.0,501.9 744.0,499.6 746.0,497.5 748.0,495.5 750.0,493.6 752.0,491.6 754.0,489.5 756.0,487.2 758.0,484.7 760.0,482.2 762.0,479.7 764.0,477.3 766.0,475.0 768.0,472.9 770.0,470.8 772.0,468.9 774.0,467.0 776.0,465.3 778.0,463.6 780.0,462.2 782.0,461.0 784.0,459.9 786.0,459.1 788.0,458.4 790.0,457.9 792.0,457.3 794.0,456.9 796.0,456.5 798.0,456.1 800.0,455.7 802.0,455.1 804.0,454.5 806.0,453.8 808.0,453.1 810.0,452.5 812.0,452.0 814.0,451.6 816.0,451.2 818.0,450.8 820.0,450.4 822.0,449.9 824.0,449.5 826.0,449.0 828.0,448.7 830.0,448.4 832.0,448.2 834.0,448.0 836.0,447.9 838.0,447.9 840.0,447.9 842.0,448.0 844.0,448.1 846.0,448.4 848.0,448.7 850.0,449.1 852.0,449.6 854.0,450.0 856.0,450.3 858.0,450.4 860.0,450.4 862.0,450.4 864.0,450.3 866.0,450.2 868.0,450.2 870.0,450.2 872.0,450.2 874.0,450.2 876.0,450.2 878.0,450.3 880.0,450.4 882.0,450.5 884.0,450.8 886.0,451.2 888.0,451.7 890.0,452.3 892.0,452.9 894.0,453.4 896.0,453.8 898.0,454.2 900.0,454.5 902.0,454.8 904.0,454.9 906.0,455.0 908.0,455.1 910.0,455.1 912.0,455.1 914.0,455.1 916.0,455.1 918.0,455.1 920.0,455.1 922.0,455.1 924.0,455.1 926.0,455.1 928.0,455.1 930.0,455.1 932.0,455.1 934.0,455.1 936.0,455.1 938.0,455.2 940.0,455.3 942.0,455.4 944.0,455.5 946.0,455.7 948.0,455.9 950.0,456.0 952.0,456.2 954.0,456.3 956.0,456.4 958.0,456.6 960.0,456.7 962.0,456.8 964.0,456.9 966.0,457.0 968.0,457.1 970.0,457.2 972.0,457.3 974.0,457.5 976.0,457.7 978.0,457.9 980.0,458.1 982.0,458.3 984.0,458.5 986.0,458.7 988.0,458.9 990.0,459.0 992.0,459.2 994.0,459.3 996.0,459.4 998.0,459.6 1000.0,459.7 1002.0,459.8 1004.0,460.0 1006.0,460.1 1008.0,460.2 1010.0,460.4 1012.0,460.5 1014.0,460.6 1016.0,460.8 1018.0,461.0 1020.0,461.2 1022.0,461.5 1024.0,461.8 1026.0,462.2 1028.0,462.5 1030.0,462.9 1032.0,463.2 1034.0,463.6 1036.0,464.0 1038.0,464.4 1040.0,464.8 1042.0,465.3 1044.0,465.8 1046.0,466.4 1048.0,466.9 1050.0,467.5 1052.0,468.0 1054.0,468.5 1056.0,469.0 1058.0,469.5 1060.0,469.9 1062.0,470.3 1064.0,470.6 1066.0,470.9 1068.0,471.2 1070.0,471.5 1072.0,471.8 1074.0,472.1 1076.0,472.3 1078.0,472.5 1080.0,472.6 1082.0,472.7 1084.0,472.7 1086.0,472.7 1088.0,472.7 1090.0,472.7 1092.0,472.7 1094.0,472.7 1096.0,472.8 1098.0,472.9 1100.0,473.0 1102.0,473.1 1104.0,473.3 1106.0,473.5 1108.0,473.7 1110.0,473.9 1112.0,474.1 1114.0,474.3 1116.0,474.5 1118.0,474.7 1120.0,474.9 1122.0,475.1 1124.0,475.4 1126.0,475.7 1128.0,476.0 1130.0,476.5 1132.0,477.0 1134.0,477.5 1136.0,478.1 1138.0,478.6 1140.0,479.3 1142.0,479.9 1144.0,480.6 1146.0,481.2 1148.0,481.9 1150.0,482.5 1152.0,483.2 1154.0,483.9 1156.0,484.7 1158.0,485.4 1160.0,486.1 1162.0,486.9 1164.0,487.6 1166.0,488.3 1168.0,489.1 1170.0,489.8 1172.0,490.7 1174.0,491.6 1176.0,492.7 1178.0,493.8 1180.0,495.0 1182.0,496.2 1184.0,497.4 1186.0,498.5 1188.0,499.6 1190.0,500.7 1192.0,501.6 1194.0,502.5 1196.0,503.4 1198.0,504.3 1200.0,505.2 1202.0,506.0 1204.0,506.8 1206.0,507.5 1208.0,508.2 1210.0,508.9 1212.0,509.6 1214.0,510.4 1216.0,511.3 1218.0,512.4 1220.0,513.6 1222.0,514.9 1224.0,516.3 1226.0,517.6 1228.0,519.0 1230.0,520.4 1232.0,521.8 1234.0,523.1 1236.0,524.5 1238.0,525.9 1240.0,527.3 1242.0,528.7 1244.0,530.1 1246.0,531.5 1248.0,532.9 1250.0,534.3 1252.0,535.7 1254.0,537.1 1256.0,538.5 1258.0,539.9 1260.0,541.3 1262.0,542.7 1264.0,544.0 1266.0,545.3 1268.0,546.6 1270.0,547.9 1272.0,549.2 1274.0,550.5 1276.0,551.8 1278.0,553.1 1280.0,554.4 1282.0,555.7 1284.0,557.0 1286.0,558.3 1288.0,559.6 1290.0,560.9 1292.0,562.2 1294.0,563.4 1296.0,564.6 1298.0,565.8 1300.0,567.0 1302.0,568.1 1304.0,569.1 1306.0,570.0 1308.0,570.7 1310.0,571.4 1312.0,572.0 1314.0,572.6 1316.0,573.2 1318.0,573.6 1320.0,574.0 1322.0,574.3 1324.0,574.6 1326.0,574.8 1328.0,575.1 1330.0,575.4 1332.0,575.8 1334.0,576.3 1336.0,576.8 1338.0,577.3 1340.0,577.9 1342.0,578.5 1344.0,579.0 1346.0,579.6 1348.0,580.2 1350.0,580.8 1352.0,581.3 1354.0,581.9 1356.0,582.5 1358.0,583.1 1360.0,583.6 1362.0,584.2 1364.0,584.8 1366.0,585.4 1368.0,586.0 1370.0,586.6 1372.0,587.2 1374.0,587.9 1376.0,588.5 1378.0,589.2 1380.0,589.9 1382.0,590.7 1384.0,591.5 1386.0,592.5 1388.0,593.5 1390.0,594.7 1392.0,595.8 1394.0,596.9 1396.0,598.1 1398.0,599.1 1400.0,600.1 1402.0,600.9 1404.0,601.7 1406.0,602.4 1408.0,603.1 1410.0,603.8 1412.0,604.5 1414.0,605.1 1416.0,605.7 1418.0,606.2 1420.0,606.7 1422.0,607.2 1424.0,607.7 1426.0,608.1 1428.0,608.3 1430.0,608.4 1432.0,608.3 1434.0,608.1 1436.0,607.9 1438.0,607.7 1440.0,607.6 1442.0,607.6 1444.0,607.6 1446.0,607.8 1448.0,608.4 1450.0,609.1 1452.0,610.0 1454.0,611.0 1456.0,612.1 1458.0,613.2 1460.0,614.3 1462.0,615.3 1464.0,616.3 1466.0,617.3 1468.0,618.3 1470.0,619.3 1472.0,620.3 1474.0,621.3 1476.0,622.3 1478.0,623.3 1480.0,624.3 1482.0,625.3 1484.0,626.3 1486.0,627.3 1488.0,628.3 1490.0,629.3 1492.0,630.3 1494.0,631.3 1496.0,632.2 1498.0,633.1 1500.0,634.0 1502.0,634.8 1504.0,635.6 1506.0,636.4 1508.0,637.3 1510.0,638.2 1512.0,639.4 1514.0,640.7 1516.0,642.2 1518.0,643.5 1520.0,644.6 1522.0,645.5 1524.0,646.1 1526.0,646.5 1528.0,646.9 1530.0,647.3 1532.0,647.7 1534.0,648.0 1536.0,648.3 1538.0,648.6 1540.0,648.8 1542.0,649.0 1544.0,649.1 1546.0,649.3 1548.0,649.6 1550.0,649.9 1552.0,650.3 1554.0,650.7 1556.0,651.2 1558.0,651.8 1560.0,652.4 1562.0,653.0 1564.0,653.6 1566.0,654.3 1568.0,655.0 1570.0,655.6 1572.0,656.3 1574.0,656.9 1576.0,657.4 1578.0,658.0 1580.0,658.5 1582.0,659.0 1584.0,659.5 1586.0,660.1 1588.0,660.8 1590.0,661.6 1592.0,662.5 1594.0,663.5 1596.0,664.4 1598.0,665.4 1600.0,666.4 1602.0,667.5 1604.0,668.6 1606.0,669.7 1608.0,670.9 1610.0,672.0 1612.0,673.2 1614.0,674.3 1616.0,675.4 1618.0,676.6 1620.0,677.7 1622.0,678.8 1624.0,679.9 1626.0,681.1 1628.0,682.2 1630.0,683.3 1632.0,684.4 1634.0,685.6 1636.0,686.7 1638.0,687.7 1640.0,688.6 1642.0,689.4 1644.0,690.1 1646.0,690.8 1648.0,691.5 1650.0,692.3 1652.0,693.2 1654.0,694.2 1656.0,695.2 1658.0,696.2 1660.0,697.2 1662.0,698.2 1664.0,699.3 1666.0,700.5 1668.0,701.7 1670.0,703.0 1672.0,704.2 1674.0,705.5 1676.0,706.6 1678.0,707.7 1680.0,708.8 1682.0,709.8 1684.0,710.8 1686.0,711.7 1688.0,712.7 1690.0,713.6 1692.0,714.7 1694.0,715.7 1696.0,716.8 1698.0,718.0 1700.0,719.2 1702.0,720.3 1704.0,721.5 1706.0,722.6 1708.0,723.7 1710.0,724.8 1712.0,725.8 1714.0,726.8 1716.0,727.8 1718.0,728.7 1720.0,729.6 1722.0,730.4 1724.0,731.1 1726.0,731.7 1728.0,732.2 1730.0,732.8 1732.0,733.2 1734.0,733.6 1736.0,733.9 1738.0,734.2 1740.0,734.5 1742.0,734.8 1744.0,735.0 1746.0,735.0 1748.0,734.9 1750.0,734.6 1752.0,734.3 1754.0,733.9 1756.0,733.4 1758.0,732.8 1760.0,732.1 1762.0,731.4 1764.0,730.6 1766.0,729.9 1768.0,729.1 1770.0,728.3 1772.0,727.4 1774.0,726.5 1776.0,725.6 1778.0,724.7 1780.0,723.8 1782.0,722.8 1784.0,721.9 1786.0,720.9 1788.0,719.9 1790.0,718.9 1792.0,717.9 1794.0,717.0 1796.0,716.1 1798.0,715.3 1800.0,714.6 1802.0,713.8 1804.0,713.1 1806.0,712.3 1808.0,711.5 1810.0,710.7 1812.0,709.9 1814.0,709.0 1816.0,708.1 1818.0,707.2 1820.0,706.4 1822.0,705.8 1824.0,705.4 1826.0,705.1 1828.0,705.0 1830.0,704.9 1832.0,704.8 1834.0,704.8 1836.0,704.8 1838.0,704.8 1840.0,704.9 1842.0,704.9 1844.0,705.1 1846.0,705.3 1848.0,705.5 1850.0,705.9 1852.0,706.4 1854.0,706.8 1856.0,707.3 1858.0,707.7 1860.0,708.2 1862.0,708.6 1864.0,709.0 1866.0,709.5 1868.0,709.9 1870.0,710.4 1872.0,710.8 1874.0,711.2 1876.0,711.7 1878.0,712.1 1880.0,712.4 1882.0,712.8 1884.0,713.2 1886.0,713.5 1888.0,713.9 1890.0,714.3 1892.0,714.6 1894.0,715.0 1896.0,715.5 1898.0,716.0 1900.0,716.5 1902.0,717.0 1904.0,717.5 1906.0,718.1 1908.0,718.6 1910.0,719.1 1912.0,719.6 1914.0,720.2 1916.0,720.8 1918.0,721.5 1920.0,722.2 1922.0,723.0 1924.0,723.9 1926.0,724.8 1928.0,725.6 1930.0,726.6 1932.0,727.5 1934.0,728.5 1936.0,729.5 1938.0,730.5 1940.0,731.5 1942.0,732.4 1944.0,733.4 1946.0,734.2 1948.0,735.1 1950.0,735.9 1952.0,736.7 1954.0,737.5 1956.0,738.2 1958.0,738.8 1960.0,739.3 1962.0,739.8 1964.0,740.3 1966.0,740.9 1968.0,741.5 1970.0,742.3 1972.0,743.0 1974.0,743.8 1976.0,744.5 1978.0,745.4 1980.0,746.4 1982.0,747.5 1984.0,748.8 1986.0,750.2 1988.0,751.6 1990.0,753.2 1992.0,755.1 1994.0,757.2 1996.0,759.4 1998.0,761.7 2000.0,764.0 2002.0,766.1 2004.0,768.3 2006.0,770.3 2008.0,772.3 2010.0,774.2 2012.0,775.9 2014.0,777.6 2016.0,779.2 2018.0,780.8 2020.0,782.4 2022.0,784.0 2024.0,785.7 2026.0,787.4 2028.0,789.2 2030.0,791.0 2032.0,792.8 2034.0,794.6 2036.0,796.5 2038.0,798.4 2040.0,800.3 2042.0,802.3 2044.0,804.3 2046.0,806.2 2048.0,808.1 2050.0,809.8 2052.0,811.4 2054.0,813.0 2056.0,814.5 2058.0,816.1 2060.0,817.7 2062.0,819.3 2064.0,821.0 2066.0,822.7 2068.0,824.4 2070.0,826.2 2072.0,828.0 2074.0,829.7 2076.0,831.5 2078.0,833.4 2080.0,835.2 2082.0,837.0 2084.0,838.5 2086.0,839.8 2088.0,840.9 2090.0,841.7 2092.0,842.4 2094.0,843.0 2096.0,843.7 2098.0,844.4 2100.0,845.1 2102.0,845.8 2104.0,846.5 2106.0,847.2 2108.0,847.9 2110.0,848.6 2112.0,849.4 2114.0,850.2 2116.0,851.1 2118.0,851.9 2120.0,852.7 2122.0,853.4 2124.0,854.0 2126.0,854.5 2128.0,854.9 2130.0,855.1 2132.0,855.3 2134.0,855.6 2136.0,855.9 2138.0,856.3 2140.0,856.8 2142.0,857.3 2144.0,857.9 2146.0,858.5 2148.0,859.2 2150.0,860.0 2152.0,861.0 2154.0,862.2 2156.0,863.6 2158.0,865.0 2160.0,866.5 2162.0,867.9 2164.0,869.2 2166.0,870.4 2168.0,871.4 2170.0,872.4 2172.0,873.3 2174.0,874.2 2176.0,875.1 2178.0,876.2 2180.0,877.3 2182.0,878.5 2184.0,879.8 2186.0,881.1 2188.0,882.3 2190.0,883.5 2192.0,884.6 2194.0,885.8 2196.0,886.8 2198.0,887.9 2200.0,888.9 2202.0,889.8 2204.0,890.7 2206.0,891.6 2208.0,892.5 2210.0,893.4 2212.0,894.2 2214.0,895.0 2216.0,895.8 2218.0,896.6 2220.0,897.3 2222.0,898.1 2224.0,898.9 2226.0,899.8 2228.0,900.8 2230.0,901.8 2232.0,902.8 2234.0,903.9 2236.0,904.9 2238.0,905.9 2240.0,906.9 2242.0,908.0 2244.0,909.0 2246.0,910.0 2248.0,911.0 2250.0,911.9 2252.0,912.9 2254.0,913.7 2256.0,914.5 2258.0,915.3 2260.0,916.1 2262.0,916.8 2264.0,917.5 2266.0,918.3 2268.0,919.0 2270.0,919.7 2272.0,920.4 2274.0,921.0 2276.0,921.6 2278.0,922.3 2280.0,922.8 2282.0,923.4 2284.0,924.0 2286.0,924.5 2288.0,925.1 2290.0,925.6 2291.3,926.1" fill="none" stroke="#f23645" stroke-width="3.8" stroke-linejoin="round" clip-path="url(#cm)" stroke-linecap="round"/><line x1="1974.8" y1="869.1" x2="2358.3" y2="978.5" stroke="#673ab7" stroke-width="3.6" stroke-linecap="round"/><line x1="1974.3" y1="982.9" x2="2355.9" y2="982.9" stroke="#673ab7" stroke-width="3.6" stroke-linecap="round"/><line x1="1983.9" y1="872.8" x2="1993.2" y2="982" stroke="#673ab7" stroke-width="3.6" stroke-linecap="round"/><line x1="1972.3" y1="966" x2="1993.2" y2="982" stroke="#673ab7" stroke-width="3.6" stroke-linecap="round"/><line x1="2011.6" y1="964.2" x2="1993.2" y2="982" stroke="#673ab7" stroke-width="3.6" stroke-linecap="round"/><line x1="2354.6" y1="983.9" x2="2363.2" y2="1095" stroke="#673ab7" stroke-width="3.6" stroke-linecap="round"/><line x1="2341.6" y1="1077.8" x2="2363.2" y2="1095" stroke="#673ab7" stroke-width="3.6" stroke-linecap="round"/><line x1="2380" y1="1076" x2="2363.2" y2="1095" stroke="#673ab7" stroke-width="3.6" stroke-linecap="round"/><line x1="2003.7" y1="1108.3" x2="2299" y2="1286.4" stroke="#673ab7" stroke-width="3.6" stroke-linecap="round"/><line x1="2293.7" y1="1260.8" x2="2299" y2="1286.4" stroke="#673ab7" stroke-width="3.6" stroke-linecap="round"/><line x1="2272" y1="1295" x2="2299" y2="1286.4" stroke="#673ab7" stroke-width="3.6" stroke-linecap="round"/><line x1="2375" y1="1095.7" x2="2549" y2="1095.7" stroke="#673ab7" stroke-width="4" stroke-dasharray="4 8"/><rect x="2552" y="54" width="2" height="1274.5" fill="#454648"/><rect x="20" y="238" width="2668" height="2" fill="#131826"/><rect x="20" y="1328" width="2668" height="2" fill="#444648"/><circle cx="509.4" cy="87.2" r="5.6" fill="none" stroke="#4c4c4c" stroke-width="1.7"/><line x1="502.79999999999995" y1="93.6" x2="516.0" y2="80.6" stroke="#4c4c4c" stroke-width="1.7"/><circle cx="540.2" cy="87.2" r="5.6" fill="none" stroke="#4c4c4c" stroke-width="1.7"/><line x1="533.6" y1="93.6" x2="546.8000000000001" y2="80.6" stroke="#4c4c4c" stroke-width="1.7"/><path d="M19.9,1408.2 H35 V1427.7 H27.4 V1415.5 H19.9 Z" fill="#d1d4dc"/><circle cx="42.1" cy="1412.1" r="4.1" fill="#d1d4dc"/><path d="M50,1408.2 H59.4 L50.9,1427.7 H42.3 Z" fill="#d1d4dc"/><text x="20.30" y="39.80" font-family='"Liberation Sans",sans-serif' font-size="25.3" fill="#d1d4dc" stroke="#d1d4dc" stroke-width="0.3" letter-spacing="0.057">bitcoinwallah published on TradingView.com, Jul 09, 2022 13:48 UTC</text><text x="37.00" y="93.70" font-family='"Liberation Sans",sans-serif' font-size="23.8" fill="#4c4c4c" letter-spacing="0.189">RSI (14, close, SMA, 14, 2)</text><text x="347.00" y="93.70" font-family='"Liberation Sans",sans-serif' font-size="23.8" fill="#7e57c2" letter-spacing="0.071">47.25</text><text x="423.30" y="93.70" font-family='"Liberation Sans",sans-serif' font-size="23.8" fill="#fbe73a" letter-spacing="0.846">43.32</text><text x="36.20" y="279.70" font-family='"Liberation Sans",sans-serif' font-size="24.2" fill="#4c4c4c" letter-spacing="0.299">Cardano / US Dollar (calculated by TradingView), 1D, BINANCE</text><text x="753.90" y="279.70" font-family='"Liberation Sans",sans-serif' font-size="24.2" fill="#4c4c4c" letter-spacing="0.000">O</text><text x="773.50" y="279.70" font-family='"Liberation Sans",sans-serif' font-size="24.2" fill="#1c5a30" letter-spacing="0.906">0.466</text><text x="852.50" y="279.70" font-family='"Liberation Sans",sans-serif' font-size="24.2" fill="#4c4c4c" letter-spacing="0.000">H</text><text x="871.30" y="279.70" font-family='"Liberation Sans",sans-serif' font-size="24.2" fill="#1c5a30" letter-spacing="0.906">0.485</text><text x="950.60" y="279.70" font-family='"Liberation Sans",sans-serif' font-size="24.2" fill="#4c4c4c" letter-spacing="0.000">L</text><text x="964.80" y="279.70" font-family='"Liberation Sans",sans-serif' font-size="24.2" fill="#1c5a30" letter-spacing="0.906">0.465</text><text x="1043.30" y="279.70" font-family='"Liberation Sans",sans-serif' font-size="24.2" fill="#4c4c4c" letter-spacing="0.000">C</text><text x="1061.90" y="279.70" font-family='"Liberation Sans",sans-serif' font-size="24.2" fill="#1c5a30" letter-spacing="0.381">0.475</text><text x="1138.50" y="279.70" font-family='"Liberation Sans",sans-serif' font-size="24.2" fill="#1c5a30" letter-spacing="0.640">+0.009 (+1.93%)</text><text x="36.90" y="314.20" font-family='"Liberation Sans",sans-serif' font-size="24.2" fill="#4c4c4c" letter-spacing="0.442">EMA (200, close, 0)</text><text x="274.00" y="314.20" font-family='"Liberation Sans",sans-serif' font-size="24.2" fill="#2196f3" letter-spacing="0.256">0.873</text><text x="36.90" y="348.30" font-family='"Liberation Sans",sans-serif' font-size="24.2" fill="#4c4c4c" letter-spacing="0.395">EMA (50, close, 0)</text><text x="259.00" y="348.30" font-family='"Liberation Sans",sans-serif' font-size="24.2" fill="#f23645" letter-spacing="0.631">0.530</text><text x="37.30" y="381.50" font-family='"Liberation Sans",sans-serif' font-size="24.2" fill="#4c4c4c" letter-spacing="0.075">Vol</text><text x="85.00" y="381.50" font-family='"Liberation Sans",sans-serif' font-size="24.2" fill="#26a69a" letter-spacing="0.734">8.057M</text><text x="2077.00" y="802.70" font-family='"Liberation Sans",sans-serif' font-size="23.2" fill="#673ab7" font-weight="bold" letter-spacing="0.970">Fakeout</text><text x="2141.30" y="1164.80" font-family='"Liberation Sans",sans-serif' font-size="23.8" fill="#673ab7" font-weight="bold" letter-spacing="0.568">Declining volume</text><text x="67.20" y="1428.90" font-family='"Liberation Sans",sans-serif' font-size="27.0" fill="#d1d4dc" stroke="#d1d4dc" stroke-width="0.45" letter-spacing="-0.158">TradingView</text><text x="2572.50" y="272.20" font-family='"Liberation Sans",sans-serif' font-size="20.5" fill="#4c4c4c" letter-spacing="1.011">USD</text><text x="2571.50" y="89.60" font-family='"Liberation Sans",sans-serif' font-size="22.0" fill="#4c4c4c" letter-spacing="1.520">75.00</text><text x="2572.50" y="148.60" font-family='"Liberation Sans",sans-serif' font-size="22.0" fill="#4c4c4c" letter-spacing="1.270">50.00</text><text x="2571.50" y="207.20" font-family='"Liberation Sans",sans-serif' font-size="22.0" fill="#4c4c4c" letter-spacing="1.520">25.00</text><text x="2572.50" y="348.50" font-family='"Liberation Sans",sans-serif' font-size="22.0" fill="#4c4c4c" letter-spacing="1.270">3.200</text><text x="2571.50" y="415.70" font-family='"Liberation Sans",sans-serif' font-size="22.0" fill="#4c4c4c" letter-spacing="1.520">2.600</text><text x="2571.50" y="501.20" font-family='"Liberation Sans",sans-serif' font-size="22.0" fill="#4c4c4c" letter-spacing="1.520">2.000</text><text x="2571.50" y="573.60" font-family='"Liberation Sans",sans-serif' font-size="22.0" fill="#4c4c4c" letter-spacing="1.520">1.600</text><text x="2571.50" y="640.90" font-family='"Liberation Sans",sans-serif' font-size="22.0" fill="#4c4c4c" letter-spacing="1.520">1.300</text><text x="2571.50" y="726.40" font-family='"Liberation Sans",sans-serif' font-size="22.0" fill="#4c4c4c" letter-spacing="1.520">1.000</text><text x="2572.50" y="799.60" font-family='"Liberation Sans",sans-serif' font-size="22.0" fill="#4c4c4c" letter-spacing="1.270">0.800</text><text x="2572.50" y="867.30" font-family='"Liberation Sans",sans-serif' font-size="22.0" fill="#4c4c4c" letter-spacing="1.270">0.650</text><text x="2572.50" y="952.60" font-family='"Liberation Sans",sans-serif' font-size="22.0" fill="#4c4c4c" letter-spacing="1.270">0.500</text><text x="2572.50" y="1009.40" font-family='"Liberation Sans",sans-serif' font-size="22.0" fill="#4c4c4c" letter-spacing="1.270">0.420</text><text x="2572.50" y="1077.50" font-family='"Liberation Sans",sans-serif' font-size="22.0" fill="#4c4c4c" letter-spacing="1.270">0.340</text><text x="2572.50" y="1141.50" font-family='"Liberation Sans",sans-serif' font-size="22.0" fill="#4c4c4c" letter-spacing="1.270">0.280</text><text x="2572.50" y="1205.40" font-family='"Liberation Sans",sans-serif' font-size="22.0" fill="#4c4c4c" letter-spacing="1.270">0.230</text><text x="2572.50" y="1267.70" font-family='"Liberation Sans",sans-serif' font-size="22.0" fill="#4c4c4c" letter-spacing="1.270">0.190</text><text x="2572.50" y="1327.50" font-family='"Liberation Sans",sans-serif' font-size="22.0" fill="#4c4c4c" letter-spacing="1.270">0.158</text><text x="129.75" y="1364.00" font-family='"Liberation Sans",sans-serif' font-size="22" fill="#4c4c4c" letter-spacing="0.369">May</text><text x="285.85" y="1364.00" font-family='"Liberation Sans",sans-serif' font-size="22" fill="#4c4c4c" letter-spacing="1.032">Jun</text><text x="585.00" y="1364.00" font-family='"Liberation Sans",sans-serif' font-size="22" fill="#4c4c4c" letter-spacing="0.545">Aug</text><text x="736.70" y="1364.00" font-family='"Liberation Sans",sans-serif' font-size="22" fill="#4c4c4c" letter-spacing="0.345">Sep</text><text x="1037.35" y="1364.00" font-family='"Liberation Sans",sans-serif' font-size="22" fill="#4c4c4c" letter-spacing="0.588">Nov</text><text x="1491.65" y="1364.00" font-family='"Liberation Sans",sans-serif' font-size="22" fill="#4c4c4c" letter-spacing="0.013">Feb</text><text x="1784.15" y="1364.00" font-family='"Liberation Sans",sans-serif' font-size="22" fill="#4c4c4c" letter-spacing="0.895">Apr</text><text x="2084.35" y="1364.00" font-family='"Liberation Sans",sans-serif' font-size="22" fill="#4c4c4c" letter-spacing="1.032">Jun</text><text x="2383.50" y="1364.00" font-family='"Liberation Sans",sans-serif' font-size="22" fill="#4c4c4c" letter-spacing="0.545">Aug</text><text x="1330.30" y="1364.00" font-family='"Liberation Sans",sans-serif' font-size="22" fill="#4c4c4c" font-weight="bold" letter-spacing="2.631">2022</text><path d="M2441,946.3 H2550 V977.8 H2441 a3,3 0 0 1 -3,-3 V949.3 a3,3 0 0 1 3,-3 Z" fill="#6aa584"/><path d="M2552,946.3 H2676.5 a3.3,3.3 0 0 1 3.3,3.3 V1000.3 a3.3,3.3 0 0 1 -3.3,3.3 H2552 Z" fill="#6aa584"/><path d="M2552,1080.2 H2642.5 a3.3,3.3 0 0 1 3.3,3.3 V1108.3 a3.3,3.3 0 0 1 -3.3,3.3 H2552 Z" fill="#673ab7"/><text x="2448.30" y="970.20" font-family='"Liberation Sans",sans-serif' font-size="22" fill="#ffffff" letter-spacing="-0.239">ADAUSD</text><text x="2573.00" y="970.00" font-family='"Liberation Sans",sans-serif' font-size="22" fill="#ffffff" letter-spacing="1.395">0.475</text><text x="2573.50" y="995.50" font-family='"Liberation Sans",sans-serif' font-size="22" fill="#e6f0ea" letter-spacing="1.504">10:11:40</text><text x="2573.00" y="1104.40" font-family='"Liberation Sans",sans-serif' font-size="22" fill="#ffffff" letter-spacing="1.395">0.314</text></svg>
</body></html>
